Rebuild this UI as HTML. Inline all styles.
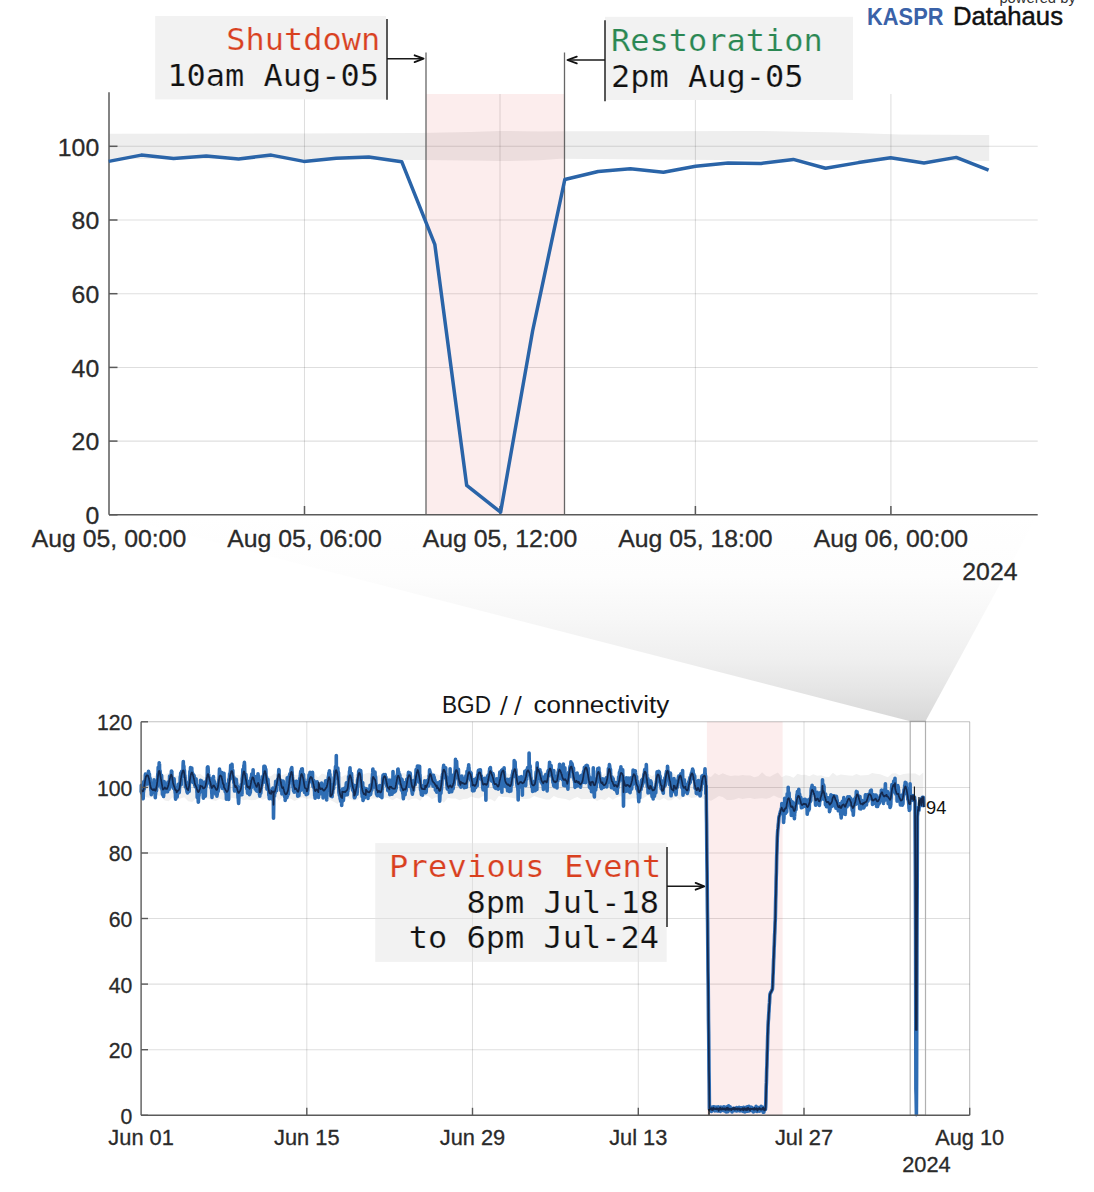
<!DOCTYPE html>
<html><head><meta charset="utf-8"><title>BGD connectivity</title>
<style>html,body{margin:0;padding:0;background:#fff;} body{width:1094px;height:1192px;overflow:hidden;} svg{display:block;}</style>
</head><body>
<svg width="1094" height="1192" viewBox="0 0 1094 1192">
<defs><linearGradient id="cone" x1="0" y1="515" x2="0" y2="721" gradientUnits="userSpaceOnUse"><stop offset="0" stop-color="#ffffff"/><stop offset="0.3" stop-color="#fdfdfd"/><stop offset="0.5" stop-color="#f7f7f7"/><stop offset="0.7" stop-color="#efefef"/><stop offset="0.85" stop-color="#e5e5e5"/><stop offset="1" stop-color="#d8d8d8"/></linearGradient></defs>
<rect x="0" y="0" width="1094" height="1192" fill="#ffffff"/>
<polygon points="109.0,514.8 1037.7,514.8 925.5,721.3 910.2,721.3" fill="url(#cone)"/>
<polygon points="109,133.7 300,133.4 420,133.0 470,132.0 500,131.0 540,131.4 560,131.3 650,131.2 760,130.9 840,132.5 900,134.5 989.2,134.9 989.2,161.0 900,160.2 840,160.2 760,160.2 650,159.4 560,158.8 540,160.3 500,161.1 470,160.6 420,160.0 300,159.3 109,158.9" fill="#eeeeee"/>
<line x1="109.0" y1="441.1" x2="1037.7" y2="441.1" stroke="#000000" stroke-opacity="0.13" stroke-width="1.05"/>
<line x1="109.0" y1="367.4" x2="1037.7" y2="367.4" stroke="#000000" stroke-opacity="0.13" stroke-width="1.05"/>
<line x1="109.0" y1="293.7" x2="1037.7" y2="293.7" stroke="#000000" stroke-opacity="0.13" stroke-width="1.05"/>
<line x1="109.0" y1="220.0" x2="1037.7" y2="220.0" stroke="#000000" stroke-opacity="0.13" stroke-width="1.05"/>
<line x1="109.0" y1="146.3" x2="1037.7" y2="146.3" stroke="#000000" stroke-opacity="0.13" stroke-width="1.05"/>
<line x1="304.5" y1="94.0" x2="304.5" y2="514.8" stroke="#000000" stroke-opacity="0.13" stroke-width="1.05"/>
<line x1="500.0" y1="94.0" x2="500.0" y2="514.8" stroke="#000000" stroke-opacity="0.13" stroke-width="1.05"/>
<line x1="695.4" y1="94.0" x2="695.4" y2="514.8" stroke="#000000" stroke-opacity="0.13" stroke-width="1.05"/>
<line x1="890.9" y1="94.0" x2="890.9" y2="514.8" stroke="#000000" stroke-opacity="0.13" stroke-width="1.05"/>
<rect x="426" y="94.0" width="138.5" height="420.8" fill="rgb(215,50,50)" fill-opacity="0.088"/>
<line x1="426" y1="52.5" x2="426" y2="514.8" stroke="#666" stroke-width="1.3"/>
<line x1="564.5" y1="52.5" x2="564.5" y2="514.8" stroke="#666" stroke-width="1.3"/>
<line x1="109.0" y1="92.3" x2="109.0" y2="514.8" stroke="#5a5a5a" stroke-width="1.5"/>
<line x1="109.0" y1="514.8" x2="1037.7" y2="514.8" stroke="#5a5a5a" stroke-width="1.5"/>
<line x1="109.0" y1="514.8" x2="117.5" y2="514.8" stroke="#5a5a5a" stroke-width="1.5"/>
<line x1="109.0" y1="441.1" x2="117.5" y2="441.1" stroke="#5a5a5a" stroke-width="1.5"/>
<line x1="109.0" y1="367.4" x2="117.5" y2="367.4" stroke="#5a5a5a" stroke-width="1.5"/>
<line x1="109.0" y1="293.7" x2="117.5" y2="293.7" stroke="#5a5a5a" stroke-width="1.5"/>
<line x1="109.0" y1="220.0" x2="117.5" y2="220.0" stroke="#5a5a5a" stroke-width="1.5"/>
<line x1="109.0" y1="146.3" x2="117.5" y2="146.3" stroke="#5a5a5a" stroke-width="1.5"/>
<line x1="304.5" y1="506" x2="304.5" y2="514.8" stroke="#5a5a5a" stroke-width="1.5"/>
<line x1="500.0" y1="506" x2="500.0" y2="514.8" stroke="#5a5a5a" stroke-width="1.5"/>
<line x1="695.4" y1="506" x2="695.4" y2="514.8" stroke="#5a5a5a" stroke-width="1.5"/>
<line x1="890.9" y1="506" x2="890.9" y2="514.8" stroke="#5a5a5a" stroke-width="1.5"/>
<polyline points="108.7,161.4 141.3,155.1 173.6,158.6 206.3,156.1 238.6,158.9 271.2,155.1 303.9,161.4 336.2,158.2 368.8,157.0 401.7,161.7 434.8,244.3 466.7,485.4 500.6,512.2 532.6,331.0 564.8,179.5 598.2,171.5 630.4,168.7 663.4,172.3 695.6,166.3 728.1,163.0 761.1,163.4 793.3,159.4 825.5,168.3 858.5,162.6 890.6,157.8 924.0,163.0 956.2,157.4 988.6,170.2" fill="none" stroke="#2a64a8" stroke-width="3.5" stroke-linejoin="round"/>
<text x="99.2" y="524.1" font-family="'Liberation Sans', Arial, Helvetica, sans-serif" font-size="24.8" fill="#2a2a2a" stroke="#2a2a2a" stroke-width="0.3" text-anchor="end">0</text>
<text x="99.2" y="450.4" font-family="'Liberation Sans', Arial, Helvetica, sans-serif" font-size="24.8" fill="#2a2a2a" stroke="#2a2a2a" stroke-width="0.3" text-anchor="end">20</text>
<text x="99.2" y="376.7" font-family="'Liberation Sans', Arial, Helvetica, sans-serif" font-size="24.8" fill="#2a2a2a" stroke="#2a2a2a" stroke-width="0.3" text-anchor="end">40</text>
<text x="99.2" y="303.0" font-family="'Liberation Sans', Arial, Helvetica, sans-serif" font-size="24.8" fill="#2a2a2a" stroke="#2a2a2a" stroke-width="0.3" text-anchor="end">60</text>
<text x="99.2" y="229.3" font-family="'Liberation Sans', Arial, Helvetica, sans-serif" font-size="24.8" fill="#2a2a2a" stroke="#2a2a2a" stroke-width="0.3" text-anchor="end">80</text>
<text x="99.2" y="155.6" font-family="'Liberation Sans', Arial, Helvetica, sans-serif" font-size="24.8" fill="#2a2a2a" stroke="#2a2a2a" stroke-width="0.3" text-anchor="end">100</text>
<text x="109.0" y="546.9" font-family="'Liberation Sans', Arial, Helvetica, sans-serif" font-size="24.8" fill="#2a2a2a" stroke="#2a2a2a" stroke-width="0.3" text-anchor="middle">Aug 05, 00:00</text>
<text x="304.5" y="546.9" font-family="'Liberation Sans', Arial, Helvetica, sans-serif" font-size="24.8" fill="#2a2a2a" stroke="#2a2a2a" stroke-width="0.3" text-anchor="middle">Aug 05, 06:00</text>
<text x="500.0" y="546.9" font-family="'Liberation Sans', Arial, Helvetica, sans-serif" font-size="24.8" fill="#2a2a2a" stroke="#2a2a2a" stroke-width="0.3" text-anchor="middle">Aug 05, 12:00</text>
<text x="695.4" y="546.9" font-family="'Liberation Sans', Arial, Helvetica, sans-serif" font-size="24.8" fill="#2a2a2a" stroke="#2a2a2a" stroke-width="0.3" text-anchor="middle">Aug 05, 18:00</text>
<text x="890.9" y="546.9" font-family="'Liberation Sans', Arial, Helvetica, sans-serif" font-size="24.8" fill="#2a2a2a" stroke="#2a2a2a" stroke-width="0.3" text-anchor="middle">Aug 06, 00:00</text>
<text x="1017.5" y="579.7" font-family="'Liberation Sans', Arial, Helvetica, sans-serif" font-size="24.8" fill="#2a2a2a" stroke="#2a2a2a" stroke-width="0.3" text-anchor="end">2024</text>
<rect x="155.2" y="16" width="230.8" height="83.4" fill="#f2f2f2"/>
<text transform="translate(380.3,50.2) scale(1,0.92)" x="0" y="0" font-family="'DejaVu Sans Mono', 'Liberation Mono', monospace" font-size="32" fill="#d9401f" stroke="#f2f2f2" stroke-width="0.2" text-anchor="end">Shutdown</text>
<text transform="translate(379,86.0) scale(1,0.92)" x="0" y="0" font-family="'DejaVu Sans Mono', 'Liberation Mono', monospace" font-size="32" fill="#111" stroke="#f2f2f2" stroke-width="0.2" text-anchor="end">10am Aug-05</text>
<line x1="387" y1="19" x2="387" y2="99.8" stroke="#222" stroke-width="1.5"/>
<line x1="387" y1="58.7" x2="423" y2="58.7" stroke="#1a1a1a" stroke-width="1.6"/>
<polyline points="414.6,55.3 423.6,58.7 414.6,62.1" fill="none" stroke="#111" stroke-width="1.8" stroke-linejoin="round" stroke-linecap="round"/>
<rect x="605" y="16.8" width="248" height="83.2" fill="#f2f2f2"/>
<text transform="translate(611,50.9) scale(1,0.92)" x="0" y="0" font-family="'DejaVu Sans Mono', 'Liberation Mono', monospace" font-size="32" fill="#2a8753" stroke="#f2f2f2" stroke-width="0.2" text-anchor="start">Restoration</text>
<text transform="translate(611,87.1) scale(1,0.92)" x="0" y="0" font-family="'DejaVu Sans Mono', 'Liberation Mono', monospace" font-size="32" fill="#111" stroke="#f2f2f2" stroke-width="0.2" text-anchor="start">2pm Aug-05</text>
<line x1="605" y1="20.2" x2="605" y2="101.2" stroke="#222" stroke-width="1.5"/>
<line x1="605" y1="60" x2="568" y2="60" stroke="#1a1a1a" stroke-width="1.6"/>
<polyline points="576.8,56.6 567.4,60 576.8,63.4" fill="none" stroke="#111" stroke-width="1.8" stroke-linejoin="round" stroke-linecap="round"/>
<text x="999.4" y="3.2" font-family="'Liberation Sans', Arial, Helvetica, sans-serif" font-size="15" fill="#333" textLength="76.4" lengthAdjust="spacingAndGlyphs">powered by</text>
<text x="867" y="25.1" font-family="'Liberation Sans', Arial, Helvetica, sans-serif" font-weight="bold" font-size="24" fill="#3a62a8" textLength="76.5" lengthAdjust="spacingAndGlyphs">KASPR</text>
<text x="953" y="25.1" font-family="'Liberation Sans', Arial, Helvetica, sans-serif" font-size="25" fill="#111" stroke="#111" stroke-width="0.45" textLength="110" lengthAdjust="spacingAndGlyphs">Datahaus</text>
<polygon points="141.1,774.9 145.0,774.4 149.0,775.4 152.9,776.4 156.8,775.7 160.8,776.5 164.7,774.8 168.6,772.7 172.5,775.7 176.5,775.9 180.4,774.1 184.3,774.3 188.3,774.7 192.2,776.4 196.1,775.0 200.1,773.8 204.0,777.1 207.9,775.7 211.9,778.0 215.8,777.0 219.7,777.9 223.6,775.3 227.6,777.0 231.5,774.5 235.4,774.7 239.4,775.2 243.3,779.0 247.2,775.8 251.2,775.0 255.1,774.7 259.0,777.4 263.0,775.7 266.9,776.5 270.8,776.2 274.7,773.2 278.7,776.2 282.6,775.0 286.5,773.5 290.5,775.9 294.4,775.1 298.3,774.7 302.3,774.8 306.2,776.9 310.1,774.8 314.0,772.7 318.0,777.5 321.9,773.5 325.8,774.7 329.8,776.0 333.7,771.6 337.6,773.7 341.6,776.9 345.5,774.8 349.4,774.0 353.4,775.2 357.3,773.8 361.2,775.0 365.1,773.8 369.1,772.6 373.0,776.0 376.9,774.6 380.9,775.7 384.8,774.7 388.7,776.9 392.7,775.9 396.6,775.2 400.5,773.4 404.5,773.0 408.4,777.1 412.3,776.2 416.2,773.9 420.2,778.2 424.1,775.7 428.0,775.1 432.0,772.9 435.9,773.8 439.8,775.5 443.8,775.5 447.7,775.3 451.6,772.4 455.6,775.6 459.5,775.4 463.4,774.3 467.3,775.1 471.3,775.2 475.2,776.7 479.1,774.9 483.1,775.6 487.0,773.0 490.9,773.9 494.9,775.0 498.8,773.8 502.7,775.5 506.7,773.2 510.6,774.9 514.5,774.0 518.4,777.0 522.4,774.4 526.3,777.7 530.2,778.3 534.2,775.4 538.1,776.4 542.0,774.7 546.0,771.2 549.9,776.3 553.8,775.9 557.7,774.6 561.7,774.1 565.6,775.2 569.5,775.3 573.5,773.8 577.4,774.1 581.3,776.6 585.3,775.1 589.2,774.9 593.1,776.7 597.1,774.5 601.0,776.3 604.9,773.3 608.8,774.6 612.8,774.8 616.7,775.9 620.6,775.1 624.6,778.2 628.5,776.8 632.4,774.3 636.4,778.4 640.3,773.5 644.2,777.8 648.2,773.7 652.1,776.3 656.0,773.6 659.9,774.7 663.9,777.4 667.8,772.9 671.7,772.6 675.7,775.0 679.6,775.4 683.5,775.2 687.5,776.5 691.4,773.1 695.3,775.8 699.3,775.0 703.2,776.2 707.1,775.9 711.0,777.0 715.0,772.9 718.9,775.2 722.8,773.3 726.8,774.9 730.7,776.1 734.6,775.5 738.6,775.8 742.5,774.9 746.4,775.5 750.4,775.4 754.3,777.2 758.2,776.2 762.1,772.2 766.1,776.0 770.0,776.7 773.9,774.4 777.9,772.6 781.8,777.3 785.7,775.3 789.7,776.0 793.6,777.8 797.5,773.7 801.4,775.0 805.4,774.8 809.3,776.2 813.2,774.2 817.2,775.8 821.1,775.2 825.0,776.7 829.0,776.9 832.9,772.7 836.8,775.8 840.8,774.4 844.7,775.0 848.6,775.6 852.5,775.8 856.5,773.9 860.4,775.4 864.3,775.2 868.3,774.9 872.2,773.0 876.1,773.8 880.1,774.3 884.0,775.8 887.9,777.2 891.9,773.4 895.8,773.3 899.7,775.2 903.6,774.0 907.6,773.6 911.5,773.6 915.4,773.4 919.4,775.7 923.3,772.4 923.3,799.8 919.4,801.4 915.4,796.9 911.5,798.2 907.6,798.8 903.6,797.2 899.7,800.9 895.8,800.7 891.9,799.1 887.9,799.2 884.0,798.7 880.1,797.7 876.1,799.3 872.2,796.8 868.3,796.8 864.3,796.7 860.4,800.4 856.5,798.3 852.5,800.4 848.6,798.8 844.7,798.6 840.8,800.5 836.8,799.8 832.9,798.2 829.0,794.8 825.0,797.5 821.1,799.6 817.2,799.1 813.2,801.3 809.3,798.8 805.4,797.4 801.4,797.1 797.5,800.8 793.6,801.7 789.7,797.9 785.7,801.3 781.8,798.4 777.9,797.6 773.9,795.5 770.0,797.7 766.1,798.7 762.1,798.2 758.2,798.6 754.3,799.0 750.4,798.0 746.4,798.2 742.5,798.9 738.6,798.1 734.6,799.4 730.7,799.9 726.8,800.1 722.8,797.0 718.9,796.1 715.0,798.5 711.0,800.8 707.1,799.5 703.2,798.9 699.3,795.3 695.3,797.6 691.4,798.1 687.5,796.0 683.5,796.8 679.6,800.0 675.7,796.4 671.7,800.3 667.8,800.6 663.9,798.0 659.9,800.2 656.0,798.9 652.1,799.0 648.2,795.2 644.2,797.8 640.3,800.2 636.4,798.5 632.4,798.2 628.5,799.5 624.6,799.0 620.6,796.0 616.7,797.6 612.8,799.8 608.8,797.1 604.9,799.9 601.0,798.9 597.1,801.1 593.1,798.4 589.2,798.9 585.3,798.9 581.3,799.2 577.4,797.1 573.5,798.6 569.5,800.4 565.6,799.1 561.7,798.4 557.7,797.7 553.8,795.9 549.9,799.6 546.0,799.5 542.0,798.6 538.1,797.6 534.2,796.1 530.2,798.4 526.3,798.9 522.4,798.9 518.4,798.2 514.5,798.4 510.6,797.4 506.7,797.0 502.7,797.0 498.8,796.0 494.9,801.5 490.9,799.2 487.0,799.4 483.1,796.0 479.1,798.5 475.2,798.0 471.3,796.6 467.3,798.8 463.4,799.0 459.5,800.3 455.6,798.4 451.6,798.6 447.7,798.1 443.8,802.8 439.8,797.9 435.9,797.3 432.0,799.3 428.0,796.1 424.1,795.7 420.2,800.7 416.2,798.5 412.3,798.8 408.4,800.6 404.5,796.7 400.5,799.7 396.6,797.7 392.7,800.2 388.7,798.2 384.8,797.6 380.9,797.2 376.9,798.5 373.0,798.6 369.1,798.5 365.1,798.3 361.2,796.7 357.3,800.1 353.4,800.5 349.4,798.5 345.5,796.3 341.6,799.4 337.6,803.9 333.7,801.8 329.8,799.7 325.8,802.1 321.9,798.6 318.0,796.6 314.0,799.0 310.1,798.4 306.2,798.7 302.3,797.3 298.3,799.3 294.4,800.9 290.5,798.6 286.5,798.7 282.6,797.1 278.7,800.8 274.7,795.2 270.8,798.0 266.9,797.9 263.0,799.8 259.0,798.2 255.1,800.0 251.2,800.2 247.2,799.6 243.3,800.2 239.4,797.9 235.4,798.6 231.5,797.7 227.6,801.2 223.6,800.1 219.7,798.8 215.8,801.0 211.9,799.9 207.9,798.5 204.0,798.9 200.1,798.5 196.1,798.1 192.2,802.0 188.3,801.2 184.3,797.2 180.4,798.6 176.5,800.2 172.5,797.2 168.6,801.3 164.7,800.4 160.8,796.1 156.8,795.5 152.9,797.1 149.0,797.7 145.0,797.1 141.1,800.6" fill="#f0f0f0"/>
<line x1="141.1" y1="1049.7" x2="969.7" y2="1049.7" stroke="#000000" stroke-opacity="0.13" stroke-width="1.05"/>
<line x1="141.1" y1="984.1" x2="969.7" y2="984.1" stroke="#000000" stroke-opacity="0.13" stroke-width="1.05"/>
<line x1="141.1" y1="918.5" x2="969.7" y2="918.5" stroke="#000000" stroke-opacity="0.13" stroke-width="1.05"/>
<line x1="141.1" y1="853.0" x2="969.7" y2="853.0" stroke="#000000" stroke-opacity="0.13" stroke-width="1.05"/>
<line x1="141.1" y1="787.4" x2="969.7" y2="787.4" stroke="#000000" stroke-opacity="0.13" stroke-width="1.05"/>
<line x1="141.1" y1="721.8" x2="969.7" y2="721.8" stroke="#000000" stroke-opacity="0.13" stroke-width="1.05"/>
<line x1="306.8" y1="721.8" x2="306.8" y2="1115.3" stroke="#000000" stroke-opacity="0.13" stroke-width="1.05"/>
<line x1="472.5" y1="721.8" x2="472.5" y2="1115.3" stroke="#000000" stroke-opacity="0.13" stroke-width="1.05"/>
<line x1="638.3" y1="721.8" x2="638.3" y2="1115.3" stroke="#000000" stroke-opacity="0.13" stroke-width="1.05"/>
<line x1="804.0" y1="721.8" x2="804.0" y2="1115.3" stroke="#000000" stroke-opacity="0.13" stroke-width="1.05"/>
<line x1="969.7" y1="721.8" x2="969.7" y2="1115.3" stroke="#000000" stroke-opacity="0.13" stroke-width="1.05"/>
<rect x="706.9" y="721.8" width="75.7" height="393.5" fill="rgb(215,50,50)" fill-opacity="0.088"/>
<rect x="910.2" y="721.3" width="15.3" height="394.0" fill="none" stroke="#b0b0b0" stroke-width="1.2"/>
<path d="M141.1,791.7 L141.2,792.0 L141.3,785.3 L141.5,788.9 L141.6,788.8 L141.7,793.3 L141.8,791.2 L142.0,788.0 L142.1,786.0 L142.2,786.6 L142.3,791.8 L142.5,789.0 L142.6,789.8 L142.7,796.7 L142.8,794.1 L142.9,797.1 L143.1,798.7 L143.2,798.1 L143.3,792.5 L143.4,792.5 L143.6,790.7 L143.7,785.3 L143.8,781.5 L143.9,783.1 L144.1,784.4 L144.2,787.9 L144.3,788.9 L144.4,786.4 L144.6,784.5 L144.7,783.6 L144.8,780.4 L144.9,782.4 L145.0,781.9 L145.2,779.2 L145.3,777.4 L145.4,774.5 L145.5,774.0 L145.7,775.3 L145.8,774.4 L145.9,777.2 L146.0,780.9 L146.2,777.6 L146.3,776.8 L146.4,775.1 L146.5,779.2 L146.6,778.6 L146.8,778.8 L146.9,779.7 L147.0,784.1 L147.1,782.3 L147.3,777.8 L147.4,775.9 L147.5,777.1 L147.6,776.6 L147.8,774.3 L147.9,782.1 L148.0,781.1 L148.1,778.7 L148.3,776.7 L148.4,772.7 L148.5,771.4 L148.6,772.7 L148.7,774.0 L148.9,773.8 L149.0,777.3 L149.1,778.8 L149.2,777.6 L149.4,774.1 L149.5,777.2 L149.6,779.3 L149.7,780.4 L149.9,778.4 L150.0,780.5 L150.1,778.3 L150.2,783.2 L150.3,784.8 L150.5,786.2 L150.6,784.6 L150.7,782.8 L150.8,788.3 L151.0,790.9 L151.1,789.5 L151.2,791.1 L151.3,794.7 L151.5,790.6 L151.6,788.9 L151.7,787.7 L151.8,789.4 L152.0,786.7 L152.1,788.0 L152.2,785.5 L152.3,788.9 L152.4,791.4 L152.6,790.4 L152.7,792.1 L152.8,789.8 L152.9,789.3 L153.1,792.0 L153.2,791.4 L153.3,792.1 L153.4,789.2 L153.6,791.3 L153.7,792.3 L153.8,788.7 L153.9,783.3 L154.0,779.9 L154.2,782.5 L154.3,784.0 L154.4,781.7 L154.5,784.3 L154.7,788.6 L154.8,792.2 L154.9,788.1 L155.0,790.9 L155.2,795.1 L155.3,797.6 L155.4,793.8 L155.5,794.7 L155.6,793.5 L155.8,791.6 L155.9,789.0 L156.0,789.4 L156.1,787.3 L156.3,789.3 L156.4,789.2 L156.5,790.7 L156.6,785.8 L156.8,785.1 L156.9,786.3 L157.0,785.9 L157.1,785.0 L157.3,781.7 L157.4,785.2 L157.5,786.1 L157.6,784.8 L157.7,775.9 L157.9,773.3 L158.0,774.0 L158.1,772.2 L158.2,767.2 L158.4,769.4 L158.5,771.3 L158.6,768.5 L158.7,768.2 L158.9,767.5 L159.0,770.1 L159.1,765.6 L159.2,762.8 L159.3,763.8 L159.5,764.3 L159.6,772.0 L159.7,770.7 L159.8,772.1 L160.0,771.7 L160.1,770.8 L160.2,773.0 L160.3,778.4 L160.5,777.2 L160.6,779.4 L160.7,780.1 L160.8,781.6 L161.0,782.2 L161.1,788.0 L161.2,783.2 L161.3,782.3 L161.4,779.6 L161.6,775.4 L161.7,777.6 L161.8,784.2 L161.9,786.9 L162.1,789.9 L162.2,790.4 L162.3,789.3 L162.4,794.1 L162.6,791.6 L162.7,794.7 L162.8,792.3 L162.9,791.7 L163.0,791.7 L163.2,791.2 L163.3,792.1 L163.4,793.0 L163.5,796.5 L163.7,794.8 L163.8,788.5 L163.9,783.5 L164.0,781.5 L164.2,781.7 L164.3,785.5 L164.4,782.7 L164.5,784.6 L164.7,786.1 L164.8,786.5 L164.9,786.8 L165.0,788.5 L165.1,788.8 L165.3,791.7 L165.4,792.1 L165.5,785.3 L165.6,786.5 L165.8,787.9 L165.9,786.9 L166.0,785.7 L166.1,789.6 L166.3,790.1 L166.4,787.6 L166.5,787.3 L166.6,787.5 L166.7,783.8 L166.9,786.9 L167.0,787.1 L167.1,788.8 L167.2,784.6 L167.4,790.6 L167.5,791.5 L167.6,791.7 L167.7,788.5 L167.9,786.1 L168.0,782.1 L168.1,786.8 L168.2,784.0 L168.4,784.5 L168.5,785.6 L168.6,783.1 L168.7,784.9 L168.8,789.2 L169.0,787.6 L169.1,789.3 L169.2,788.1 L169.3,784.4 L169.5,781.6 L169.6,776.0 L169.7,776.4 L169.8,780.1 L170.0,780.7 L170.1,781.6 L170.2,783.0 L170.3,779.5 L170.4,779.8 L170.6,783.6 L170.7,779.3 L170.8,778.3 L170.9,776.3 L171.1,780.4 L171.2,773.7 L171.3,774.0 L171.4,771.1 L171.6,771.2 L171.7,771.6 L171.8,771.9 L171.9,777.2 L172.0,778.0 L172.2,779.0 L172.3,778.6 L172.4,782.7 L172.5,777.9 L172.7,778.6 L172.8,782.8 L172.9,787.4 L173.0,787.2 L173.2,786.6 L173.3,788.0 L173.4,787.1 L173.5,788.4 L173.7,786.3 L173.8,788.2 L173.9,787.9 L174.0,785.1 L174.1,778.8 L174.3,783.6 L174.4,785.8 L174.5,788.5 L174.6,786.2 L174.8,789.7 L174.9,790.5 L175.0,790.0 L175.1,792.1 L175.3,793.6 L175.4,793.5 L175.5,797.7 L175.6,799.1 L175.7,797.4 L175.9,794.7 L176.0,793.5 L176.1,796.9 L176.2,795.9 L176.4,791.9 L176.5,789.5 L176.6,792.0 L176.7,794.2 L176.9,791.8 L177.0,793.2 L177.1,795.9 L177.2,796.9 L177.4,791.8 L177.5,791.2 L177.6,788.2 L177.7,790.4 L177.8,788.2 L178.0,790.7 L178.1,791.3 L178.2,784.7 L178.3,784.3 L178.5,787.3 L178.6,788.4 L178.7,788.1 L178.8,785.4 L179.0,787.7 L179.1,792.7 L179.2,792.5 L179.3,791.3 L179.4,790.1 L179.6,785.8 L179.7,785.0 L179.8,782.9 L179.9,786.2 L180.1,783.3 L180.2,777.6 L180.3,776.6 L180.4,777.0 L180.6,777.4 L180.7,773.1 L180.8,776.9 L180.9,777.3 L181.1,775.9 L181.2,784.8 L181.3,775.3 L181.4,774.2 L181.5,774.8 L181.7,771.3 L181.8,774.0 L181.9,776.5 L182.0,775.3 L182.2,772.0 L182.3,774.3 L182.4,774.1 L182.5,771.5 L182.7,774.2 L182.8,772.9 L182.9,775.3 L183.0,771.3 L183.1,765.3 L183.3,761.6 L183.4,765.0 L183.5,765.1 L183.6,766.9 L183.8,768.6 L183.9,766.1 L184.0,772.1 L184.1,770.4 L184.3,772.3 L184.4,770.1 L184.5,771.8 L184.6,775.6 L184.7,776.2 L184.9,775.5 L185.0,777.1 L185.1,777.3 L185.2,780.3 L185.4,787.0 L185.5,784.1 L185.6,782.6 L185.7,783.1 L185.9,783.8 L186.0,781.9 L186.1,784.5 L186.2,787.3 L186.4,788.0 L186.5,785.0 L186.6,789.7 L186.7,786.4 L186.8,788.8 L187.0,791.9 L187.1,788.0 L187.2,788.8 L187.3,792.5 L187.5,792.9 L187.6,789.7 L187.7,786.7 L187.8,788.8 L188.0,788.1 L188.1,786.9 L188.2,789.5 L188.3,788.9 L188.4,787.7 L188.6,789.1 L188.7,789.8 L188.8,788.8 L188.9,787.9 L189.1,791.4 L189.2,788.7 L189.3,784.4 L189.4,783.4 L189.6,780.7 L189.7,777.6 L189.8,776.7 L189.9,771.4 L190.1,775.4 L190.2,773.9 L190.3,775.6 L190.4,770.9 L190.5,767.6 L190.7,769.2 L190.8,777.2 L190.9,774.6 L191.0,772.3 L191.2,770.5 L191.3,771.3 L191.4,770.4 L191.5,769.2 L191.7,770.2 L191.8,768.0 L191.9,775.1 L192.0,772.7 L192.1,775.5 L192.3,772.3 L192.4,773.2 L192.5,775.7 L192.6,774.3 L192.8,776.9 L192.9,778.9 L193.0,782.4 L193.1,781.0 L193.3,778.8 L193.4,775.9 L193.5,777.0 L193.6,774.8 L193.8,776.1 L193.9,777.5 L194.0,777.0 L194.1,775.5 L194.2,778.3 L194.4,780.2 L194.5,781.6 L194.6,782.2 L194.7,785.3 L194.9,782.7 L195.0,784.6 L195.1,783.8 L195.2,786.8 L195.4,785.9 L195.5,785.3 L195.6,787.0 L195.7,781.8 L195.8,782.4 L196.0,779.1 L196.1,778.9 L196.2,783.0 L196.3,785.4 L196.5,785.0 L196.6,785.7 L196.7,786.3 L196.8,787.7 L197.0,792.8 L197.1,792.4 L197.2,797.4 L197.3,794.3 L197.4,794.9 L197.6,795.3 L197.7,794.4 L197.8,792.4 L197.9,795.4 L198.1,798.6 L198.2,799.1 L198.3,802.2 L198.4,801.6 L198.6,794.5 L198.7,796.1 L198.8,792.8 L198.9,795.8 L199.1,793.5 L199.2,793.5 L199.3,792.7 L199.4,790.5 L199.5,785.6 L199.7,786.0 L199.8,786.5 L199.9,789.7 L200.0,787.8 L200.2,788.6 L200.3,783.9 L200.4,784.6 L200.5,780.4 L200.7,787.2 L200.8,787.7 L200.9,785.0 L201.0,786.2 L201.1,788.3 L201.3,788.5 L201.4,791.5 L201.5,789.9 L201.6,782.5 L201.8,781.1 L201.9,784.8 L202.0,787.5 L202.1,788.3 L202.3,785.2 L202.4,787.8 L202.5,789.4 L202.6,786.5 L202.8,784.4 L202.9,786.1 L203.0,789.4 L203.1,793.1 L203.2,793.6 L203.4,798.1 L203.5,793.5 L203.6,793.8 L203.7,791.8 L203.9,785.3 L204.0,782.8 L204.1,787.1 L204.2,784.9 L204.4,784.1 L204.5,785.6 L204.6,788.4 L204.7,788.2 L204.8,791.9 L205.0,786.4 L205.1,792.4 L205.2,793.4 L205.3,796.2 L205.5,790.3 L205.6,788.0 L205.7,785.8 L205.8,785.3 L206.0,781.2 L206.1,786.6 L206.2,784.9 L206.3,785.3 L206.5,783.2 L206.6,781.3 L206.7,782.7 L206.8,783.0 L206.9,779.2 L207.1,777.5 L207.2,778.9 L207.3,772.6 L207.4,767.2 L207.6,773.1 L207.7,772.8 L207.8,766.7 L207.9,766.8 L208.1,768.3 L208.2,770.7 L208.3,773.4 L208.4,774.7 L208.5,776.6 L208.7,774.7 L208.8,776.4 L208.9,778.0 L209.0,781.3 L209.2,780.9 L209.3,782.9 L209.4,782.7 L209.5,779.4 L209.7,778.9 L209.8,778.3 L209.9,778.4 L210.0,779.4 L210.1,780.7 L210.3,782.3 L210.4,780.8 L210.5,784.7 L210.6,781.3 L210.8,782.2 L210.9,785.1 L211.0,786.6 L211.1,788.3 L211.3,787.4 L211.4,789.1 L211.5,785.4 L211.6,787.8 L211.8,793.6 L211.9,793.8 L212.0,797.4 L212.1,794.1 L212.2,789.5 L212.4,787.1 L212.5,790.6 L212.6,791.8 L212.7,785.8 L212.9,785.3 L213.0,785.7 L213.1,783.2 L213.2,777.6 L213.4,776.5 L213.5,778.7 L213.6,779.8 L213.7,779.9 L213.8,783.3 L214.0,787.0 L214.1,786.8 L214.2,789.4 L214.3,788.9 L214.5,788.2 L214.6,781.7 L214.7,785.4 L214.8,786.2 L215.0,787.0 L215.1,786.0 L215.2,783.7 L215.3,786.0 L215.5,788.7 L215.6,792.9 L215.7,794.2 L215.8,791.4 L215.9,790.5 L216.1,792.7 L216.2,792.6 L216.3,791.5 L216.4,789.4 L216.6,790.7 L216.7,790.7 L216.8,794.9 L216.9,796.1 L217.1,789.7 L217.2,794.8 L217.3,793.7 L217.4,791.2 L217.5,790.8 L217.7,791.6 L217.8,790.0 L217.9,788.5 L218.0,787.5 L218.2,791.3 L218.3,789.4 L218.4,789.7 L218.5,788.9 L218.7,786.1 L218.8,782.7 L218.9,779.4 L219.0,780.4 L219.2,777.3 L219.3,774.1 L219.4,771.7 L219.5,769.1 L219.6,771.2 L219.8,772.7 L219.9,771.1 L220.0,775.7 L220.1,775.0 L220.3,776.3 L220.4,786.0 L220.5,781.0 L220.6,781.9 L220.8,780.3 L220.9,776.7 L221.0,773.9 L221.1,774.7 L221.2,775.7 L221.4,778.2 L221.5,777.0 L221.6,778.0 L221.7,776.6 L221.9,772.6 L222.0,774.5 L222.1,780.0 L222.2,782.6 L222.4,786.3 L222.5,788.5 L222.6,783.6 L222.7,783.0 L222.9,787.3 L223.0,784.8 L223.1,781.5 L223.2,783.4 L223.3,785.8 L223.5,786.7 L223.6,785.8 L223.7,784.3 L223.8,781.8 L224.0,773.3 L224.1,781.0 L224.2,779.6 L224.3,780.4 L224.5,786.8 L224.6,788.0 L224.7,787.7 L224.8,789.3 L224.9,787.2 L225.1,788.9 L225.2,791.8 L225.3,787.6 L225.4,786.6 L225.6,787.1 L225.7,785.6 L225.8,784.1 L225.9,784.9 L226.1,793.0 L226.2,794.4 L226.3,794.8 L226.4,799.1 L226.5,794.7 L226.7,790.7 L226.8,792.2 L226.9,795.0 L227.0,788.6 L227.2,790.5 L227.3,793.8 L227.4,792.4 L227.5,790.8 L227.7,792.5 L227.8,789.7 L227.9,790.9 L228.0,792.8 L228.2,791.2 L228.3,788.3 L228.4,789.7 L228.5,788.0 L228.6,799.4 L228.8,779.4 L228.9,782.5 L229.0,779.0 L229.1,780.0 L229.3,780.7 L229.4,778.8 L229.5,776.7 L229.6,773.9 L229.8,774.0 L229.9,776.4 L230.0,777.9 L230.1,776.0 L230.2,774.2 L230.4,770.5 L230.5,770.2 L230.6,768.1 L230.7,765.2 L230.9,766.5 L231.0,771.8 L231.1,774.9 L231.2,777.9 L231.4,772.1 L231.5,774.2 L231.6,770.3 L231.7,769.1 L231.9,765.3 L232.0,764.4 L232.1,766.7 L232.2,768.9 L232.3,769.9 L232.5,770.5 L232.6,773.1 L232.7,773.8 L232.8,770.2 L233.0,776.4 L233.1,776.1 L233.2,779.2 L233.3,778.8 L233.5,776.9 L233.6,778.1 L233.7,777.0 L233.8,782.6 L233.9,779.8 L234.1,777.8 L234.2,781.3 L234.3,781.8 L234.4,789.7 L234.6,790.9 L234.7,789.3 L234.8,784.7 L234.9,784.7 L235.1,784.8 L235.2,789.5 L235.3,785.5 L235.4,781.6 L235.6,783.4 L235.7,785.5 L235.8,789.5 L235.9,787.0 L236.0,780.3 L236.2,780.6 L236.3,779.4 L236.4,780.4 L236.5,785.3 L236.7,782.8 L236.8,787.8 L236.9,788.8 L237.0,788.3 L237.2,786.3 L237.3,786.1 L237.4,786.1 L237.5,789.1 L237.6,792.8 L237.8,792.0 L237.9,793.4 L238.0,796.2 L238.1,798.1 L238.3,797.5 L238.4,800.8 L238.5,801.8 L238.6,803.4 L238.8,799.8 L238.9,796.5 L239.0,789.8 L239.1,794.1 L239.2,795.1 L239.4,791.6 L239.5,792.0 L239.6,792.5 L239.7,787.5 L239.9,789.0 L240.0,792.3 L240.1,795.1 L240.2,792.7 L240.4,790.9 L240.5,793.9 L240.6,794.9 L240.7,791.5 L240.9,788.7 L241.0,789.7 L241.1,786.8 L241.2,784.6 L241.3,789.1 L241.5,788.3 L241.6,785.5 L241.7,785.9 L241.8,790.1 L242.0,794.7 L242.1,783.7 L242.2,778.0 L242.3,783.6 L242.5,774.8 L242.6,777.9 L242.7,774.6 L242.8,771.3 L242.9,769.3 L243.1,769.9 L243.2,773.8 L243.3,777.6 L243.4,773.9 L243.6,780.2 L243.7,770.8 L243.8,769.3 L243.9,765.3 L244.1,769.6 L244.2,766.5 L244.3,764.0 L244.4,762.3 L244.6,765.3 L244.7,770.9 L244.8,772.5 L244.9,779.2 L245.0,783.1 L245.2,781.4 L245.3,783.2 L245.4,782.5 L245.5,782.1 L245.7,776.5 L245.8,774.2 L245.9,776.2 L246.0,774.6 L246.2,778.8 L246.3,781.0 L246.4,779.4 L246.5,784.1 L246.6,785.3 L246.8,789.0 L246.9,788.1 L247.0,783.5 L247.1,786.5 L247.3,786.3 L247.4,789.1 L247.5,792.0 L247.6,793.2 L247.8,787.7 L247.9,781.3 L248.0,781.5 L248.1,784.9 L248.3,783.7 L248.4,785.6 L248.5,784.0 L248.6,784.2 L248.7,784.4 L248.9,783.6 L249.0,786.2 L249.1,787.7 L249.2,792.2 L249.4,792.2 L249.5,794.7 L249.6,793.1 L249.7,794.0 L249.9,791.7 L250.0,789.0 L250.1,791.8 L250.2,792.2 L250.3,792.7 L250.5,788.5 L250.6,782.6 L250.7,780.3 L250.8,781.7 L251.0,777.7 L251.1,782.5 L251.2,778.0 L251.3,780.2 L251.5,787.4 L251.6,778.2 L251.7,774.1 L251.8,777.9 L251.9,777.4 L252.1,778.1 L252.2,777.7 L252.3,781.5 L252.4,782.3 L252.6,779.8 L252.7,778.6 L252.8,775.1 L252.9,775.5 L253.1,769.8 L253.2,773.8 L253.3,774.3 L253.4,780.5 L253.6,783.5 L253.7,779.0 L253.8,781.8 L253.9,780.1 L254.0,780.5 L254.2,783.6 L254.3,784.1 L254.4,785.1 L254.5,785.9 L254.7,783.3 L254.8,781.8 L254.9,784.0 L255.0,786.6 L255.2,789.2 L255.3,785.8 L255.4,783.1 L255.5,776.8 L255.6,777.0 L255.8,779.5 L255.9,781.7 L256.0,785.3 L256.1,788.1 L256.3,790.5 L256.4,790.6 L256.5,790.8 L256.6,787.8 L256.8,788.6 L256.9,788.6 L257.0,791.3 L257.1,785.7 L257.3,784.5 L257.4,780.2 L257.5,779.5 L257.6,777.2 L257.7,780.0 L257.9,779.5 L258.0,773.9 L258.1,780.1 L258.2,778.4 L258.4,775.7 L258.5,777.1 L258.6,777.3 L258.7,776.1 L258.9,780.4 L259.0,780.7 L259.1,784.5 L259.2,786.9 L259.3,788.5 L259.5,794.7 L259.6,793.9 L259.7,792.4 L259.8,796.3 L260.0,790.0 L260.1,787.4 L260.2,786.6 L260.3,788.9 L260.5,789.8 L260.6,788.6 L260.7,788.0 L260.8,793.1 L261.0,790.2 L261.1,782.0 L261.2,788.6 L261.3,785.7 L261.4,785.0 L261.6,785.6 L261.7,781.7 L261.8,785.6 L261.9,784.6 L262.1,780.1 L262.2,781.0 L262.3,782.1 L262.4,781.2 L262.6,781.8 L262.7,776.6 L262.8,779.2 L262.9,776.1 L263.0,779.3 L263.2,776.3 L263.3,776.0 L263.4,782.4 L263.5,780.0 L263.7,780.9 L263.8,779.9 L263.9,766.4 L264.0,776.0 L264.2,777.7 L264.3,772.1 L264.4,771.5 L264.5,767.2 L264.7,766.2 L264.8,770.8 L264.9,771.3 L265.0,768.2 L265.1,766.8 L265.3,768.5 L265.4,769.7 L265.5,771.3 L265.6,773.9 L265.8,769.2 L265.9,771.2 L266.0,775.9 L266.1,777.9 L266.3,776.3 L266.4,776.7 L266.5,777.4 L266.6,780.4 L266.7,780.9 L266.9,786.2 L267.0,789.3 L267.1,786.1 L267.2,787.3 L267.4,786.1 L267.5,783.0 L267.6,782.4 L267.7,783.8 L267.9,779.2 L268.0,779.9 L268.1,783.2 L268.2,782.9 L268.3,783.6 L268.5,787.7 L268.6,788.2 L268.7,789.4 L268.8,795.2 L269.0,794.7 L269.1,794.7 L269.2,795.1 L269.3,798.8 L269.5,798.1 L269.6,796.7 L269.7,795.3 L269.8,797.6 L270.0,794.6 L270.1,797.4 L270.2,796.8 L270.3,792.2 L270.4,794.3 L270.6,795.3 L270.7,791.8 L270.8,793.2 L270.9,794.0 L271.1,793.2 L271.2,790.3 L271.3,793.4 L271.4,794.9 L271.6,796.5 L271.7,798.0 L271.8,798.5 L271.9,798.8 L272.0,796.0 L272.2,797.1 L272.3,795.2 L272.4,793.1 L272.5,794.5 L272.7,793.3 L272.8,788.4 L272.9,788.2 L273.0,790.8 L273.2,791.1 L273.3,793.8 L273.4,805.4 L273.5,818.2 L273.7,805.5 L273.8,793.1 L273.9,789.8 L274.0,791.7 L274.1,791.2 L274.3,794.2 L274.4,795.8 L274.5,796.2 L274.6,789.2 L274.8,790.8 L274.9,792.3 L275.0,793.4 L275.1,793.0 L275.3,790.5 L275.4,789.7 L275.5,784.0 L275.6,784.5 L275.7,781.4 L275.9,782.1 L276.0,781.5 L276.1,786.3 L276.2,786.2 L276.4,785.8 L276.5,785.8 L276.6,790.6 L276.7,785.9 L276.9,785.6 L277.0,785.3 L277.1,784.3 L277.2,783.4 L277.4,780.8 L277.5,783.1 L277.6,783.8 L277.7,780.9 L277.8,778.9 L278.0,778.8 L278.1,779.0 L278.2,779.9 L278.3,778.4 L278.5,773.9 L278.6,776.5 L278.7,771.5 L278.8,769.6 L279.0,771.7 L279.1,770.0 L279.2,779.7 L279.3,779.2 L279.4,781.4 L279.6,780.9 L279.7,780.4 L279.8,780.7 L279.9,779.5 L280.1,784.6 L280.2,781.7 L280.3,784.8 L280.4,785.2 L280.6,785.1 L280.7,787.2 L280.8,789.5 L280.9,790.5 L281.0,788.8 L281.2,786.0 L281.3,784.2 L281.4,787.2 L281.5,780.9 L281.7,790.9 L281.8,788.7 L281.9,793.9 L282.0,789.2 L282.2,790.3 L282.3,792.0 L282.4,790.4 L282.5,787.4 L282.7,787.1 L282.8,785.0 L282.9,786.0 L283.0,783.8 L283.1,781.0 L283.3,783.6 L283.4,781.6 L283.5,783.5 L283.6,785.2 L283.8,789.2 L283.9,790.6 L284.0,788.9 L284.1,793.2 L284.3,791.2 L284.4,790.5 L284.5,790.3 L284.6,796.7 L284.7,796.0 L284.9,793.5 L285.0,795.3 L285.1,794.5 L285.2,800.5 L285.4,796.9 L285.5,797.7 L285.6,794.3 L285.7,799.0 L285.9,795.8 L286.0,795.9 L286.1,793.2 L286.2,795.7 L286.4,796.9 L286.5,790.1 L286.6,793.1 L286.7,795.1 L286.8,795.3 L287.0,797.5 L287.1,793.1 L287.2,777.9 L287.3,791.2 L287.5,795.9 L287.6,791.6 L287.7,788.4 L287.8,786.6 L288.0,784.3 L288.1,787.7 L288.2,788.2 L288.3,791.6 L288.4,794.1 L288.6,789.4 L288.7,787.6 L288.8,782.4 L288.9,782.3 L289.1,783.9 L289.2,781.0 L289.3,776.0 L289.4,775.5 L289.6,779.4 L289.7,777.9 L289.8,773.9 L289.9,775.7 L290.1,777.5 L290.2,774.0 L290.3,773.6 L290.4,776.4 L290.5,776.5 L290.7,777.5 L290.8,775.3 L290.9,774.2 L291.0,770.5 L291.2,768.9 L291.3,773.8 L291.4,772.3 L291.5,769.9 L291.7,769.3 L291.8,767.5 L291.9,770.4 L292.0,773.8 L292.1,771.5 L292.3,775.3 L292.4,781.2 L292.5,777.3 L292.6,779.3 L292.8,779.8 L292.9,783.4 L293.0,786.0 L293.1,787.7 L293.3,787.2 L293.4,785.0 L293.5,790.7 L293.6,787.0 L293.7,789.6 L293.9,791.4 L294.0,788.3 L294.1,788.2 L294.2,792.1 L294.4,786.2 L294.5,789.1 L294.6,788.5 L294.7,788.3 L294.9,785.0 L295.0,788.1 L295.1,785.8 L295.2,788.7 L295.4,786.0 L295.5,789.0 L295.6,790.2 L295.7,785.1 L295.8,785.5 L296.0,786.4 L296.1,781.4 L296.2,782.7 L296.3,781.2 L296.5,785.9 L296.6,790.2 L296.7,787.4 L296.8,785.1 L297.0,788.1 L297.1,790.5 L297.2,790.2 L297.3,790.3 L297.4,793.1 L297.6,791.0 L297.7,796.3 L297.8,796.0 L297.9,795.6 L298.1,794.9 L298.2,792.7 L298.3,795.1 L298.4,791.9 L298.6,794.3 L298.7,792.2 L298.8,794.5 L298.9,795.6 L299.1,792.2 L299.2,793.0 L299.3,790.6 L299.4,786.0 L299.5,782.5 L299.7,778.3 L299.8,779.8 L299.9,782.9 L300.0,779.5 L300.2,778.6 L300.3,775.6 L300.4,776.2 L300.5,773.4 L300.7,772.1 L300.8,771.3 L300.9,771.2 L301.0,771.4 L301.1,790.2 L301.3,772.2 L301.4,770.4 L301.5,773.0 L301.6,769.1 L301.8,771.0 L301.9,769.6 L302.0,771.5 L302.1,773.4 L302.3,768.9 L302.4,771.9 L302.5,776.8 L302.6,779.1 L302.8,779.9 L302.9,774.1 L303.0,775.1 L303.1,774.1 L303.2,778.6 L303.4,778.6 L303.5,777.9 L303.6,774.5 L303.7,778.8 L303.9,778.7 L304.0,779.6 L304.1,783.9 L304.2,784.6 L304.4,785.9 L304.5,792.4 L304.6,789.7 L304.7,787.9 L304.8,789.2 L305.0,792.6 L305.1,787.8 L305.2,787.4 L305.3,785.2 L305.5,782.6 L305.6,785.7 L305.7,784.5 L305.8,786.5 L306.0,787.5 L306.1,788.3 L306.2,794.7 L306.3,786.0 L306.5,786.7 L306.6,787.9 L306.7,789.1 L306.8,789.9 L306.9,792.6 L307.1,793.5 L307.2,793.0 L307.3,793.8 L307.4,793.2 L307.6,794.0 L307.7,787.5 L307.8,784.3 L307.9,791.3 L308.1,785.2 L308.2,779.9 L308.3,780.7 L308.4,782.2 L308.5,782.1 L308.7,781.9 L308.8,778.6 L308.9,779.7 L309.0,774.8 L309.2,778.8 L309.3,777.4 L309.4,780.8 L309.5,775.6 L309.7,777.3 L309.8,777.6 L309.9,775.2 L310.0,772.3 L310.1,776.4 L310.3,777.3 L310.4,780.7 L310.5,779.1 L310.6,778.5 L310.8,778.7 L310.9,779.8 L311.0,779.8 L311.1,780.8 L311.3,778.2 L311.4,773.7 L311.5,779.6 L311.6,779.3 L311.8,779.9 L311.9,778.2 L312.0,780.8 L312.1,780.8 L312.2,783.3 L312.4,780.8 L312.5,772.3 L312.6,781.3 L312.7,780.6 L312.9,781.9 L313.0,786.5 L313.1,784.4 L313.2,783.8 L313.4,784.7 L313.5,782.5 L313.6,780.3 L313.7,784.9 L313.8,787.7 L314.0,783.7 L314.1,781.1 L314.2,785.0 L314.3,789.2 L314.5,790.9 L314.6,791.9 L314.7,795.6 L314.8,794.1 L315.0,796.4 L315.1,798.1 L315.2,793.6 L315.3,794.6 L315.5,797.4 L315.6,791.2 L315.7,788.8 L315.8,790.1 L315.9,790.0 L316.1,792.3 L316.2,787.2 L316.3,786.3 L316.4,790.2 L316.6,790.3 L316.7,788.5 L316.8,787.8 L316.9,783.7 L317.1,781.8 L317.2,785.6 L317.3,787.2 L317.4,791.6 L317.5,790.9 L317.7,790.6 L317.8,783.7 L317.9,785.4 L318.0,792.6 L318.2,794.1 L318.3,793.3 L318.4,796.2 L318.5,797.4 L318.7,787.0 L318.8,785.4 L318.9,785.6 L319.0,787.8 L319.2,785.2 L319.3,786.8 L319.4,788.1 L319.5,791.5 L319.6,792.6 L319.8,789.6 L319.9,793.6 L320.0,792.5 L320.1,789.6 L320.3,790.4 L320.4,789.4 L320.5,792.3 L320.6,788.1 L320.8,785.4 L320.9,785.8 L321.0,791.3 L321.1,793.6 L321.2,789.9 L321.4,785.2 L321.5,785.4 L321.6,783.0 L321.7,786.2 L321.9,787.4 L322.0,787.8 L322.1,787.0 L322.2,791.5 L322.4,788.4 L322.5,785.0 L322.6,789.1 L322.7,792.7 L322.8,790.9 L323.0,787.1 L323.1,797.9 L323.2,793.6 L323.3,792.2 L323.5,792.9 L323.6,786.6 L323.7,787.1 L323.8,789.9 L324.0,789.8 L324.1,792.7 L324.2,794.2 L324.3,792.3 L324.5,794.2 L324.6,794.0 L324.7,788.7 L324.8,786.9 L324.9,785.7 L325.1,785.5 L325.2,785.4 L325.3,782.7 L325.4,784.5 L325.6,780.8 L325.7,785.4 L325.8,786.8 L325.9,790.8 L326.1,790.9 L326.2,788.5 L326.3,784.2 L326.4,786.3 L326.5,786.0 L326.7,799.9 L326.8,787.9 L326.9,789.9 L327.0,787.9 L327.2,791.0 L327.3,788.3 L327.4,786.4 L327.5,786.6 L327.7,787.6 L327.8,789.2 L327.9,781.6 L328.0,784.4 L328.2,778.8 L328.3,777.0 L328.4,778.2 L328.5,781.2 L328.6,777.5 L328.8,773.0 L328.9,776.7 L329.0,777.9 L329.1,775.2 L329.3,775.2 L329.4,770.8 L329.5,774.5 L329.6,774.4 L329.8,779.2 L329.9,774.0 L330.0,777.8 L330.1,784.7 L330.2,784.5 L330.4,784.5 L330.5,794.0 L330.6,795.7 L330.7,796.0 L330.9,794.7 L331.0,791.0 L331.1,792.6 L331.2,790.9 L331.4,790.9 L331.5,793.0 L331.6,793.4 L331.7,793.8 L331.9,796.5 L332.0,792.8 L332.1,796.7 L332.2,792.7 L332.3,790.2 L332.5,790.8 L332.6,792.9 L332.7,792.8 L332.8,790.7 L333.0,788.1 L333.1,787.1 L333.2,784.3 L333.3,786.0 L333.5,784.9 L333.6,788.6 L333.7,785.0 L333.8,783.5 L333.9,783.7 L334.1,779.4 L334.2,777.2 L334.3,784.6 L334.4,782.3 L334.6,784.3 L334.7,778.9 L334.8,770.9 L334.9,772.8 L335.1,772.4 L335.2,772.9 L335.3,771.5 L335.4,769.6 L335.5,766.5 L335.7,770.1 L335.8,766.0 L335.9,769.6 L336.0,769.2 L336.2,766.5 L336.3,755.6 L336.4,769.8 L336.5,772.3 L336.7,773.7 L336.8,773.8 L336.9,770.9 L337.0,775.3 L337.2,774.2 L337.3,773.3 L337.4,772.9 L337.5,773.1 L337.6,770.7 L337.8,768.1 L337.9,772.0 L338.0,773.2 L338.1,771.0 L338.3,779.4 L338.4,777.5 L338.5,772.5 L338.6,782.8 L338.8,786.7 L338.9,792.1 L339.0,792.5 L339.1,793.7 L339.2,791.7 L339.4,795.5 L339.5,790.8 L339.6,790.5 L339.7,791.8 L339.9,794.1 L340.0,796.1 L340.1,798.6 L340.2,799.0 L340.4,798.0 L340.5,797.7 L340.6,800.9 L340.7,800.2 L340.9,801.5 L341.0,799.7 L341.1,793.9 L341.2,792.8 L341.3,794.6 L341.5,799.4 L341.6,802.5 L341.7,805.5 L341.8,801.5 L342.0,802.4 L342.1,800.9 L342.2,801.6 L342.3,793.5 L342.5,789.1 L342.6,791.4 L342.7,792.2 L342.8,794.0 L342.9,790.9 L343.1,793.7 L343.2,796.0 L343.3,798.5 L343.4,800.4 L343.6,796.8 L343.7,788.6 L343.8,791.9 L343.9,789.2 L344.1,789.1 L344.2,792.7 L344.3,793.1 L344.4,793.4 L344.6,794.9 L344.7,789.0 L344.8,794.8 L344.9,793.2 L345.0,792.1 L345.2,793.7 L345.3,792.9 L345.4,790.5 L345.5,787.5 L345.7,789.9 L345.8,788.6 L345.9,794.9 L346.0,790.2 L346.2,784.5 L346.3,783.7 L346.4,782.8 L346.5,788.5 L346.6,789.3 L346.8,791.6 L346.9,792.6 L347.0,789.1 L347.1,791.0 L347.3,790.4 L347.4,794.6 L347.5,792.9 L347.6,790.8 L347.8,791.1 L347.9,791.2 L348.0,784.2 L348.1,786.9 L348.2,788.4 L348.4,788.7 L348.5,783.4 L348.6,776.8 L348.7,776.5 L348.9,778.8 L349.0,779.7 L349.1,776.3 L349.2,778.9 L349.4,774.4 L349.5,771.2 L349.6,772.2 L349.7,771.5 L349.9,770.6 L350.0,767.8 L350.1,772.7 L350.2,770.5 L350.3,773.0 L350.5,776.0 L350.6,776.1 L350.7,777.1 L350.8,780.0 L351.0,783.9 L351.1,785.3 L351.2,780.1 L351.3,775.0 L351.5,774.9 L351.6,773.5 L351.7,777.2 L351.8,778.9 L351.9,779.5 L352.1,783.6 L352.2,786.7 L352.3,786.2 L352.4,787.2 L352.6,790.0 L352.7,788.4 L352.8,789.0 L352.9,786.2 L353.1,786.9 L353.2,788.3 L353.3,788.3 L353.4,789.1 L353.6,791.2 L353.7,792.0 L353.8,789.6 L353.9,788.2 L354.0,785.4 L354.2,796.3 L354.3,797.0 L354.4,797.6 L354.5,796.4 L354.7,797.1 L354.8,797.7 L354.9,794.6 L355.0,793.8 L355.2,796.6 L355.3,792.0 L355.4,789.2 L355.5,791.1 L355.6,788.7 L355.8,790.8 L355.9,787.3 L356.0,787.9 L356.1,789.8 L356.3,789.8 L356.4,790.6 L356.5,788.4 L356.6,786.6 L356.8,785.4 L356.9,785.8 L357.0,794.1 L357.1,790.1 L357.3,792.2 L357.4,787.9 L357.5,782.1 L357.6,779.8 L357.7,779.7 L357.9,778.9 L358.0,778.0 L358.1,778.4 L358.2,778.6 L358.4,779.6 L358.5,774.7 L358.6,774.2 L358.7,771.3 L358.9,772.3 L359.0,772.2 L359.1,772.8 L359.2,771.7 L359.3,770.0 L359.5,770.4 L359.6,773.3 L359.7,775.9 L359.8,771.5 L360.0,773.6 L360.1,775.3 L360.2,772.2 L360.3,771.0 L360.5,771.9 L360.6,775.2 L360.7,770.6 L360.8,772.5 L361.0,773.8 L361.1,776.9 L361.2,782.7 L361.3,787.0 L361.4,785.9 L361.6,785.2 L361.7,786.6 L361.8,790.2 L361.9,793.9 L362.1,793.8 L362.2,796.8 L362.3,793.0 L362.4,789.5 L362.6,782.8 L362.7,782.7 L362.8,786.7 L362.9,790.6 L363.0,800.4 L363.2,800.2 L363.3,799.0 L363.4,795.1 L363.5,793.2 L363.7,791.9 L363.8,791.9 L363.9,790.8 L364.0,787.8 L364.2,792.4 L364.3,794.2 L364.4,798.0 L364.5,793.0 L364.6,790.1 L364.8,789.3 L364.9,794.0 L365.0,793.9 L365.1,794.9 L365.3,794.8 L365.4,795.5 L365.5,794.1 L365.6,795.5 L365.8,793.2 L365.9,793.1 L366.0,789.0 L366.1,789.7 L366.3,791.0 L366.4,788.7 L366.5,789.8 L366.6,789.2 L366.7,790.5 L366.9,794.4 L367.0,791.0 L367.1,793.6 L367.2,791.0 L367.4,789.8 L367.5,794.3 L367.6,795.9 L367.7,796.0 L367.9,796.8 L368.0,798.5 L368.1,794.6 L368.2,794.4 L368.3,792.6 L368.5,793.4 L368.6,792.1 L368.7,794.0 L368.8,793.5 L369.0,791.5 L369.1,791.5 L369.2,792.8 L369.3,795.4 L369.5,794.1 L369.6,792.6 L369.7,793.0 L369.8,794.7 L370.0,792.4 L370.1,785.4 L370.2,787.5 L370.3,787.3 L370.4,787.0 L370.6,794.4 L370.7,792.7 L370.8,793.5 L370.9,788.4 L371.1,788.7 L371.2,790.2 L371.3,789.7 L371.4,788.1 L371.6,788.7 L371.7,787.6 L371.8,790.1 L371.9,788.7 L372.0,784.9 L372.2,778.7 L372.3,777.2 L372.4,777.2 L372.5,774.5 L372.7,772.9 L372.8,769.8 L372.9,769.0 L373.0,771.5 L373.2,772.3 L373.3,773.0 L373.4,773.3 L373.5,773.7 L373.7,776.6 L373.8,782.4 L373.9,782.9 L374.0,787.0 L374.1,784.6 L374.3,783.0 L374.4,786.4 L374.5,782.8 L374.6,779.7 L374.8,779.6 L374.9,775.5 L375.0,772.1 L375.1,777.8 L375.3,776.3 L375.4,776.9 L375.5,777.6 L375.6,776.9 L375.7,779.1 L375.9,783.7 L376.0,782.8 L376.1,788.7 L376.2,788.6 L376.4,792.3 L376.5,794.1 L376.6,791.2 L376.7,790.8 L376.9,789.4 L377.0,794.5 L377.1,795.4 L377.2,795.5 L377.3,794.1 L377.5,794.7 L377.6,795.6 L377.7,791.1 L377.8,792.6 L378.0,792.4 L378.1,790.5 L378.2,792.1 L378.3,789.2 L378.5,788.8 L378.6,789.3 L378.7,790.0 L378.8,789.3 L379.0,787.5 L379.1,786.3 L379.2,787.0 L379.3,786.2 L379.4,787.6 L379.6,785.6 L379.7,787.6 L379.8,794.5 L379.9,790.6 L380.1,790.9 L380.2,794.5 L380.3,794.5 L380.4,796.4 L380.6,789.7 L380.7,788.9 L380.8,793.7 L380.9,791.6 L381.0,792.3 L381.2,786.7 L381.3,790.1 L381.4,795.7 L381.5,793.6 L381.7,793.0 L381.8,792.5 L381.9,797.7 L382.0,792.5 L382.2,786.0 L382.3,790.4 L382.4,785.3 L382.5,786.0 L382.7,778.5 L382.8,777.8 L382.9,778.7 L383.0,775.8 L383.1,775.0 L383.3,777.2 L383.4,775.2 L383.5,776.9 L383.6,781.4 L383.8,774.6 L383.9,775.7 L384.0,777.2 L384.1,775.8 L384.3,779.7 L384.4,782.2 L384.5,781.7 L384.6,781.5 L384.7,779.9 L384.9,775.9 L385.0,777.3 L385.1,775.8 L385.2,774.6 L385.4,778.3 L385.5,777.7 L385.6,780.6 L385.7,777.5 L385.9,777.1 L386.0,778.0 L386.1,782.5 L386.2,782.2 L386.4,784.5 L386.5,782.5 L386.6,783.3 L386.7,785.9 L386.8,783.5 L387.0,782.3 L387.1,785.0 L387.2,782.5 L387.3,784.7 L387.5,786.4 L387.6,786.7 L387.7,789.3 L387.8,790.5 L388.0,790.7 L388.1,786.4 L388.2,783.3 L388.3,785.8 L388.4,782.6 L388.6,784.7 L388.7,785.2 L388.8,784.2 L388.9,785.0 L389.1,780.0 L389.2,782.1 L389.3,787.4 L389.4,784.8 L389.6,787.4 L389.7,786.2 L389.8,794.7 L389.9,790.4 L390.0,787.7 L390.2,785.7 L390.3,783.7 L390.4,780.3 L390.5,782.3 L390.7,781.2 L390.8,784.7 L390.9,786.4 L391.0,783.8 L391.2,783.7 L391.3,788.1 L391.4,786.9 L391.5,787.5 L391.7,789.6 L391.8,787.9 L391.9,788.8 L392.0,792.6 L392.1,794.3 L392.3,787.9 L392.4,791.8 L392.5,790.2 L392.6,788.1 L392.8,786.4 L392.9,790.1 L393.0,771.5 L393.1,789.7 L393.3,787.3 L393.4,789.4 L393.5,792.4 L393.6,788.9 L393.7,786.0 L393.9,785.8 L394.0,788.2 L394.1,787.3 L394.2,787.4 L394.4,785.5 L394.5,789.6 L394.6,789.0 L394.7,789.1 L394.9,791.7 L395.0,790.0 L395.1,789.1 L395.2,789.5 L395.4,787.6 L395.5,790.8 L395.6,789.4 L395.7,787.0 L395.8,785.4 L396.0,781.9 L396.1,785.2 L396.2,788.4 L396.3,786.0 L396.5,783.4 L396.6,777.0 L396.7,776.0 L396.8,779.1 L397.0,776.9 L397.1,779.5 L397.2,783.1 L397.3,774.8 L397.4,774.6 L397.6,773.4 L397.7,772.9 L397.8,769.2 L397.9,770.5 L398.1,769.0 L398.2,773.8 L398.3,778.5 L398.4,774.6 L398.6,771.6 L398.7,772.1 L398.8,773.2 L398.9,774.4 L399.1,777.6 L399.2,774.3 L399.3,774.2 L399.4,774.7 L399.5,775.6 L399.7,774.6 L399.8,775.4 L399.9,775.4 L400.0,780.7 L400.2,780.3 L400.3,784.0 L400.4,779.5 L400.5,781.4 L400.7,780.2 L400.8,779.1 L400.9,779.3 L401.0,785.5 L401.1,784.5 L401.3,788.2 L401.4,790.1 L401.5,789.4 L401.6,790.0 L401.8,787.4 L401.9,779.3 L402.0,779.6 L402.1,779.9 L402.3,784.4 L402.4,787.1 L402.5,790.3 L402.6,791.3 L402.8,793.5 L402.9,794.0 L403.0,793.3 L403.1,794.8 L403.2,797.1 L403.4,798.7 L403.5,795.1 L403.6,793.4 L403.7,789.7 L403.9,786.8 L404.0,788.4 L404.1,786.9 L404.2,791.4 L404.4,784.9 L404.5,782.9 L404.6,785.2 L404.7,789.3 L404.8,788.4 L405.0,793.6 L405.1,794.6 L405.2,791.2 L405.3,790.4 L405.5,791.2 L405.6,787.9 L405.7,790.6 L405.8,788.9 L406.0,789.7 L406.1,791.0 L406.2,788.4 L406.3,790.1 L406.4,783.6 L406.6,785.1 L406.7,779.2 L406.8,782.8 L406.9,780.8 L407.1,783.9 L407.2,786.4 L407.3,784.2 L407.4,780.9 L407.6,783.5 L407.7,778.7 L407.8,781.8 L407.9,778.8 L408.1,776.9 L408.2,774.8 L408.3,779.5 L408.4,773.8 L408.5,772.3 L408.7,773.8 L408.8,776.5 L408.9,781.4 L409.0,782.2 L409.2,778.6 L409.3,778.3 L409.4,786.4 L409.5,780.2 L409.7,774.7 L409.8,775.7 L409.9,777.2 L410.0,773.4 L410.1,773.0 L410.3,774.0 L410.4,776.6 L410.5,781.2 L410.6,783.8 L410.8,784.1 L410.9,783.8 L411.0,782.2 L411.1,780.6 L411.3,780.5 L411.4,780.5 L411.5,783.9 L411.6,789.7 L411.8,789.8 L411.9,791.1 L412.0,791.4 L412.1,790.7 L412.2,792.8 L412.4,794.1 L412.5,792.5 L412.6,790.7 L412.7,791.5 L412.9,789.0 L413.0,789.1 L413.1,791.3 L413.2,790.2 L413.4,788.2 L413.5,790.4 L413.6,787.1 L413.7,784.0 L413.8,781.2 L414.0,785.2 L414.1,780.4 L414.2,781.8 L414.3,783.6 L414.5,784.8 L414.6,783.2 L414.7,783.3 L414.8,783.8 L415.0,780.1 L415.1,782.4 L415.2,784.8 L415.3,781.4 L415.5,778.9 L415.6,775.8 L415.7,779.0 L415.8,775.4 L415.9,774.1 L416.1,769.6 L416.2,774.0 L416.3,773.2 L416.4,773.7 L416.6,777.5 L416.7,777.8 L416.8,773.1 L416.9,773.7 L417.1,774.8 L417.2,771.3 L417.3,768.3 L417.4,766.1 L417.5,769.1 L417.7,769.5 L417.8,767.0 L417.9,769.6 L418.0,771.9 L418.2,769.6 L418.3,766.0 L418.4,770.7 L418.5,778.2 L418.7,780.9 L418.8,782.0 L418.9,780.6 L419.0,777.8 L419.1,777.9 L419.3,779.7 L419.4,778.9 L419.5,781.5 L419.6,766.2 L419.8,782.7 L419.9,775.3 L420.0,774.8 L420.1,779.0 L420.3,782.7 L420.4,784.2 L420.5,788.7 L420.6,789.7 L420.8,790.7 L420.9,787.2 L421.0,788.1 L421.1,789.9 L421.2,792.8 L421.4,794.6 L421.5,793.0 L421.6,792.3 L421.7,788.3 L421.9,789.9 L422.0,786.8 L422.1,786.5 L422.2,787.1 L422.4,792.9 L422.5,795.3 L422.6,791.8 L422.7,787.4 L422.8,787.3 L423.0,785.8 L423.1,787.8 L423.2,789.2 L423.3,791.0 L423.5,788.1 L423.6,787.6 L423.7,788.8 L423.8,789.9 L424.0,788.5 L424.1,788.0 L424.2,790.7 L424.3,786.0 L424.5,786.4 L424.6,787.3 L424.7,780.8 L424.8,782.8 L424.9,784.8 L425.1,784.6 L425.2,784.6 L425.3,786.7 L425.4,792.6 L425.6,787.9 L425.7,792.6 L425.8,789.3 L425.9,790.8 L426.1,792.4 L426.2,791.4 L426.3,789.5 L426.4,787.1 L426.5,782.1 L426.7,782.1 L426.8,780.7 L426.9,783.4 L427.0,781.9 L427.2,782.1 L427.3,783.8 L427.4,784.0 L427.5,783.9 L427.7,783.0 L427.8,781.7 L427.9,782.9 L428.0,784.3 L428.2,781.2 L428.3,785.2 L428.4,785.2 L428.5,779.3 L428.6,786.0 L428.8,785.6 L428.9,781.4 L429.0,784.4 L429.1,775.2 L429.3,782.0 L429.4,776.4 L429.5,771.7 L429.6,769.9 L429.8,771.5 L429.9,771.1 L430.0,774.2 L430.1,771.9 L430.2,775.4 L430.4,775.8 L430.5,772.8 L430.6,776.2 L430.7,776.8 L430.9,776.0 L431.0,779.5 L431.1,775.6 L431.2,774.9 L431.4,779.5 L431.5,779.2 L431.6,781.1 L431.7,782.3 L431.8,781.4 L432.0,782.9 L432.1,779.8 L432.2,782.0 L432.3,779.3 L432.5,780.1 L432.6,778.4 L432.7,781.0 L432.8,782.9 L433.0,786.2 L433.1,784.1 L433.2,781.7 L433.3,776.7 L433.5,775.3 L433.6,777.0 L433.7,779.5 L433.8,779.9 L433.9,781.2 L434.1,778.3 L434.2,777.4 L434.3,781.6 L434.4,784.2 L434.6,780.7 L434.7,780.9 L434.8,782.5 L434.9,779.9 L435.1,782.1 L435.2,783.5 L435.3,785.0 L435.4,790.1 L435.5,786.4 L435.7,789.1 L435.8,789.5 L435.9,790.3 L436.0,786.9 L436.2,786.6 L436.3,786.1 L436.4,790.3 L436.5,789.2 L436.7,792.2 L436.8,789.7 L436.9,787.7 L437.0,790.2 L437.2,784.4 L437.3,784.2 L437.4,783.8 L437.5,784.8 L437.6,786.4 L437.8,784.6 L437.9,782.8 L438.0,788.0 L438.1,785.6 L438.3,785.2 L438.4,783.8 L438.5,784.0 L438.6,788.8 L438.8,792.2 L438.9,786.7 L439.0,786.8 L439.1,791.3 L439.2,789.9 L439.4,790.7 L439.5,795.2 L439.6,799.7 L439.7,801.2 L439.9,797.2 L440.0,795.0 L440.1,793.8 L440.2,781.5 L440.4,788.4 L440.5,793.3 L440.6,792.0 L440.7,792.3 L440.9,793.3 L441.0,792.1 L441.1,789.9 L441.2,788.3 L441.3,790.1 L441.5,788.7 L441.6,780.7 L441.7,782.7 L441.8,785.6 L442.0,782.3 L442.1,778.8 L442.2,776.3 L442.3,778.5 L442.5,774.3 L442.6,775.7 L442.7,777.5 L442.8,773.6 L442.9,775.8 L443.1,772.3 L443.2,769.9 L443.3,769.7 L443.4,767.0 L443.6,767.2 L443.7,765.2 L443.8,769.8 L443.9,773.8 L444.1,770.6 L444.2,774.0 L444.3,773.8 L444.4,773.2 L444.6,773.9 L444.7,774.6 L444.8,770.3 L444.9,777.6 L445.0,774.3 L445.2,768.2 L445.3,769.9 L445.4,771.5 L445.5,770.9 L445.7,767.7 L445.8,773.5 L445.9,774.7 L446.0,776.5 L446.2,779.3 L446.3,777.0 L446.4,776.5 L446.5,779.2 L446.6,780.1 L446.8,782.9 L446.9,785.0 L447.0,785.4 L447.1,785.8 L447.3,788.9 L447.4,784.0 L447.5,785.0 L447.6,789.1 L447.8,785.7 L447.9,788.1 L448.0,786.6 L448.1,786.9 L448.2,786.4 L448.4,786.4 L448.5,788.3 L448.6,788.2 L448.7,782.8 L448.9,788.3 L449.0,787.7 L449.1,786.4 L449.2,789.3 L449.4,792.3 L449.5,785.2 L449.6,786.7 L449.7,781.3 L449.9,781.3 L450.0,782.6 L450.1,768.8 L450.2,782.0 L450.3,780.3 L450.5,780.9 L450.6,782.2 L450.7,783.1 L450.8,780.7 L451.0,780.4 L451.1,784.9 L451.2,787.4 L451.3,786.7 L451.5,788.7 L451.6,789.6 L451.7,791.7 L451.8,791.5 L451.9,789.5 L452.1,786.4 L452.2,786.9 L452.3,781.3 L452.4,782.9 L452.6,775.3 L452.7,775.4 L452.8,776.6 L452.9,780.1 L453.1,788.7 L453.2,788.0 L453.3,786.3 L453.4,780.3 L453.6,784.4 L453.7,778.5 L453.8,779.7 L453.9,777.7 L454.0,784.7 L454.2,782.7 L454.3,782.2 L454.4,778.9 L454.5,777.8 L454.7,780.1 L454.8,776.0 L454.9,773.5 L455.0,771.7 L455.2,769.1 L455.3,766.8 L455.4,767.9 L455.5,759.2 L455.6,775.4 L455.8,770.5 L455.9,768.4 L456.0,768.5 L456.1,769.9 L456.3,769.8 L456.4,769.8 L456.5,770.8 L456.6,761.3 L456.8,766.4 L456.9,767.0 L457.0,769.8 L457.1,773.8 L457.3,775.5 L457.4,773.1 L457.5,771.3 L457.6,772.8 L457.7,773.3 L457.9,774.9 L458.0,778.3 L458.1,774.7 L458.2,774.7 L458.4,769.2 L458.5,773.9 L458.6,775.9 L458.7,774.8 L458.9,777.2 L459.0,782.2 L459.1,784.9 L459.2,784.2 L459.3,783.2 L459.5,783.7 L459.6,781.2 L459.7,779.5 L459.8,780.0 L460.0,781.3 L460.1,783.0 L460.2,782.3 L460.3,780.7 L460.5,781.9 L460.6,781.8 L460.7,780.1 L460.8,784.7 L460.9,787.1 L461.1,784.3 L461.2,783.1 L461.3,779.1 L461.4,780.3 L461.6,779.0 L461.7,781.3 L461.8,776.0 L461.9,779.7 L462.1,781.3 L462.2,781.7 L462.3,784.9 L462.4,783.5 L462.6,780.9 L462.7,783.0 L462.8,778.0 L462.9,780.3 L463.0,781.7 L463.2,782.9 L463.3,785.1 L463.4,783.7 L463.5,783.8 L463.7,779.5 L463.8,779.1 L463.9,779.0 L464.0,781.0 L464.2,785.7 L464.3,785.7 L464.4,787.8 L464.5,784.6 L464.6,784.9 L464.8,780.6 L464.9,779.9 L465.0,779.1 L465.1,780.1 L465.3,780.9 L465.4,780.3 L465.5,779.2 L465.6,782.6 L465.8,782.0 L465.9,775.8 L466.0,778.3 L466.1,780.5 L466.3,783.3 L466.4,787.2 L466.5,783.1 L466.6,782.9 L466.7,781.9 L466.9,777.0 L467.0,771.4 L467.1,776.0 L467.2,774.2 L467.4,773.8 L467.5,773.9 L467.6,773.7 L467.7,774.6 L467.9,770.9 L468.0,774.0 L468.1,770.8 L468.2,768.5 L468.3,767.6 L468.5,767.9 L468.6,768.4 L468.7,764.9 L468.8,770.5 L469.0,767.5 L469.1,770.9 L469.2,772.1 L469.3,774.9 L469.5,773.9 L469.6,772.8 L469.7,778.1 L469.8,776.6 L470.0,773.9 L470.1,773.3 L470.2,775.9 L470.3,772.0 L470.4,774.4 L470.6,777.8 L470.7,780.1 L470.8,779.1 L470.9,775.8 L471.1,773.1 L471.2,773.7 L471.3,778.0 L471.4,780.0 L471.6,782.2 L471.7,782.1 L471.8,786.4 L471.9,784.8 L472.0,782.2 L472.2,782.5 L472.3,781.3 L472.4,784.1 L472.5,790.6 L472.7,790.8 L472.8,786.2 L472.9,783.1 L473.0,784.8 L473.2,781.6 L473.3,783.3 L473.4,779.7 L473.5,779.8 L473.6,782.4 L473.8,781.0 L473.9,784.2 L474.0,787.0 L474.1,790.6 L474.3,788.7 L474.4,788.2 L474.5,787.8 L474.6,788.5 L474.8,779.2 L474.9,785.7 L475.0,787.7 L475.1,783.9 L475.3,780.6 L475.4,780.9 L475.5,786.7 L475.6,787.8 L475.7,785.4 L475.9,785.1 L476.0,780.7 L476.1,785.0 L476.2,782.7 L476.4,784.3 L476.5,780.1 L476.6,780.6 L476.7,777.8 L476.9,780.0 L477.0,783.5 L477.1,785.1 L477.2,784.9 L477.3,785.6 L477.5,780.0 L477.6,775.3 L477.7,774.5 L477.8,777.1 L478.0,776.5 L478.1,777.5 L478.2,772.3 L478.3,771.4 L478.5,770.2 L478.6,771.5 L478.7,776.7 L478.8,777.3 L479.0,778.6 L479.1,775.6 L479.2,774.1 L479.3,775.4 L479.4,775.3 L479.6,770.1 L479.7,773.0 L479.8,775.2 L479.9,775.1 L480.1,776.3 L480.2,776.7 L480.3,774.6 L480.4,769.9 L480.6,775.9 L480.7,775.9 L480.8,775.9 L480.9,776.4 L481.0,777.1 L481.2,778.3 L481.3,775.8 L481.4,777.9 L481.5,778.8 L481.7,779.2 L481.8,779.4 L481.9,780.4 L482.0,778.1 L482.2,779.2 L482.3,779.6 L482.4,780.6 L482.5,783.9 L482.7,786.0 L482.8,788.3 L482.9,786.7 L483.0,787.9 L483.1,789.8 L483.3,787.7 L483.4,785.5 L483.5,789.9 L483.6,784.0 L483.8,784.0 L483.9,784.3 L484.0,781.5 L484.1,782.0 L484.3,784.2 L484.4,778.6 L484.5,783.0 L484.6,783.7 L484.7,781.7 L484.9,785.3 L485.0,785.5 L485.1,784.4 L485.2,778.2 L485.4,782.4 L485.5,783.3 L485.6,782.1 L485.7,782.8 L485.9,800.2 L486.0,785.4 L486.1,785.2 L486.2,784.1 L486.4,781.5 L486.5,779.8 L486.6,780.1 L486.7,780.6 L486.8,784.6 L487.0,785.0 L487.1,784.2 L487.2,785.2 L487.3,784.5 L487.5,786.3 L487.6,781.3 L487.7,775.7 L487.8,778.1 L488.0,777.7 L488.1,778.9 L488.2,775.6 L488.3,775.2 L488.4,775.6 L488.6,776.6 L488.7,776.2 L488.8,778.7 L488.9,775.9 L489.1,777.4 L489.2,775.0 L489.3,774.2 L489.4,770.8 L489.6,771.1 L489.7,768.5 L489.8,771.6 L489.9,769.8 L490.0,770.6 L490.2,770.0 L490.3,769.9 L490.4,767.5 L490.5,773.5 L490.7,771.9 L490.8,775.5 L490.9,771.1 L491.0,776.4 L491.2,777.8 L491.3,780.8 L491.4,774.3 L491.5,777.4 L491.7,776.1 L491.8,777.0 L491.9,781.2 L492.0,780.6 L492.1,777.7 L492.3,777.9 L492.4,775.2 L492.5,776.9 L492.6,777.3 L492.8,778.7 L492.9,778.1 L493.0,773.6 L493.1,774.4 L493.3,775.6 L493.4,778.7 L493.5,781.6 L493.6,777.9 L493.7,782.1 L493.9,784.7 L494.0,784.6 L494.1,785.4 L494.2,779.8 L494.4,787.0 L494.5,785.3 L494.6,783.0 L494.7,786.2 L494.9,787.4 L495.0,785.4 L495.1,780.7 L495.2,784.0 L495.4,788.2 L495.5,784.5 L495.6,780.4 L495.7,782.2 L495.8,788.5 L496.0,783.5 L496.1,784.2 L496.2,781.9 L496.3,782.8 L496.5,784.4 L496.6,785.8 L496.7,781.8 L496.8,778.8 L497.0,786.2 L497.1,788.5 L497.2,783.1 L497.3,784.7 L497.4,788.6 L497.6,787.9 L497.7,787.7 L497.8,787.6 L497.9,788.4 L498.1,788.6 L498.2,789.1 L498.3,787.4 L498.4,789.1 L498.6,788.9 L498.7,788.3 L498.8,784.0 L498.9,783.1 L499.1,783.6 L499.2,782.2 L499.3,781.3 L499.4,778.7 L499.5,778.1 L499.7,774.1 L499.8,772.1 L499.9,774.2 L500.0,776.5 L500.2,774.6 L500.3,773.9 L500.4,774.9 L500.5,779.1 L500.7,783.0 L500.8,779.9 L500.9,776.3 L501.0,773.3 L501.1,776.5 L501.3,772.5 L501.4,773.6 L501.5,771.8 L501.6,770.3 L501.8,772.3 L501.9,792.2 L502.0,777.7 L502.1,778.0 L502.3,780.5 L502.4,776.5 L502.5,774.5 L502.6,770.7 L502.7,769.4 L502.9,771.2 L503.0,770.0 L503.1,771.1 L503.2,769.5 L503.4,769.1 L503.5,772.5 L503.6,772.5 L503.7,772.5 L503.9,773.7 L504.0,771.5 L504.1,767.9 L504.2,770.9 L504.4,773.3 L504.5,780.3 L504.6,780.0 L504.7,780.8 L504.8,786.2 L505.0,783.8 L505.1,781.4 L505.2,783.2 L505.3,783.7 L505.5,785.8 L505.6,782.9 L505.7,786.8 L505.8,786.7 L506.0,780.6 L506.1,781.2 L506.2,780.5 L506.3,781.7 L506.4,785.4 L506.6,785.1 L506.7,783.8 L506.8,786.6 L506.9,785.1 L507.1,781.6 L507.2,779.4 L507.3,784.8 L507.4,787.3 L507.6,790.8 L507.7,786.4 L507.8,784.3 L507.9,782.5 L508.1,784.4 L508.2,787.3 L508.3,786.2 L508.4,785.4 L508.5,787.3 L508.7,786.1 L508.8,783.9 L508.9,783.4 L509.0,786.4 L509.2,791.5 L509.3,790.5 L509.4,788.6 L509.5,788.3 L509.7,788.6 L509.8,789.5 L509.9,786.4 L510.0,786.2 L510.1,779.1 L510.3,787.8 L510.4,788.7 L510.5,787.1 L510.6,789.0 L510.8,791.0 L510.9,790.0 L511.0,785.1 L511.1,783.9 L511.3,779.6 L511.4,780.4 L511.5,781.4 L511.6,784.8 L511.8,785.0 L511.9,779.7 L512.0,778.5 L512.1,776.3 L512.2,774.6 L512.4,775.0 L512.5,775.6 L512.6,775.1 L512.7,773.0 L512.9,771.9 L513.0,770.8 L513.1,770.7 L513.2,773.0 L513.4,773.2 L513.5,775.1 L513.6,771.3 L513.7,776.5 L513.8,775.4 L514.0,767.7 L514.1,769.0 L514.2,760.5 L514.3,771.6 L514.5,767.7 L514.6,768.7 L514.7,767.5 L514.8,768.0 L515.0,769.7 L515.1,761.8 L515.2,764.1 L515.3,767.6 L515.4,770.2 L515.6,770.1 L515.7,770.0 L515.8,769.2 L515.9,770.4 L516.1,775.6 L516.2,774.5 L516.3,776.0 L516.4,777.3 L516.6,781.5 L516.7,782.4 L516.8,783.7 L516.9,782.9 L517.1,786.2 L517.2,784.7 L517.3,783.6 L517.4,786.1 L517.5,786.7 L517.7,787.9 L517.8,784.1 L517.9,790.5 L518.0,789.5 L518.2,800.0 L518.3,791.1 L518.4,786.8 L518.5,787.5 L518.7,786.1 L518.8,787.6 L518.9,781.3 L519.0,779.3 L519.1,777.3 L519.3,782.2 L519.4,785.4 L519.5,781.9 L519.6,782.8 L519.8,783.5 L519.9,781.8 L520.0,785.3 L520.1,782.6 L520.3,782.6 L520.4,781.3 L520.5,783.4 L520.6,781.8 L520.8,783.9 L520.9,781.0 L521.0,778.4 L521.1,777.0 L521.2,777.0 L521.4,776.7 L521.5,785.4 L521.6,782.5 L521.7,783.3 L521.9,782.9 L522.0,783.7 L522.1,787.3 L522.2,787.7 L522.4,795.1 L522.5,780.8 L522.6,783.1 L522.7,785.7 L522.8,781.4 L523.0,784.4 L523.1,778.8 L523.2,779.9 L523.3,783.3 L523.5,780.8 L523.6,777.1 L523.7,782.6 L523.8,778.7 L524.0,780.6 L524.1,777.3 L524.2,779.6 L524.3,784.5 L524.5,782.5 L524.6,779.8 L524.7,774.5 L524.8,771.4 L524.9,771.7 L525.1,774.2 L525.2,776.7 L525.3,777.8 L525.4,779.9 L525.6,779.8 L525.7,785.6 L525.8,782.5 L525.9,780.6 L526.1,772.1 L526.2,770.4 L526.3,772.2 L526.4,770.7 L526.5,774.2 L526.7,775.0 L526.8,778.9 L526.9,773.0 L527.0,770.7 L527.2,773.6 L527.3,772.8 L527.4,769.5 L527.5,768.3 L527.7,767.6 L527.8,770.5 L527.9,772.1 L528.0,771.4 L528.1,768.8 L528.3,771.6 L528.4,774.6 L528.5,770.9 L528.6,773.8 L528.8,770.8 L528.9,770.8 L529.0,769.4 L529.1,753.0 L529.3,766.6 L529.4,766.9 L529.5,771.8 L529.6,775.0 L529.8,774.0 L529.9,771.0 L530.0,769.3 L530.1,765.7 L530.2,768.4 L530.4,770.8 L530.5,770.6 L530.6,773.2 L530.7,775.4 L530.9,779.7 L531.0,777.6 L531.1,781.5 L531.2,780.3 L531.4,784.5 L531.5,781.0 L531.6,784.1 L531.7,782.6 L531.8,787.0 L532.0,787.3 L532.1,783.2 L532.2,785.5 L532.3,784.8 L532.5,785.9 L532.6,791.5 L532.7,788.8 L532.8,786.5 L533.0,788.9 L533.1,786.2 L533.2,787.9 L533.3,789.7 L533.5,788.3 L533.6,789.2 L533.7,781.9 L533.8,786.6 L533.9,784.0 L534.1,781.3 L534.2,787.2 L534.3,790.8 L534.4,787.4 L534.6,787.4 L534.7,785.1 L534.8,781.2 L534.9,782.2 L535.1,784.6 L535.2,790.7 L535.3,787.3 L535.4,787.6 L535.5,784.3 L535.7,781.9 L535.8,784.2 L535.9,777.5 L536.0,774.0 L536.2,771.7 L536.3,775.3 L536.4,775.7 L536.5,776.3 L536.7,776.2 L536.8,777.8 L536.9,789.4 L537.0,767.9 L537.2,762.8 L537.3,767.4 L537.4,767.7 L537.5,767.4 L537.6,774.9 L537.8,775.0 L537.9,773.5 L538.0,769.6 L538.1,770.2 L538.3,770.5 L538.4,771.9 L538.5,769.5 L538.6,770.8 L538.8,772.3 L538.9,773.9 L539.0,771.8 L539.1,773.3 L539.2,777.6 L539.4,774.8 L539.5,776.5 L539.6,775.0 L539.7,774.1 L539.9,771.4 L540.0,769.9 L540.1,773.2 L540.2,774.8 L540.4,779.1 L540.5,774.6 L540.6,774.6 L540.7,772.2 L540.9,775.1 L541.0,781.9 L541.1,777.7 L541.2,778.3 L541.3,778.8 L541.5,779.4 L541.6,778.4 L541.7,777.9 L541.8,783.2 L542.0,780.2 L542.1,782.1 L542.2,783.5 L542.3,778.7 L542.5,777.2 L542.6,779.5 L542.7,785.2 L542.8,784.1 L542.9,782.3 L543.1,782.6 L543.2,786.0 L543.3,787.3 L543.4,789.5 L543.6,785.9 L543.7,782.7 L543.8,779.7 L543.9,782.1 L544.1,781.4 L544.2,780.1 L544.3,781.9 L544.4,782.4 L544.5,776.7 L544.7,777.6 L544.8,776.5 L544.9,779.2 L545.0,780.0 L545.2,785.2 L545.3,784.7 L545.4,781.1 L545.5,776.0 L545.7,774.5 L545.8,774.8 L545.9,776.6 L546.0,779.7 L546.2,780.8 L546.3,779.4 L546.4,782.1 L546.5,779.4 L546.6,782.4 L546.8,786.6 L546.9,787.7 L547.0,790.0 L547.1,790.9 L547.3,784.7 L547.4,783.5 L547.5,781.2 L547.6,776.9 L547.8,773.3 L547.9,775.0 L548.0,771.3 L548.1,770.9 L548.2,771.4 L548.4,770.5 L548.5,774.6 L548.6,775.9 L548.7,774.9 L548.9,772.2 L549.0,772.7 L549.1,772.3 L549.2,769.0 L549.4,765.4 L549.5,764.3 L549.6,762.2 L549.7,765.1 L549.9,767.0 L550.0,766.8 L550.1,768.3 L550.2,770.1 L550.3,765.8 L550.5,767.6 L550.6,771.1 L550.7,770.0 L550.8,765.7 L551.0,767.3 L551.1,765.5 L551.2,768.8 L551.3,771.6 L551.5,774.3 L551.6,775.0 L551.7,770.5 L551.8,775.2 L551.9,771.4 L552.1,775.7 L552.2,777.0 L552.3,775.2 L552.4,774.6 L552.6,775.1 L552.7,780.7 L552.8,779.6 L552.9,782.5 L553.1,775.3 L553.2,777.2 L553.3,777.7 L553.4,781.6 L553.6,782.7 L553.7,785.8 L553.8,770.6 L553.9,782.5 L554.0,780.6 L554.2,782.6 L554.3,783.5 L554.4,779.5 L554.5,782.4 L554.7,786.8 L554.8,784.3 L554.9,786.4 L555.0,786.2 L555.2,782.5 L555.3,784.2 L555.4,782.1 L555.5,783.9 L555.6,779.5 L555.8,776.6 L555.9,779.2 L556.0,780.4 L556.1,782.9 L556.3,782.0 L556.4,778.7 L556.5,783.0 L556.6,779.9 L556.8,783.4 L556.9,784.7 L557.0,788.0 L557.1,780.0 L557.2,779.3 L557.4,778.1 L557.5,779.5 L557.6,775.7 L557.7,781.2 L557.9,779.5 L558.0,772.3 L558.1,773.5 L558.2,773.3 L558.4,771.3 L558.5,773.5 L558.6,772.9 L558.7,769.8 L558.9,769.4 L559.0,768.6 L559.1,769.8 L559.2,768.9 L559.3,768.9 L559.5,765.2 L559.6,764.3 L559.7,766.2 L559.8,773.6 L560.0,770.7 L560.1,768.5 L560.2,771.4 L560.3,776.5 L560.5,778.2 L560.6,774.1 L560.7,776.4 L560.8,776.6 L560.9,775.1 L561.1,771.5 L561.2,772.2 L561.3,773.1 L561.4,775.1 L561.6,770.9 L561.7,769.5 L561.8,771.6 L561.9,776.5 L562.1,779.1 L562.2,777.3 L562.3,779.6 L562.4,777.1 L562.6,776.7 L562.7,776.6 L562.8,775.7 L562.9,775.5 L563.0,778.9 L563.2,780.1 L563.3,764.0 L563.4,778.8 L563.5,780.5 L563.7,785.5 L563.8,778.8 L563.9,781.3 L564.0,784.6 L564.2,782.1 L564.3,778.9 L564.4,775.5 L564.5,785.7 L564.6,774.6 L564.8,778.7 L564.9,767.8 L565.0,780.7 L565.1,780.0 L565.3,778.0 L565.4,775.7 L565.5,779.4 L565.6,776.2 L565.8,778.5 L565.9,781.7 L566.0,781.8 L566.1,785.4 L566.3,784.2 L566.4,782.6 L566.5,782.8 L566.6,780.9 L566.7,781.9 L566.9,781.7 L567.0,785.5 L567.1,784.4 L567.2,787.0 L567.4,786.8 L567.5,785.5 L567.6,783.7 L567.7,787.0 L567.9,789.2 L568.0,787.3 L568.1,783.6 L568.2,780.9 L568.3,777.4 L568.5,773.4 L568.6,772.4 L568.7,772.8 L568.8,775.6 L569.0,777.3 L569.1,777.1 L569.2,774.8 L569.3,773.0 L569.5,772.1 L569.6,771.7 L569.7,769.2 L569.8,768.3 L569.9,767.3 L570.1,766.4 L570.2,768.0 L570.3,770.4 L570.4,768.1 L570.6,766.6 L570.7,767.2 L570.8,768.2 L570.9,761.8 L571.1,765.1 L571.2,766.3 L571.3,766.0 L571.4,769.6 L571.6,769.1 L571.7,764.4 L571.8,763.3 L571.9,763.4 L572.0,763.8 L572.2,765.6 L572.3,764.8 L572.4,767.3 L572.5,770.1 L572.7,771.0 L572.8,769.7 L572.9,770.4 L573.0,770.2 L573.2,777.4 L573.3,774.3 L573.4,769.1 L573.5,768.1 L573.6,771.7 L573.8,776.0 L573.9,776.4 L574.0,780.0 L574.1,778.3 L574.3,780.4 L574.4,778.1 L574.5,775.4 L574.6,782.4 L574.8,781.5 L574.9,783.5 L575.0,786.9 L575.1,787.3 L575.3,786.6 L575.4,782.8 L575.5,786.7 L575.6,782.9 L575.7,777.4 L575.9,777.1 L576.0,777.0 L576.1,778.4 L576.2,782.6 L576.4,781.2 L576.5,780.6 L576.6,779.2 L576.7,773.4 L576.9,773.9 L577.0,775.1 L577.1,773.0 L577.2,779.2 L577.3,783.3 L577.5,784.4 L577.6,786.0 L577.7,783.6 L577.8,784.5 L578.0,779.8 L578.1,776.8 L578.2,776.5 L578.3,779.3 L578.5,778.8 L578.6,777.8 L578.7,782.0 L578.8,781.3 L579.0,779.8 L579.1,781.2 L579.2,777.9 L579.3,776.4 L579.4,780.8 L579.6,781.5 L579.7,784.7 L579.8,783.3 L579.9,786.1 L580.1,783.5 L580.2,783.0 L580.3,781.1 L580.4,782.6 L580.6,787.2 L580.7,782.1 L580.8,783.5 L580.9,780.3 L581.0,780.4 L581.2,779.8 L581.3,776.2 L581.4,777.4 L581.5,775.4 L581.7,781.5 L581.8,779.7 L581.9,781.2 L582.0,781.9 L582.2,781.8 L582.3,780.8 L582.4,776.3 L582.5,782.1 L582.7,781.2 L582.8,782.4 L582.9,778.1 L583.0,778.8 L583.1,776.8 L583.3,777.4 L583.4,774.7 L583.5,771.6 L583.6,772.8 L583.8,772.3 L583.9,775.7 L584.0,773.4 L584.1,770.1 L584.3,771.1 L584.4,767.3 L584.5,772.8 L584.6,776.3 L584.7,777.5 L584.9,776.0 L585.0,773.4 L585.1,771.7 L585.2,770.4 L585.4,767.3 L585.5,782.7 L585.6,771.0 L585.7,773.2 L585.9,765.9 L586.0,772.5 L586.1,771.7 L586.2,766.9 L586.3,766.1 L586.5,769.1 L586.6,769.4 L586.7,767.4 L586.8,765.3 L587.0,769.4 L587.1,768.3 L587.2,769.1 L587.3,767.6 L587.5,765.9 L587.6,769.4 L587.7,775.2 L587.8,774.8 L588.0,771.0 L588.1,771.2 L588.2,772.8 L588.3,768.3 L588.4,774.2 L588.6,773.7 L588.7,777.3 L588.8,778.4 L588.9,779.3 L589.1,776.2 L589.2,780.5 L589.3,782.7 L589.4,787.3 L589.6,785.2 L589.7,786.2 L589.8,784.7 L589.9,787.5 L590.0,787.8 L590.2,784.3 L590.3,785.0 L590.4,783.4 L590.5,782.4 L590.7,784.1 L590.8,788.6 L590.9,781.3 L591.0,780.8 L591.2,778.2 L591.3,784.2 L591.4,787.8 L591.5,791.8 L591.7,791.4 L591.8,786.0 L591.9,783.2 L592.0,782.7 L592.1,782.0 L592.3,779.8 L592.4,780.9 L592.5,780.0 L592.6,780.0 L592.8,786.3 L592.9,786.2 L593.0,781.6 L593.1,782.8 L593.3,767.9 L593.4,784.6 L593.5,785.4 L593.6,781.8 L593.7,782.8 L593.9,785.6 L594.0,793.2 L594.1,792.2 L594.2,795.1 L594.4,796.9 L594.5,791.3 L594.6,787.2 L594.7,791.1 L594.9,786.6 L595.0,784.2 L595.1,785.6 L595.2,782.5 L595.4,786.4 L595.5,788.0 L595.6,789.7 L595.7,790.0 L595.8,784.8 L596.0,786.6 L596.1,787.4 L596.2,787.2 L596.3,783.9 L596.5,782.8 L596.6,778.5 L596.7,779.4 L596.8,781.5 L597.0,780.8 L597.1,778.8 L597.2,779.7 L597.3,777.1 L597.4,771.1 L597.6,772.8 L597.7,772.4 L597.8,768.6 L597.9,771.1 L598.1,773.5 L598.2,776.0 L598.3,773.9 L598.4,772.1 L598.6,772.6 L598.7,772.5 L598.8,769.3 L598.9,768.1 L599.0,773.3 L599.2,773.6 L599.3,773.7 L599.4,772.3 L599.5,773.8 L599.7,776.3 L599.8,777.7 L599.9,782.5 L600.0,781.5 L600.2,782.5 L600.3,780.5 L600.4,783.1 L600.5,783.6 L600.7,785.5 L600.8,787.2 L600.9,783.9 L601.0,784.6 L601.1,782.8 L601.3,785.6 L601.4,784.6 L601.5,788.6 L601.6,788.4 L601.8,788.3 L601.9,785.4 L602.0,784.2 L602.1,784.3 L602.3,781.7 L602.4,781.4 L602.5,780.3 L602.6,778.8 L602.7,782.4 L602.9,783.9 L603.0,783.4 L603.1,785.0 L603.2,784.2 L603.4,781.6 L603.5,780.4 L603.6,782.8 L603.7,787.0 L603.9,787.0 L604.0,787.1 L604.1,784.0 L604.2,785.6 L604.4,786.4 L604.5,784.4 L604.6,786.2 L604.7,786.6 L604.8,782.0 L605.0,779.0 L605.1,779.1 L605.2,780.0 L605.3,783.8 L605.5,782.6 L605.6,782.9 L605.7,782.6 L605.8,784.2 L606.0,783.9 L606.1,784.0 L606.2,782.5 L606.3,778.3 L606.4,777.8 L606.6,782.6 L606.7,784.2 L606.8,786.9 L606.9,786.5 L607.1,782.5 L607.2,779.7 L607.3,780.1 L607.4,777.9 L607.6,778.8 L607.7,781.1 L607.8,782.6 L607.9,782.2 L608.1,775.7 L608.2,778.0 L608.3,772.8 L608.4,768.6 L608.5,769.4 L608.7,769.7 L608.8,771.3 L608.9,771.0 L609.0,769.0 L609.2,769.2 L609.3,766.8 L609.4,764.6 L609.5,765.3 L609.7,766.0 L609.8,767.6 L609.9,767.9 L610.0,772.2 L610.1,771.5 L610.3,771.7 L610.4,774.8 L610.5,769.3 L610.6,773.7 L610.8,776.9 L610.9,776.4 L611.0,782.1 L611.1,783.5 L611.3,786.6 L611.4,787.7 L611.5,786.4 L611.6,784.4 L611.7,780.9 L611.9,779.3 L612.0,777.1 L612.1,777.2 L612.2,780.1 L612.4,778.2 L612.5,781.1 L612.6,783.7 L612.7,780.0 L612.9,779.2 L613.0,780.2 L613.1,779.5 L613.2,778.7 L613.4,784.1 L613.5,784.8 L613.6,788.2 L613.7,787.3 L613.8,788.7 L614.0,784.5 L614.1,783.5 L614.2,786.3 L614.3,786.3 L614.5,789.5 L614.6,787.3 L614.7,785.3 L614.8,784.5 L615.0,789.7 L615.1,789.4 L615.2,787.0 L615.3,785.7 L615.4,782.5 L615.6,786.6 L615.7,784.9 L615.8,786.8 L615.9,786.0 L616.1,784.9 L616.2,783.3 L616.3,785.5 L616.4,785.2 L616.6,788.6 L616.7,791.8 L616.8,789.0 L616.9,788.5 L617.1,792.4 L617.2,793.2 L617.3,791.5 L617.4,786.2 L617.5,783.5 L617.7,782.1 L617.8,787.9 L617.9,787.7 L618.0,785.9 L618.2,784.8 L618.3,783.7 L618.4,784.6 L618.5,779.8 L618.7,776.9 L618.8,778.7 L618.9,782.3 L619.0,776.7 L619.1,779.3 L619.3,776.5 L619.4,772.3 L619.5,776.5 L619.6,776.2 L619.8,777.6 L619.9,776.1 L620.0,775.4 L620.1,770.3 L620.3,770.0 L620.4,771.2 L620.5,769.0 L620.6,770.9 L620.8,772.5 L620.9,766.7 L621.0,770.4 L621.1,772.2 L621.2,772.2 L621.4,775.0 L621.5,780.0 L621.6,775.3 L621.7,776.7 L621.9,777.2 L622.0,777.2 L622.1,778.9 L622.2,771.8 L622.4,778.5 L622.5,771.2 L622.6,770.3 L622.7,769.7 L622.8,775.4 L623.0,775.9 L623.1,779.6 L623.2,777.2 L623.3,792.2 L623.5,806.1 L623.6,795.5 L623.7,781.2 L623.8,785.4 L624.0,783.0 L624.1,786.6 L624.2,788.9 L624.3,788.4 L624.5,789.1 L624.6,787.3 L624.7,783.9 L624.8,783.6 L624.9,783.5 L625.1,783.9 L625.2,782.1 L625.3,787.9 L625.4,786.4 L625.6,788.8 L625.7,791.4 L625.8,790.1 L625.9,790.1 L626.1,787.6 L626.2,784.3 L626.3,790.9 L626.4,777.9 L626.5,783.3 L626.7,781.6 L626.8,778.7 L626.9,780.2 L627.0,785.3 L627.2,788.4 L627.3,785.8 L627.4,783.3 L627.5,785.8 L627.7,786.6 L627.8,785.7 L627.9,790.5 L628.0,790.3 L628.1,785.1 L628.3,779.6 L628.4,781.7 L628.5,778.1 L628.6,781.7 L628.8,785.2 L628.9,791.7 L629.0,788.1 L629.1,788.9 L629.3,782.3 L629.4,782.7 L629.5,783.4 L629.6,789.2 L629.8,784.7 L629.9,786.3 L630.0,786.9 L630.1,792.7 L630.2,788.6 L630.4,785.3 L630.5,787.0 L630.6,786.3 L630.7,784.8 L630.9,782.1 L631.0,782.2 L631.1,777.8 L631.2,779.6 L631.4,781.7 L631.5,782.8 L631.6,788.9 L631.7,788.8 L631.8,783.7 L632.0,781.7 L632.1,782.9 L632.2,780.6 L632.3,785.0 L632.5,783.5 L632.6,780.2 L632.7,777.1 L632.8,778.6 L633.0,775.2 L633.1,770.1 L633.2,772.3 L633.3,770.8 L633.5,775.8 L633.6,780.6 L633.7,777.4 L633.8,776.6 L633.9,775.6 L634.1,777.0 L634.2,777.4 L634.3,774.8 L634.4,774.8 L634.6,772.8 L634.7,778.3 L634.8,774.8 L634.9,774.1 L635.1,773.5 L635.2,774.6 L635.3,770.9 L635.4,772.4 L635.5,773.3 L635.7,780.4 L635.8,782.5 L635.9,784.5 L636.0,784.4 L636.2,783.4 L636.3,785.7 L636.4,780.9 L636.5,776.6 L636.7,786.2 L636.8,785.5 L636.9,789.0 L637.0,786.8 L637.2,785.0 L637.3,786.2 L637.4,781.3 L637.5,782.4 L637.6,782.8 L637.8,786.3 L637.9,790.9 L638.0,791.5 L638.1,791.2 L638.3,794.6 L638.4,791.5 L638.5,797.6 L638.6,798.9 L638.8,801.7 L638.9,795.4 L639.0,798.7 L639.1,796.0 L639.2,797.7 L639.4,793.7 L639.5,794.2 L639.6,792.8 L639.7,797.8 L639.9,793.1 L640.0,791.5 L640.1,789.9 L640.2,786.8 L640.4,788.3 L640.5,789.2 L640.6,787.5 L640.7,786.9 L640.8,788.1 L641.0,788.1 L641.1,789.4 L641.2,787.0 L641.3,784.5 L641.5,784.9 L641.6,780.0 L641.7,785.3 L641.8,785.5 L642.0,780.4 L642.1,781.9 L642.2,786.0 L642.3,780.9 L642.5,779.1 L642.6,782.2 L642.7,779.0 L642.8,781.2 L642.9,783.5 L643.1,781.9 L643.2,781.4 L643.3,782.4 L643.4,781.1 L643.6,781.7 L643.7,779.2 L643.8,777.5 L643.9,774.0 L644.1,774.6 L644.2,777.3 L644.3,779.3 L644.4,777.9 L644.5,772.1 L644.7,769.7 L644.8,771.9 L644.9,769.4 L645.0,773.3 L645.2,770.5 L645.3,772.2 L645.4,770.6 L645.5,770.0 L645.7,772.1 L645.8,772.2 L645.9,776.2 L646.0,776.7 L646.2,774.3 L646.3,764.6 L646.4,766.6 L646.5,769.9 L646.6,775.5 L646.8,774.4 L646.9,780.9 L647.0,783.8 L647.1,782.9 L647.3,786.7 L647.4,782.3 L647.5,780.3 L647.6,783.4 L647.8,785.8 L647.9,778.6 L648.0,793.0 L648.1,790.6 L648.2,788.5 L648.4,787.6 L648.5,787.3 L648.6,789.3 L648.7,788.3 L648.9,792.6 L649.0,791.8 L649.1,787.4 L649.2,784.5 L649.4,787.2 L649.5,788.8 L649.6,785.5 L649.7,782.0 L649.9,788.1 L650.0,789.8 L650.1,786.4 L650.2,783.5 L650.3,786.8 L650.5,785.3 L650.6,786.7 L650.7,780.7 L650.8,781.3 L651.0,783.3 L651.1,785.3 L651.2,783.1 L651.3,782.5 L651.5,786.7 L651.6,786.5 L651.7,790.4 L651.8,791.9 L651.9,794.4 L652.1,796.5 L652.2,796.3 L652.3,797.0 L652.4,793.5 L652.6,790.2 L652.7,790.6 L652.8,793.2 L652.9,796.6 L653.1,795.2 L653.2,798.9 L653.3,794.5 L653.4,791.5 L653.5,788.3 L653.7,789.1 L653.8,792.4 L653.9,792.8 L654.0,790.2 L654.2,791.8 L654.3,792.6 L654.4,795.1 L654.5,796.1 L654.7,791.5 L654.8,788.9 L654.9,791.1 L655.0,792.4 L655.2,791.8 L655.3,788.3 L655.4,790.0 L655.5,788.5 L655.6,792.4 L655.8,792.8 L655.9,788.4 L656.0,783.7 L656.1,785.5 L656.3,785.7 L656.4,781.4 L656.5,781.3 L656.6,781.4 L656.8,778.6 L656.9,777.2 L657.0,773.7 L657.1,771.8 L657.2,774.0 L657.4,772.0 L657.5,774.5 L657.6,778.0 L657.7,779.7 L657.9,775.7 L658.0,779.7 L658.1,775.8 L658.2,774.9 L658.4,775.4 L658.5,774.2 L658.6,773.5 L658.7,771.2 L658.9,773.9 L659.0,775.6 L659.1,777.0 L659.2,772.6 L659.3,772.0 L659.5,776.7 L659.6,778.8 L659.7,781.5 L659.8,781.7 L660.0,781.6 L660.1,776.0 L660.2,783.0 L660.3,780.7 L660.5,780.7 L660.6,783.8 L660.7,784.8 L660.8,786.5 L660.9,786.5 L661.1,783.9 L661.2,788.8 L661.3,785.0 L661.4,786.6 L661.6,782.9 L661.7,783.0 L661.8,780.9 L661.9,786.2 L662.1,784.9 L662.2,786.7 L662.3,790.4 L662.4,789.2 L662.6,788.1 L662.7,783.6 L662.8,791.1 L662.9,791.9 L663.0,789.0 L663.2,792.9 L663.3,793.1 L663.4,786.8 L663.5,783.8 L663.7,787.6 L663.8,784.1 L663.9,782.0 L664.0,781.3 L664.2,781.7 L664.3,782.1 L664.4,785.2 L664.5,786.3 L664.6,783.6 L664.8,783.0 L664.9,777.7 L665.0,779.3 L665.1,785.7 L665.3,784.8 L665.4,782.3 L665.5,779.9 L665.6,778.7 L665.8,780.0 L665.9,774.5 L666.0,776.0 L666.1,773.3 L666.2,773.8 L666.4,776.4 L666.5,771.4 L666.6,777.9 L666.7,778.3 L666.9,775.1 L667.0,774.8 L667.1,771.7 L667.2,771.6 L667.4,772.5 L667.5,766.2 L667.6,768.0 L667.7,769.2 L667.9,772.7 L668.0,774.6 L668.1,772.5 L668.2,771.2 L668.3,772.0 L668.5,774.6 L668.6,773.1 L668.7,778.5 L668.8,779.2 L669.0,779.6 L669.1,781.8 L669.2,780.9 L669.3,782.7 L669.5,784.6 L669.6,779.3 L669.7,778.3 L669.8,776.6 L669.9,778.5 L670.1,777.7 L670.2,777.7 L670.3,776.7 L670.4,773.1 L670.6,777.3 L670.7,779.4 L670.8,781.8 L670.9,793.0 L671.1,795.8 L671.2,794.2 L671.3,791.5 L671.4,792.7 L671.6,789.2 L671.7,786.1 L671.8,788.4 L671.9,785.3 L672.0,782.1 L672.2,783.2 L672.3,787.9 L672.4,784.9 L672.5,787.0 L672.7,789.2 L672.8,789.6 L672.9,791.6 L673.0,788.9 L673.2,787.7 L673.3,785.6 L673.4,785.8 L673.5,789.5 L673.6,790.7 L673.8,783.9 L673.9,785.8 L674.0,778.5 L674.1,781.4 L674.3,784.6 L674.4,782.3 L674.5,781.8 L674.6,783.4 L674.8,785.2 L674.9,784.9 L675.0,783.6 L675.1,782.8 L675.3,785.1 L675.4,784.9 L675.5,783.6 L675.6,782.9 L675.7,792.6 L675.9,794.0 L676.0,794.8 L676.1,793.9 L676.2,792.1 L676.4,788.7 L676.5,786.9 L676.6,787.4 L676.7,787.4 L676.9,782.6 L677.0,785.2 L677.1,784.6 L677.2,780.7 L677.3,780.8 L677.5,787.1 L677.6,785.3 L677.7,785.7 L677.8,785.2 L678.0,781.5 L678.1,780.2 L678.2,780.9 L678.3,778.8 L678.5,777.2 L678.6,777.2 L678.7,776.6 L678.8,776.1 L679.0,777.1 L679.1,778.1 L679.2,777.5 L679.3,779.5 L679.4,781.8 L679.6,776.6 L679.7,776.8 L679.8,776.3 L679.9,776.3 L680.1,775.8 L680.2,775.5 L680.3,775.3 L680.4,777.4 L680.6,774.5 L680.7,776.7 L680.8,773.9 L680.9,779.8 L681.0,782.0 L681.2,778.4 L681.3,778.8 L681.4,780.7 L681.5,779.5 L681.7,782.5 L681.8,781.9 L681.9,787.8 L682.0,787.6 L682.2,788.1 L682.3,785.5 L682.4,782.8 L682.5,785.5 L682.6,770.6 L682.8,783.7 L682.9,789.7 L683.0,795.1 L683.1,788.9 L683.3,788.6 L683.4,789.9 L683.5,791.2 L683.6,793.1 L683.8,788.1 L683.9,788.2 L684.0,783.3 L684.1,784.9 L684.3,791.8 L684.4,779.9 L684.5,789.3 L684.6,789.5 L684.7,784.9 L684.9,786.2 L685.0,783.5 L685.1,784.5 L685.2,787.3 L685.4,786.0 L685.5,788.0 L685.6,787.1 L685.7,785.4 L685.9,786.5 L686.0,785.9 L686.1,785.6 L686.2,787.7 L686.3,786.1 L686.5,787.9 L686.6,787.0 L686.7,790.5 L686.8,790.3 L687.0,789.3 L687.1,791.8 L687.2,792.6 L687.3,793.4 L687.5,790.7 L687.6,792.3 L687.7,790.4 L687.8,786.0 L688.0,785.7 L688.1,790.6 L688.2,789.5 L688.3,786.0 L688.4,786.8 L688.6,783.6 L688.7,782.2 L688.8,781.5 L688.9,782.7 L689.1,784.0 L689.2,784.0 L689.3,783.0 L689.4,780.9 L689.6,779.3 L689.7,779.9 L689.8,779.1 L689.9,777.5 L690.0,781.5 L690.2,782.0 L690.3,782.3 L690.4,780.8 L690.5,779.8 L690.7,778.9 L690.8,779.7 L690.9,776.2 L691.0,774.6 L691.2,778.4 L691.3,776.9 L691.4,778.8 L691.5,772.7 L691.7,774.0 L691.8,774.8 L691.9,774.3 L692.0,774.7 L692.1,774.8 L692.3,770.7 L692.4,771.3 L692.5,770.3 L692.6,769.0 L692.8,773.7 L692.9,770.4 L693.0,770.7 L693.1,770.4 L693.3,775.2 L693.4,774.5 L693.5,775.3 L693.6,778.6 L693.7,773.7 L693.9,774.7 L694.0,777.8 L694.1,779.2 L694.2,778.4 L694.4,777.3 L694.5,778.1 L694.6,777.1 L694.7,775.8 L694.9,782.1 L695.0,784.9 L695.1,788.3 L695.2,788.1 L695.3,784.4 L695.5,783.8 L695.6,787.9 L695.7,789.0 L695.8,786.4 L696.0,788.6 L696.1,789.0 L696.2,788.4 L696.3,793.5 L696.5,790.5 L696.6,789.4 L696.7,788.0 L696.8,791.1 L697.0,792.9 L697.1,793.8 L697.2,792.2 L697.3,791.5 L697.4,789.4 L697.6,784.5 L697.7,782.1 L697.8,785.7 L697.9,788.3 L698.1,784.0 L698.2,786.1 L698.3,783.3 L698.4,780.6 L698.6,784.3 L698.7,786.4 L698.8,787.0 L698.9,790.0 L699.0,792.6 L699.2,793.0 L699.3,790.0 L699.4,791.2 L699.5,791.4 L699.7,792.3 L699.8,795.3 L699.9,789.9 L700.0,796.0 L700.2,796.0 L700.3,792.7 L700.4,795.3 L700.5,791.8 L700.7,787.4 L700.8,789.5 L700.9,788.2 L701.0,790.5 L701.1,787.8 L701.3,786.7 L701.4,785.3 L701.5,781.1 L701.6,780.1 L701.8,776.9 L701.9,776.1 L702.0,780.2 L702.1,779.3 L702.3,777.8 L702.4,781.6 L702.5,776.9 L702.6,776.7 L702.7,775.5 L702.9,777.9 L703.0,777.0 L703.1,775.6 L703.2,776.1 L703.4,775.4 L703.5,780.7 L703.6,775.3 L703.7,777.9 L703.9,782.7 L704.0,783.1 L704.1,783.1 L704.2,779.5 L704.4,780.8 L704.5,778.6 L704.6,780.4 L704.7,773.5 L704.8,772.9 L705.0,768.8 L705.1,773.8 L705.2,773.2 L705.3,777.3 L705.5,776.4 L705.6,775.7 L705.7,781.3 L705.8,793.7 L706.0,787.1 L706.1,790.2 L706.2,785.8 L706.3,798.2 L706.4,810.5 L706.6,822.9 L706.7,835.3 L706.8,847.7 L706.9,860.1 L707.1,872.4 L707.2,884.8 L707.3,897.2 L707.4,909.6 L707.6,922.0 L707.7,934.4 L707.8,946.7 L707.9,959.1 L708.0,971.5 L708.2,983.9 L708.3,996.3 L708.4,1008.7 L708.5,1021.0 L708.7,1033.4 L708.8,1045.8 L708.9,1058.2 L709.0,1070.6 L709.2,1083.0 L709.3,1095.3 L709.4,1107.6 L709.5,1109.3 L709.7,1108.0 L709.8,1107.8 L709.9,1108.7 L710.0,1109.3 L710.1,1108.2 L710.3,1108.6 L710.4,1108.4 L710.5,1110.1 L710.6,1108.5 L710.8,1107.2 L710.9,1109.4 L711.0,1108.9 L711.1,1109.3 L711.3,1108.1 L711.4,1111.4 L711.5,1107.2 L711.6,1108.5 L711.7,1109.3 L711.9,1108.7 L712.0,1107.8 L712.1,1108.6 L712.2,1108.3 L712.4,1107.7 L712.5,1108.9 L712.6,1108.2 L712.7,1107.4 L712.9,1108.4 L713.0,1109.8 L713.1,1108.2 L713.2,1106.7 L713.4,1109.4 L713.5,1108.5 L713.6,1108.6 L713.7,1108.0 L713.8,1109.5 L714.0,1109.1 L714.1,1106.8 L714.2,1108.3 L714.3,1109.8 L714.5,1108.2 L714.6,1109.0 L714.7,1107.3 L714.8,1110.9 L715.0,1108.9 L715.1,1107.9 L715.2,1110.5 L715.3,1109.9 L715.4,1108.5 L715.6,1109.0 L715.7,1109.4 L715.8,1108.7 L715.9,1110.6 L716.1,1110.0 L716.2,1107.1 L716.3,1109.8 L716.4,1108.6 L716.6,1109.1 L716.7,1108.1 L716.8,1108.7 L716.9,1108.6 L717.1,1107.7 L717.2,1108.7 L717.3,1111.0 L717.4,1109.8 L717.5,1107.4 L717.7,1107.8 L717.8,1109.3 L717.9,1110.9 L718.0,1109.9 L718.2,1106.7 L718.3,1107.7 L718.4,1107.7 L718.5,1110.9 L718.7,1110.6 L718.8,1109.7 L718.9,1110.6 L719.0,1108.9 L719.1,1110.3 L719.3,1108.5 L719.4,1109.3 L719.5,1109.7 L719.6,1108.3 L719.8,1108.5 L719.9,1108.9 L720.0,1109.5 L720.1,1109.1 L720.3,1111.2 L720.4,1111.3 L720.5,1109.8 L720.6,1108.9 L720.8,1107.1 L720.9,1108.6 L721.0,1110.2 L721.1,1109.6 L721.2,1110.5 L721.4,1109.1 L721.5,1109.2 L721.6,1109.1 L721.7,1108.7 L721.9,1107.9 L722.0,1108.3 L722.1,1110.4 L722.2,1108.1 L722.4,1110.2 L722.5,1108.6 L722.6,1108.9 L722.7,1107.2 L722.8,1109.2 L723.0,1109.2 L723.1,1109.4 L723.2,1108.1 L723.3,1108.7 L723.5,1109.4 L723.6,1108.1 L723.7,1106.7 L723.8,1107.2 L724.0,1107.4 L724.1,1109.7 L724.2,1109.2 L724.3,1108.9 L724.4,1111.0 L724.6,1107.1 L724.7,1110.7 L724.8,1108.6 L724.9,1110.4 L725.1,1108.9 L725.2,1108.1 L725.3,1108.5 L725.4,1110.0 L725.6,1109.8 L725.7,1108.0 L725.8,1109.1 L725.9,1108.9 L726.1,1108.0 L726.2,1111.9 L726.3,1108.8 L726.4,1107.6 L726.5,1107.0 L726.7,1108.3 L726.8,1109.9 L726.9,1107.9 L727.0,1106.9 L727.2,1109.8 L727.3,1109.9 L727.4,1109.2 L727.5,1109.5 L727.7,1111.3 L727.8,1111.7 L727.9,1110.5 L728.0,1109.8 L728.1,1108.6 L728.3,1109.6 L728.4,1108.8 L728.5,1107.5 L728.6,1105.7 L728.8,1108.1 L728.9,1110.1 L729.0,1107.9 L729.1,1109.0 L729.3,1108.7 L729.4,1108.0 L729.5,1108.2 L729.6,1110.5 L729.8,1110.3 L729.9,1108.7 L730.0,1108.2 L730.1,1106.7 L730.2,1108.4 L730.4,1109.5 L730.5,1109.6 L730.6,1109.8 L730.7,1110.5 L730.9,1110.5 L731.0,1109.7 L731.1,1108.9 L731.2,1109.9 L731.4,1109.0 L731.5,1109.4 L731.6,1109.3 L731.7,1109.5 L731.8,1108.7 L732.0,1109.0 L732.1,1112.0 L732.2,1108.8 L732.3,1108.9 L732.5,1109.7 L732.6,1108.9 L732.7,1109.8 L732.8,1108.9 L733.0,1110.0 L733.1,1108.3 L733.2,1108.7 L733.3,1110.7 L733.5,1109.8 L733.6,1108.3 L733.7,1108.6 L733.8,1108.9 L733.9,1110.3 L734.1,1109.8 L734.2,1108.9 L734.3,1108.7 L734.4,1109.1 L734.6,1110.0 L734.7,1109.3 L734.8,1109.6 L734.9,1110.4 L735.1,1110.3 L735.2,1110.0 L735.3,1110.7 L735.4,1108.5 L735.5,1108.2 L735.7,1108.1 L735.8,1109.9 L735.9,1109.9 L736.0,1108.8 L736.2,1109.6 L736.3,1109.4 L736.4,1109.4 L736.5,1110.9 L736.7,1107.6 L736.8,1110.7 L736.9,1110.8 L737.0,1108.2 L737.1,1110.3 L737.3,1107.9 L737.4,1108.7 L737.5,1108.7 L737.6,1109.5 L737.8,1110.7 L737.9,1110.4 L738.0,1109.0 L738.1,1109.2 L738.3,1110.4 L738.4,1110.3 L738.5,1110.0 L738.6,1109.1 L738.8,1108.6 L738.9,1108.1 L739.0,1109.5 L739.1,1107.5 L739.2,1108.3 L739.4,1107.4 L739.5,1110.0 L739.6,1108.4 L739.7,1107.9 L739.9,1111.0 L740.0,1108.0 L740.1,1108.6 L740.2,1108.0 L740.4,1108.9 L740.5,1107.8 L740.6,1109.5 L740.7,1109.6 L740.8,1108.3 L741.0,1108.3 L741.1,1110.6 L741.2,1107.7 L741.3,1107.8 L741.5,1107.9 L741.6,1109.9 L741.7,1107.7 L741.8,1108.5 L742.0,1108.0 L742.1,1109.1 L742.2,1109.5 L742.3,1109.9 L742.5,1109.7 L742.6,1108.1 L742.7,1109.9 L742.8,1109.8 L742.9,1108.7 L743.1,1109.4 L743.2,1111.4 L743.3,1109.8 L743.4,1109.5 L743.6,1107.3 L743.7,1108.3 L743.8,1110.2 L743.9,1110.3 L744.1,1109.6 L744.2,1108.8 L744.3,1109.9 L744.4,1108.6 L744.5,1110.6 L744.7,1108.7 L744.8,1107.7 L744.9,1112.0 L745.0,1109.1 L745.2,1108.8 L745.3,1108.6 L745.4,1109.0 L745.5,1109.1 L745.7,1108.8 L745.8,1108.9 L745.9,1109.0 L746.0,1107.3 L746.2,1107.9 L746.3,1108.0 L746.4,1109.8 L746.5,1109.6 L746.6,1107.9 L746.8,1110.2 L746.9,1107.9 L747.0,1110.6 L747.1,1106.7 L747.3,1107.7 L747.4,1109.7 L747.5,1109.6 L747.6,1111.3 L747.8,1109.1 L747.9,1107.7 L748.0,1108.4 L748.1,1109.4 L748.2,1106.8 L748.4,1108.5 L748.5,1108.6 L748.6,1109.4 L748.7,1108.4 L748.9,1106.2 L749.0,1108.6 L749.1,1110.9 L749.2,1108.8 L749.4,1106.9 L749.5,1107.7 L749.6,1109.6 L749.7,1108.7 L749.8,1110.7 L750.0,1108.4 L750.1,1110.0 L750.2,1109.7 L750.3,1109.7 L750.5,1109.9 L750.6,1107.2 L750.7,1107.4 L750.8,1109.4 L751.0,1109.0 L751.1,1107.2 L751.2,1109.4 L751.3,1109.6 L751.5,1110.0 L751.6,1107.3 L751.7,1108.9 L751.8,1109.1 L751.9,1109.5 L752.1,1110.1 L752.2,1108.0 L752.3,1109.9 L752.4,1109.6 L752.6,1110.9 L752.7,1110.3 L752.8,1109.6 L752.9,1109.6 L753.1,1110.8 L753.2,1109.8 L753.3,1109.2 L753.4,1112.0 L753.5,1108.4 L753.7,1109.4 L753.8,1110.6 L753.9,1109.4 L754.0,1108.6 L754.2,1109.1 L754.3,1109.0 L754.4,1109.1 L754.5,1108.4 L754.7,1110.6 L754.8,1109.7 L754.9,1108.7 L755.0,1109.1 L755.2,1110.3 L755.3,1109.4 L755.4,1109.9 L755.5,1109.1 L755.6,1110.9 L755.8,1110.9 L755.9,1110.7 L756.0,1109.2 L756.1,1106.3 L756.3,1108.0 L756.4,1107.7 L756.5,1109.1 L756.6,1107.3 L756.8,1108.7 L756.9,1109.0 L757.0,1107.9 L757.1,1110.4 L757.2,1111.5 L757.4,1110.4 L757.5,1107.5 L757.6,1108.1 L757.7,1108.9 L757.9,1109.4 L758.0,1109.3 L758.1,1108.7 L758.2,1110.1 L758.4,1108.2 L758.5,1110.2 L758.6,1107.6 L758.7,1109.5 L758.9,1110.1 L759.0,1109.4 L759.1,1110.1 L759.2,1109.2 L759.3,1111.1 L759.5,1109.6 L759.6,1109.0 L759.7,1108.7 L759.8,1109.5 L760.0,1107.7 L760.1,1111.0 L760.2,1109.3 L760.3,1109.6 L760.5,1109.1 L760.6,1109.4 L760.7,1107.6 L760.8,1109.1 L760.9,1110.1 L761.1,1106.3 L761.2,1109.1 L761.3,1109.3 L761.4,1108.1 L761.6,1109.8 L761.7,1109.4 L761.8,1108.1 L761.9,1110.4 L762.1,1109.6 L762.2,1108.1 L762.3,1107.1 L762.4,1109.2 L762.6,1109.2 L762.7,1107.9 L762.8,1110.7 L762.9,1109.9 L763.0,1110.0 L763.2,1111.4 L763.3,1112.3 L763.4,1109.6 L763.5,1108.1 L763.7,1108.4 L763.8,1107.7 L763.9,1112.2 L764.0,1109.3 L764.2,1107.6 L764.3,1110.1 L764.4,1110.6 L764.5,1108.7 L764.6,1109.1 L764.8,1108.4 L764.9,1109.1 L765.0,1107.7 L765.1,1108.3 L765.3,1108.8 L765.4,1109.5 L765.5,1108.3 L765.6,1107.6 L765.8,1103.4 L765.9,1099.2 L766.0,1095.0 L766.1,1090.8 L766.2,1086.6 L766.4,1082.4 L766.5,1078.1 L766.6,1073.9 L766.7,1069.7 L766.9,1065.5 L767.0,1061.3 L767.1,1057.1 L767.2,1052.9 L767.4,1048.7 L767.5,1044.5 L767.6,1040.2 L767.7,1036.0 L767.9,1031.8 L768.0,1027.6 L768.1,1025.1 L768.2,1023.1 L768.3,1021.1 L768.5,1019.1 L768.6,1017.1 L768.7,1015.0 L768.8,1013.0 L769.0,1011.0 L769.1,1009.0 L769.2,1006.9 L769.3,1004.9 L769.5,1002.9 L769.6,1000.9 L769.7,998.9 L769.8,996.8 L769.9,994.8 L770.1,993.8 L770.2,993.6 L770.3,993.3 L770.4,993.1 L770.6,992.9 L770.7,992.6 L770.8,992.4 L770.9,992.1 L771.1,991.9 L771.2,991.6 L771.3,991.4 L771.4,991.2 L771.6,990.9 L771.7,990.7 L771.8,990.4 L771.9,990.2 L772.0,989.9 L772.2,989.7 L772.3,989.5 L772.4,989.2 L772.5,988.1 L772.7,985.0 L772.8,981.9 L772.9,978.8 L773.0,975.7 L773.2,972.6 L773.3,969.5 L773.4,966.4 L773.5,963.3 L773.6,960.2 L773.8,957.1 L773.9,954.0 L774.0,950.8 L774.1,947.7 L774.3,944.6 L774.4,941.5 L774.5,938.4 L774.6,935.3 L774.8,932.2 L774.9,929.1 L775.0,926.0 L775.1,922.9 L775.3,919.8 L775.4,915.3 L775.5,909.9 L775.6,904.6 L775.7,899.2 L775.9,893.8 L776.0,888.4 L776.1,883.0 L776.2,877.6 L776.4,872.2 L776.5,866.8 L776.6,861.4 L776.7,856.0 L776.9,851.5 L777.0,848.0 L777.1,844.5 L777.2,841.1 L777.3,837.6 L777.5,834.1 L777.6,832.3 L777.7,830.9 L777.8,829.6 L778.0,828.2 L778.1,826.9 L778.2,825.5 L778.3,824.2 L778.5,822.8 L778.6,821.5 L778.7,820.1 L778.8,818.8 L778.9,817.4 L779.1,816.6 L779.2,816.2 L779.3,815.7 L779.4,815.3 L779.6,814.8 L779.7,814.4 L779.8,813.9 L779.9,813.5 L780.1,813.0 L780.2,812.6 L780.3,812.1 L780.4,811.7 L780.6,811.2 L780.7,810.8 L780.8,810.3 L780.9,809.9 L781.0,809.4 L781.2,809.0 L781.3,808.5 L781.4,808.1 L781.5,807.6 L781.7,807.2 L781.8,803.5 L781.9,805.3 L782.0,807.5 L782.2,809.3 L782.3,810.1 L782.4,813.2 L782.5,810.9 L782.6,810.7 L782.8,810.2 L782.9,809.2 L783.0,807.5 L783.1,809.7 L783.3,810.1 L783.4,814.5 L783.5,819.4 L783.6,822.4 L783.8,815.4 L783.9,819.1 L784.0,815.8 L784.1,810.7 L784.3,811.9 L784.4,807.3 L784.5,803.3 L784.6,802.6 L784.7,798.3 L784.9,799.6 L785.0,804.2 L785.1,804.1 L785.2,806.6 L785.4,810.6 L785.5,813.5 L785.6,805.9 L785.7,807.7 L785.9,807.6 L786.0,809.0 L786.1,807.8 L786.2,807.7 L786.3,808.0 L786.5,810.1 L786.6,812.1 L786.7,811.7 L786.8,808.4 L787.0,801.1 L787.1,798.2 L787.2,793.8 L787.3,794.0 L787.5,795.6 L787.6,799.9 L787.7,799.6 L787.8,804.9 L788.0,804.0 L788.1,798.2 L788.2,787.3 L788.3,794.4 L788.4,796.3 L788.6,800.4 L788.7,801.2 L788.8,801.6 L788.9,797.7 L789.1,792.8 L789.2,796.5 L789.3,798.3 L789.4,799.2 L789.6,800.6 L789.7,804.1 L789.8,803.3 L789.9,802.1 L790.0,801.3 L790.2,799.9 L790.3,805.1 L790.4,799.5 L790.5,806.0 L790.7,808.5 L790.8,808.6 L790.9,809.2 L791.0,810.0 L791.2,812.0 L791.3,815.5 L791.4,808.8 L791.5,807.8 L791.6,807.0 L791.8,801.6 L791.9,803.4 L792.0,803.0 L792.1,804.1 L792.3,801.8 L792.4,801.8 L792.5,802.4 L792.6,804.4 L792.8,804.5 L792.9,802.3 L793.0,809.2 L793.1,809.3 L793.3,810.1 L793.4,810.5 L793.5,815.2 L793.6,811.6 L793.7,813.1 L793.9,812.6 L794.0,812.9 L794.1,816.3 L794.2,815.5 L794.4,818.6 L794.5,815.2 L794.6,816.7 L794.7,812.4 L794.9,812.6 L795.0,811.6 L795.1,804.7 L795.2,803.9 L795.3,807.6 L795.5,808.6 L795.6,809.4 L795.7,808.5 L795.8,808.9 L796.0,809.6 L796.1,803.4 L796.2,802.8 L796.3,803.2 L796.5,803.1 L796.6,802.8 L796.7,798.2 L796.8,797.0 L797.0,794.2 L797.1,803.3 L797.2,800.8 L797.3,796.9 L797.4,791.5 L797.6,792.5 L797.7,797.8 L797.8,795.7 L797.9,797.2 L798.1,801.5 L798.2,801.6 L798.3,797.3 L798.4,793.6 L798.6,792.3 L798.7,796.0 L798.8,789.4 L798.9,794.4 L799.0,795.3 L799.2,799.7 L799.3,795.8 L799.4,795.3 L799.5,793.9 L799.7,795.1 L799.8,796.5 L799.9,797.1 L800.0,803.2 L800.2,800.1 L800.3,798.2 L800.4,800.3 L800.5,801.0 L800.7,800.8 L800.8,797.4 L800.9,797.9 L801.0,799.4 L801.1,802.0 L801.3,806.7 L801.4,807.8 L801.5,806.9 L801.6,807.1 L801.8,806.5 L801.9,804.1 L802.0,803.2 L802.1,802.9 L802.3,801.7 L802.4,801.9 L802.5,802.7 L802.6,801.9 L802.7,807.2 L802.9,803.1 L803.0,806.8 L803.1,803.9 L803.2,803.9 L803.4,801.0 L803.5,801.6 L803.6,804.7 L803.7,801.6 L803.9,801.7 L804.0,802.3 L804.1,802.7 L804.2,800.6 L804.3,799.4 L804.5,800.1 L804.6,805.4 L804.7,806.3 L804.8,805.6 L805.0,800.5 L805.1,800.5 L805.2,801.7 L805.3,799.2 L805.5,800.7 L805.6,801.7 L805.7,801.9 L805.8,806.5 L806.0,803.4 L806.1,802.5 L806.2,803.7 L806.3,806.9 L806.4,805.7 L806.6,801.7 L806.7,804.1 L806.8,807.1 L806.9,805.4 L807.1,809.5 L807.2,814.3 L807.3,813.1 L807.4,812.9 L807.6,811.7 L807.7,811.5 L807.8,808.9 L807.9,808.5 L808.0,809.1 L808.2,809.1 L808.3,806.2 L808.4,803.1 L808.5,800.8 L808.7,799.5 L808.8,809.1 L808.9,810.0 L809.0,808.8 L809.2,806.3 L809.3,809.2 L809.4,803.1 L809.5,801.3 L809.7,802.2 L809.8,800.7 L809.9,800.7 L810.0,801.6 L810.1,798.8 L810.3,799.0 L810.4,801.6 L810.5,801.3 L810.6,799.5 L810.8,800.6 L810.9,795.0 L811.0,797.0 L811.1,790.8 L811.3,788.3 L811.4,791.3 L811.5,790.6 L811.6,787.2 L811.7,788.3 L811.9,791.7 L812.0,790.9 L812.1,785.2 L812.2,790.3 L812.4,788.7 L812.5,789.1 L812.6,789.7 L812.7,791.1 L812.9,792.0 L813.0,789.2 L813.1,788.4 L813.2,792.1 L813.4,788.3 L813.5,793.2 L813.6,791.8 L813.7,792.1 L813.8,789.9 L814.0,790.5 L814.1,789.3 L814.2,791.4 L814.3,790.5 L814.5,791.6 L814.6,787.7 L814.7,792.4 L814.8,791.1 L815.0,792.1 L815.1,793.7 L815.2,796.9 L815.3,796.7 L815.4,801.7 L815.6,805.2 L815.7,802.3 L815.8,805.1 L815.9,799.8 L816.1,800.4 L816.2,799.4 L816.3,799.1 L816.4,797.9 L816.6,798.9 L816.7,799.9 L816.8,800.0 L816.9,796.9 L817.1,794.4 L817.2,792.2 L817.3,793.0 L817.4,795.2 L817.5,800.7 L817.7,798.8 L817.8,796.8 L817.9,798.7 L818.0,796.9 L818.2,794.4 L818.3,795.7 L818.4,794.1 L818.5,794.9 L818.7,801.0 L818.8,802.2 L818.9,802.9 L819.0,801.0 L819.1,803.2 L819.3,803.7 L819.4,805.4 L819.5,804.2 L819.6,802.9 L819.8,799.5 L819.9,797.3 L820.0,797.2 L820.1,796.8 L820.3,796.8 L820.4,796.6 L820.5,792.5 L820.6,800.1 L820.7,799.4 L820.9,797.5 L821.0,793.8 L821.1,796.7 L821.2,794.9 L821.4,792.1 L821.5,793.4 L821.6,798.1 L821.7,797.3 L821.9,798.9 L822.0,795.1 L822.1,796.3 L822.2,790.1 L822.4,784.8 L822.5,779.8 L822.6,786.4 L822.7,795.1 L822.8,792.9 L823.0,788.4 L823.1,789.5 L823.2,787.5 L823.3,790.9 L823.5,790.3 L823.6,784.7 L823.7,790.4 L823.8,787.8 L824.0,786.2 L824.1,793.2 L824.2,797.4 L824.3,799.4 L824.4,795.9 L824.6,797.2 L824.7,797.6 L824.8,795.6 L824.9,795.9 L825.1,795.9 L825.2,797.5 L825.3,794.9 L825.4,804.8 L825.6,794.1 L825.7,796.5 L825.8,799.6 L825.9,798.1 L826.1,797.6 L826.2,803.6 L826.3,802.4 L826.4,805.6 L826.5,806.6 L826.7,803.1 L826.8,804.9 L826.9,802.9 L827.0,803.4 L827.2,797.6 L827.3,798.6 L827.4,802.2 L827.5,804.7 L827.7,806.7 L827.8,805.0 L827.9,804.1 L828.0,800.8 L828.1,800.6 L828.3,800.5 L828.4,800.0 L828.5,800.8 L828.6,800.4 L828.8,798.8 L828.9,797.7 L829.0,800.4 L829.1,805.7 L829.3,807.2 L829.4,805.5 L829.5,811.6 L829.6,810.9 L829.8,808.0 L829.9,808.5 L830.0,810.4 L830.1,804.1 L830.2,800.5 L830.4,802.1 L830.5,799.0 L830.6,796.8 L830.7,801.6 L830.9,794.9 L831.0,799.5 L831.1,801.1 L831.2,804.4 L831.4,803.6 L831.5,806.7 L831.6,805.3 L831.7,801.3 L831.8,800.5 L832.0,801.0 L832.1,796.5 L832.2,799.4 L832.3,796.5 L832.5,797.5 L832.6,796.8 L832.7,796.6 L832.8,796.1 L833.0,796.1 L833.1,797.9 L833.2,798.6 L833.3,796.4 L833.4,796.1 L833.6,798.6 L833.7,799.2 L833.8,799.7 L833.9,798.3 L834.1,796.6 L834.2,795.7 L834.3,796.9 L834.4,796.2 L834.6,799.4 L834.7,805.9 L834.8,803.3 L834.9,805.8 L835.1,805.8 L835.2,806.7 L835.3,802.7 L835.4,804.6 L835.5,802.3 L835.7,802.8 L835.8,805.2 L835.9,808.1 L836.0,805.1 L836.2,803.1 L836.3,800.7 L836.4,796.3 L836.5,797.2 L836.7,798.0 L836.8,799.8 L836.9,800.7 L837.0,802.6 L837.1,805.6 L837.3,800.2 L837.4,806.5 L837.5,805.6 L837.6,804.5 L837.8,804.5 L837.9,807.5 L838.0,807.7 L838.1,808.5 L838.3,810.8 L838.4,809.8 L838.5,810.0 L838.6,810.6 L838.8,807.7 L838.9,810.1 L839.0,808.0 L839.1,809.2 L839.2,807.3 L839.4,806.8 L839.5,804.7 L839.6,807.6 L839.7,809.3 L839.9,810.9 L840.0,809.3 L840.1,806.6 L840.2,803.6 L840.4,805.6 L840.5,805.5 L840.6,809.9 L840.7,814.7 L840.8,814.7 L841.0,814.1 L841.1,816.0 L841.2,818.0 L841.3,813.3 L841.5,813.3 L841.6,815.5 L841.7,806.6 L841.8,805.5 L842.0,806.0 L842.1,803.7 L842.2,805.8 L842.3,801.2 L842.5,806.0 L842.6,809.0 L842.7,808.1 L842.8,809.2 L842.9,804.3 L843.1,808.6 L843.2,809.6 L843.3,807.8 L843.4,805.6 L843.6,802.9 L843.7,802.7 L843.8,797.6 L843.9,801.0 L844.1,801.8 L844.2,800.7 L844.3,803.0 L844.4,804.7 L844.5,806.4 L844.7,808.2 L844.8,810.9 L844.9,811.3 L845.0,814.3 L845.2,811.4 L845.3,814.4 L845.4,806.9 L845.5,802.2 L845.7,800.1 L845.8,802.0 L845.9,804.3 L846.0,801.2 L846.1,801.5 L846.3,800.6 L846.4,803.1 L846.5,800.2 L846.6,802.9 L846.8,802.3 L846.9,806.6 L847.0,806.9 L847.1,803.9 L847.3,804.1 L847.4,804.1 L847.5,800.8 L847.6,800.5 L847.8,796.7 L847.9,803.5 L848.0,800.6 L848.1,798.6 L848.2,802.4 L848.4,804.7 L848.5,800.6 L848.6,802.7 L848.7,803.2 L848.9,800.3 L849.0,800.7 L849.1,798.9 L849.2,801.2 L849.4,799.9 L849.5,797.0 L849.6,796.8 L849.7,803.5 L849.8,801.1 L850.0,801.0 L850.1,803.6 L850.2,799.5 L850.3,804.9 L850.5,799.5 L850.6,802.1 L850.7,798.3 L850.8,799.9 L851.0,804.5 L851.1,804.3 L851.2,803.5 L851.3,804.7 L851.5,802.3 L851.6,805.8 L851.7,804.7 L851.8,803.3 L851.9,804.9 L852.1,807.9 L852.2,810.3 L852.3,807.5 L852.4,805.4 L852.6,808.1 L852.7,811.5 L852.8,807.3 L852.9,811.5 L853.1,810.1 L853.2,811.6 L853.3,815.2 L853.4,813.0 L853.5,812.0 L853.7,807.0 L853.8,800.9 L853.9,802.8 L854.0,800.9 L854.2,799.4 L854.3,802.2 L854.4,805.1 L854.5,800.6 L854.7,802.4 L854.8,802.6 L854.9,803.3 L855.0,803.3 L855.2,804.3 L855.3,801.4 L855.4,797.6 L855.5,799.0 L855.6,802.5 L855.8,801.1 L855.9,804.1 L856.0,803.9 L856.1,798.6 L856.3,791.7 L856.4,791.5 L856.5,795.1 L856.6,792.8 L856.8,799.0 L856.9,799.5 L857.0,794.0 L857.1,791.9 L857.2,796.0 L857.4,799.8 L857.5,796.0 L857.6,795.6 L857.7,796.8 L857.9,795.1 L858.0,796.5 L858.1,801.3 L858.2,797.8 L858.4,799.1 L858.5,801.1 L858.6,803.7 L858.7,801.5 L858.9,802.9 L859.0,800.3 L859.1,800.8 L859.2,797.8 L859.3,799.5 L859.5,801.7 L859.6,806.9 L859.7,808.6 L859.8,805.2 L860.0,796.6 L860.1,801.7 L860.2,804.9 L860.3,803.8 L860.5,802.7 L860.6,804.9 L860.7,804.7 L860.8,809.0 L860.9,808.7 L861.1,805.4 L861.2,801.0 L861.3,802.5 L861.4,803.8 L861.6,802.9 L861.7,800.5 L861.8,800.3 L861.9,803.4 L862.1,802.8 L862.2,800.7 L862.3,803.6 L862.4,807.4 L862.5,805.3 L862.7,804.2 L862.8,801.7 L862.9,802.2 L863.0,804.5 L863.2,803.5 L863.3,806.0 L863.4,807.7 L863.5,807.9 L863.7,807.9 L863.8,803.8 L863.9,806.9 L864.0,806.1 L864.2,807.0 L864.3,802.3 L864.4,802.0 L864.5,803.5 L864.6,801.5 L864.8,802.0 L864.9,803.8 L865.0,799.9 L865.1,799.1 L865.3,795.9 L865.4,794.9 L865.5,795.2 L865.6,797.0 L865.8,801.6 L865.9,800.2 L866.0,800.7 L866.1,799.5 L866.2,800.2 L866.4,802.5 L866.5,804.9 L866.6,802.1 L866.7,798.3 L866.9,799.5 L867.0,798.3 L867.1,794.8 L867.2,797.9 L867.4,798.7 L867.5,801.3 L867.6,797.0 L867.7,796.1 L867.9,797.2 L868.0,801.1 L868.1,800.0 L868.2,796.0 L868.3,796.3 L868.5,796.8 L868.6,794.4 L868.7,797.4 L868.8,796.3 L869.0,794.0 L869.1,795.9 L869.2,797.5 L869.3,795.9 L869.5,795.7 L869.6,795.9 L869.7,795.0 L869.8,794.4 L869.9,797.0 L870.1,798.4 L870.2,796.6 L870.3,793.6 L870.4,790.9 L870.6,794.7 L870.7,792.6 L870.8,792.0 L870.9,793.8 L871.1,793.8 L871.2,793.1 L871.3,790.1 L871.4,795.4 L871.6,795.1 L871.7,796.9 L871.8,798.5 L871.9,796.2 L872.0,795.4 L872.2,799.6 L872.3,800.9 L872.4,800.5 L872.5,804.5 L872.7,801.5 L872.8,801.7 L872.9,801.2 L873.0,800.4 L873.2,795.8 L873.3,797.0 L873.4,799.0 L873.5,794.8 L873.6,797.6 L873.8,799.7 L873.9,803.5 L874.0,799.8 L874.1,799.1 L874.3,798.1 L874.4,798.1 L874.5,798.9 L874.6,801.2 L874.8,802.9 L874.9,801.0 L875.0,799.6 L875.1,795.1 L875.2,801.0 L875.4,799.5 L875.5,802.0 L875.6,797.6 L875.7,801.2 L875.9,798.7 L876.0,795.1 L876.1,796.6 L876.2,795.4 L876.4,802.2 L876.5,802.7 L876.6,806.4 L876.7,804.5 L876.9,803.5 L877.0,804.9 L877.1,801.4 L877.2,800.4 L877.3,802.0 L877.5,803.1 L877.6,806.5 L877.7,805.7 L877.8,799.0 L878.0,801.3 L878.1,800.1 L878.2,801.7 L878.3,799.2 L878.5,798.3 L878.6,799.2 L878.7,803.9 L878.8,804.0 L878.9,799.5 L879.1,799.8 L879.2,797.5 L879.3,798.7 L879.4,803.0 L879.6,800.2 L879.7,798.1 L879.8,798.9 L879.9,798.8 L880.1,796.8 L880.2,797.5 L880.3,795.5 L880.4,795.4 L880.6,800.8 L880.7,799.0 L880.8,798.8 L880.9,799.2 L881.0,796.3 L881.2,796.3 L881.3,793.7 L881.4,790.3 L881.5,790.2 L881.7,794.7 L881.8,795.9 L881.9,792.6 L882.0,793.2 L882.2,795.2 L882.3,794.9 L882.4,793.2 L882.5,792.7 L882.6,791.4 L882.8,794.3 L882.9,795.2 L883.0,795.9 L883.1,796.0 L883.3,801.5 L883.4,800.9 L883.5,803.4 L883.6,798.2 L883.8,793.9 L883.9,790.4 L884.0,790.1 L884.1,793.3 L884.3,791.9 L884.4,794.0 L884.5,793.4 L884.6,796.9 L884.7,798.7 L884.9,797.3 L885.0,800.1 L885.1,794.0 L885.2,788.9 L885.4,783.7 L885.5,790.4 L885.6,792.0 L885.7,795.6 L885.9,796.1 L886.0,797.5 L886.1,797.2 L886.2,794.3 L886.3,792.1 L886.5,792.2 L886.6,792.9 L886.7,793.1 L886.8,795.4 L887.0,794.3 L887.1,794.9 L887.2,794.1 L887.3,798.3 L887.5,795.8 L887.6,791.5 L887.7,792.4 L887.8,797.3 L887.9,793.7 L888.1,795.4 L888.2,803.8 L888.3,802.7 L888.4,799.9 L888.6,798.3 L888.7,794.9 L888.8,794.0 L888.9,794.7 L889.1,800.7 L889.2,802.9 L889.3,801.2 L889.4,798.6 L889.6,801.2 L889.7,801.9 L889.8,799.6 L889.9,804.1 L890.0,807.5 L890.2,805.5 L890.3,802.6 L890.4,802.3 L890.5,806.7 L890.7,803.8 L890.8,805.0 L890.9,800.6 L891.0,799.1 L891.2,796.9 L891.3,794.1 L891.4,794.9 L891.5,791.8 L891.6,788.2 L891.8,787.5 L891.9,784.5 L892.0,787.1 L892.1,784.9 L892.3,784.8 L892.4,787.9 L892.5,787.7 L892.6,788.6 L892.8,789.3 L892.9,788.0 L893.0,784.4 L893.1,785.3 L893.3,784.7 L893.4,788.5 L893.5,787.1 L893.6,783.4 L893.7,781.5 L893.9,781.0 L894.0,783.3 L894.1,786.3 L894.2,786.3 L894.4,789.7 L894.5,792.0 L894.6,788.2 L894.7,790.3 L894.9,781.5 L895.0,778.2 L895.1,783.2 L895.2,791.5 L895.3,790.7 L895.5,793.4 L895.6,792.8 L895.7,792.9 L895.8,794.0 L896.0,792.3 L896.1,788.6 L896.2,791.4 L896.3,789.8 L896.5,790.7 L896.6,791.8 L896.7,786.8 L896.8,794.6 L897.0,796.6 L897.1,801.1 L897.2,800.6 L897.3,800.0 L897.4,788.9 L897.6,789.7 L897.7,786.5 L897.8,785.5 L897.9,789.2 L898.1,789.6 L898.2,786.8 L898.3,788.5 L898.4,789.8 L898.6,790.0 L898.7,796.6 L898.8,798.9 L898.9,797.6 L899.0,796.1 L899.2,798.9 L899.3,799.4 L899.4,799.3 L899.5,799.4 L899.7,797.2 L899.8,797.2 L899.9,797.1 L900.0,801.2 L900.2,803.4 L900.3,801.4 L900.4,805.0 L900.5,802.9 L900.7,803.8 L900.8,804.8 L900.9,801.8 L901.0,803.1 L901.1,804.5 L901.3,805.0 L901.4,803.5 L901.5,795.3 L901.6,801.9 L901.8,801.2 L901.9,801.3 L902.0,798.1 L902.1,799.1 L902.3,805.3 L902.4,799.8 L902.5,801.9 L902.6,800.7 L902.7,803.0 L902.9,804.0 L903.0,802.9 L903.1,798.4 L903.2,794.9 L903.4,795.9 L903.5,793.6 L903.6,794.0 L903.7,792.9 L903.9,791.8 L904.0,789.6 L904.1,791.1 L904.2,790.8 L904.3,789.6 L904.5,788.9 L904.6,790.6 L904.7,785.3 L904.8,786.9 L905.0,784.9 L905.1,784.9 L905.2,782.3 L905.3,789.3 L905.5,783.5 L905.6,785.1 L905.7,789.2 L905.8,788.7 L906.0,782.9 L906.1,783.3 L906.2,788.3 L906.3,790.2 L906.4,787.0 L906.6,792.0 L906.7,792.7 L906.8,793.8 L906.9,788.2 L907.1,790.8 L907.2,788.6 L907.3,792.4 L907.4,795.8 L907.6,793.7 L907.7,793.3 L907.8,799.4 L907.9,797.9 L908.0,796.8 L908.2,799.5 L908.3,799.4 L908.4,799.4 L908.5,801.4 L908.7,803.3 L908.8,805.0 L908.9,805.3 L909.0,808.4 L909.2,807.3 L909.3,810.5 L909.4,808.7 L909.5,807.8 L909.7,809.7 L909.8,806.2 L909.9,800.7 L910.0,798.2 L910.1,783.8 L910.3,800.5 L910.4,801.0 L910.5,800.5 L910.6,799.3 L910.8,798.0 L910.9,796.8 L911.0,795.6 L911.1,796.4 L911.3,797.2 L911.4,798.0 L911.5,798.9 L911.6,798.5 L911.7,798.0 L911.9,797.6 L912.0,797.2 L912.1,797.6 L912.2,798.0 L912.4,798.5 L912.5,798.9 L912.6,798.0 L912.7,797.2 L912.9,796.4 L913.0,795.6 L913.1,796.8 L913.2,798.0 L913.4,799.3 L913.5,800.5 L913.6,800.1 L913.7,799.7 L913.8,799.3 L914.0,798.9 L914.1,798.5 L914.2,798.0 L914.3,797.6 L914.5,797.2 L914.6,798.0 L914.7,798.9 L914.8,799.7 L915.0,800.5 L915.1,819.4 L915.2,838.2 L915.3,857.1 L915.4,875.9 L915.6,929.2 L915.7,982.5 L915.8,1035.8 L915.9,1089.1 L916.1,1095.5 L916.2,1101.9 L916.3,1108.2 L916.4,1114.6 L916.6,1074.6 L916.7,1034.6 L916.8,994.6 L916.9,954.6 L917.0,920.2 L917.2,885.8 L917.3,851.3 L917.4,816.9 L917.5,815.3 L917.7,813.6 L917.8,812.0 L917.9,810.3 L918.0,809.5 L918.2,808.7 L918.3,807.9 L918.4,807.1 L918.5,807.9 L918.7,808.7 L918.8,809.5 L918.9,810.3 L919.0,808.7 L919.1,807.1 L919.3,805.4 L919.4,803.8 L919.5,803.0 L919.6,802.1 L919.8,801.3 L919.9,800.5 L920.0,800.9 L920.1,801.3 L920.3,801.7 L920.4,802.1 L920.5,801.3 L920.6,800.5 L920.7,799.7 L920.9,798.9 L921.0,800.5 L921.1,802.1 L921.2,803.8 L921.4,805.4 L921.5,804.6 L921.6,803.8 L921.7,803.0 L921.9,802.1 L922.0,800.9 L922.1,799.7 L922.2,798.5 L922.4,797.2 L922.5,798.5 L922.6,799.7 L922.7,800.9 L922.8,802.1 L923.0,800.9 L923.1,799.7 L923.2,798.5 L923.3,797.2 L923.5,799.7 L923.6,802.1 L923.7,804.6 L923.8,807.1" fill="none" stroke="#2e6db4" stroke-width="3.6" stroke-linejoin="round"/>
<path d="M141.1,790.4 L141.3,790.3 L141.6,790.2 L141.8,790.2 L142.1,790.6 L142.3,791.1 L142.6,791.4 L142.8,791.5 L143.1,791.2 L143.3,790.5 L143.6,789.8 L143.8,788.7 L144.1,787.1 L144.3,785.7 L144.6,784.3 L144.8,782.9 L145.0,781.3 L145.3,779.8 L145.5,778.4 L145.8,777.3 L146.0,776.4 L146.3,776.1 L146.5,775.9 L146.8,775.6 L147.0,775.2 L147.3,775.5 L147.5,775.7 L147.8,775.6 L148.0,775.6 L148.3,776.2 L148.5,777.0 L148.7,777.7 L149.0,778.5 L149.2,779.7 L149.5,781.0 L149.7,782.5 L150.0,783.5 L150.2,784.9 L150.5,786.1 L150.7,787.3 L151.0,788.1 L151.2,788.6 L151.5,788.9 L151.7,789.2 L152.0,789.4 L152.2,789.3 L152.4,789.4 L152.7,789.6 L152.9,790.1 L153.2,790.2 L153.4,789.7 L153.7,789.3 L153.9,789.2 L154.2,789.1 L154.4,789.3 L154.7,789.7 L154.9,790.4 L155.2,790.7 L155.4,790.8 L155.6,790.5 L155.9,789.9 L156.1,788.7 L156.4,787.5 L156.6,786.1 L156.9,785.0 L157.1,783.2 L157.4,781.2 L157.6,779.2 L157.9,777.2 L158.1,775.4 L158.4,773.6 L158.6,771.9 L158.9,771.1 L159.1,771.0 L159.3,770.9 L159.6,771.5 L159.8,772.3 L160.1,773.8 L160.3,775.6 L160.6,777.1 L160.8,778.2 L161.1,779.6 L161.3,781.1 L161.6,782.6 L161.8,784.1 L162.1,785.3 L162.3,786.7 L162.6,788.2 L162.8,789.2 L163.0,789.7 L163.3,789.4 L163.5,789.1 L163.8,788.8 L164.0,788.6 L164.3,788.5 L164.5,788.3 L164.8,787.4 L165.0,787.9 L165.3,788.2 L165.5,788.7 L165.8,788.8 L166.0,788.8 L166.3,788.6 L166.5,788.7 L166.7,788.8 L167.0,788.9 L167.2,788.3 L167.5,787.8 L167.7,787.3 L168.0,786.5 L168.2,785.8 L168.5,784.9 L168.7,783.8 L169.0,782.4 L169.2,781.3 L169.5,780.3 L169.7,779.1 L170.0,778.0 L170.2,776.9 L170.4,776.2 L170.7,775.6 L170.9,775.0 L171.2,774.7 L171.4,774.8 L171.7,775.4 L171.9,776.1 L172.2,777.4 L172.4,779.1 L172.7,780.9 L172.9,782.2 L173.2,783.5 L173.4,784.4 L173.7,785.2 L173.9,785.8 L174.1,786.4 L174.4,787.0 L174.6,787.6 L174.9,788.5 L175.1,789.5 L175.4,790.0 L175.6,790.4 L175.9,790.4 L176.1,790.3 L176.4,790.1 L176.6,792.4 L176.9,792.1 L177.1,791.6 L177.4,791.6 L177.6,791.2 L177.8,791.0 L178.1,790.4 L178.3,790.3 L178.6,790.3 L178.8,790.0 L179.1,789.4 L179.3,788.9 L179.6,787.6 L179.8,786.3 L180.1,784.3 L180.3,782.5 L180.6,780.8 L180.8,779.2 L181.1,777.7 L181.3,776.5 L181.5,775.4 L181.8,774.3 L182.0,773.4 L182.3,772.7 L182.5,771.6 L182.8,770.8 L183.0,770.5 L183.3,770.4 L183.5,770.7 L183.8,771.0 L184.0,772.2 L184.3,773.8 L184.5,775.5 L184.7,777.5 L185.0,779.2 L185.2,780.8 L185.5,782.5 L185.7,783.9 L186.0,785.3 L186.2,786.4 L186.5,787.2 L186.7,788.2 L187.0,788.9 L187.2,789.2 L187.5,789.5 L187.7,789.7 L188.0,790.0 L188.2,790.2 L188.4,788.7 L188.7,788.0 L188.9,786.9 L189.2,785.4 L189.4,783.8 L189.7,781.9 L189.9,779.9 L190.2,778.3 L190.4,776.7 L190.7,775.4 L190.9,774.4 L191.2,773.4 L191.4,773.1 L191.7,772.5 L191.9,772.4 L192.1,772.7 L192.4,773.6 L192.6,774.4 L192.9,775.0 L193.1,775.8 L193.4,776.6 L193.6,777.7 L193.9,778.6 L194.1,779.7 L194.4,781.0 L194.6,782.4 L194.9,783.7 L195.1,784.6 L195.4,785.1 L195.6,785.5 L195.8,786.0 L196.1,786.4 L196.3,787.0 L196.6,787.8 L196.8,788.7 L197.1,789.6 L197.3,790.3 L197.6,791.3 L197.8,791.8 L198.1,791.9 L198.3,792.1 L198.6,792.1 L198.8,791.8 L199.1,791.2 L199.3,790.4 L199.5,789.9 L199.8,789.2 L200.0,788.7 L200.3,785.7 L200.5,786.1 L200.8,786.4 L201.0,786.1 L201.3,786.2 L201.5,786.3 L201.8,786.4 L202.0,786.4 L202.3,786.3 L202.5,786.9 L202.8,787.8 L203.0,788.3 L203.2,788.3 L203.5,788.4 L203.7,788.4 L204.0,788.3 L204.2,787.9 L204.5,787.7 L204.7,787.6 L205.0,787.3 L205.2,786.8 L205.5,786.2 L205.7,785.2 L206.0,784.0 L206.2,782.6 L206.5,781.1 L206.7,779.5 L206.9,778.1 L207.2,776.5 L207.4,775.2 L207.7,774.4 L207.9,774.0 L208.2,774.1 L208.4,774.9 L208.7,776.0 L208.9,777.1 L209.2,778.0 L209.4,778.9 L209.7,779.9 L209.9,780.8 L210.1,781.6 L210.4,782.6 L210.6,783.8 L210.9,784.8 L211.1,785.9 L211.4,787.0 L211.6,787.6 L211.9,788.1 L212.1,787.3 L212.4,787.5 L212.6,787.0 L212.9,786.2 L213.1,785.6 L213.4,785.5 L213.6,785.5 L213.8,785.4 L214.1,785.7 L214.3,786.3 L214.6,786.6 L214.8,787.1 L215.1,787.5 L215.3,787.8 L215.6,788.5 L215.8,788.9 L216.1,789.5 L216.3,789.9 L216.6,789.9 L216.8,789.9 L217.1,789.6 L217.3,789.2 L217.5,788.7 L217.8,787.8 L218.0,786.7 L218.3,785.3 L218.5,783.6 L218.8,781.7 L219.0,779.8 L219.3,778.1 L219.5,776.6 L219.8,775.9 L220.0,775.6 L220.3,775.4 L220.5,775.5 L220.8,775.8 L221.0,776.1 L221.2,776.2 L221.5,776.6 L221.7,777.7 L222.0,778.9 L222.2,780.1 L222.5,781.1 L222.7,782.5 L223.0,783.7 L223.2,784.1 L223.5,784.2 L223.7,784.4 L224.0,787.4 L224.2,787.7 L224.5,788.0 L224.7,788.3 L224.9,788.7 L225.2,789.1 L225.4,789.6 L225.7,790.1 L225.9,790.5 L226.2,790.9 L226.4,791.2 L226.7,791.8 L226.9,792.0 L227.2,791.7 L227.4,791.4 L227.7,791.0 L227.9,790.5 L228.2,789.4 L228.4,788.1 L228.6,786.7 L228.9,784.9 L229.1,783.1 L229.4,781.4 L229.6,779.7 L229.9,777.9 L230.1,776.0 L230.4,774.8 L230.6,774.0 L230.9,772.9 L231.1,771.8 L231.4,771.1 L231.6,771.1 L231.9,771.2 L232.1,771.1 L232.3,771.7 L232.6,772.8 L232.8,774.2 L233.1,775.7 L233.3,777.3 L233.6,778.7 L233.8,780.6 L234.1,782.1 L234.3,783.4 L234.6,784.8 L234.8,785.6 L235.1,786.6 L235.3,787.1 L235.6,787.0 L235.8,785.9 L236.0,786.3 L236.3,787.0 L236.5,787.4 L236.8,787.5 L237.0,788.3 L237.3,789.3 L237.5,790.2 L237.8,791.1 L238.0,792.1 L238.3,792.6 L238.5,793.0 L238.8,793.0 L239.0,792.7 L239.2,792.3 L239.5,791.8 L239.7,791.3 L240.0,791.2 L240.2,790.7 L240.5,789.9 L240.7,789.4 L241.0,788.3 L241.2,787.3 L241.5,785.7 L241.7,784.0 L242.0,782.3 L242.2,780.3 L242.5,778.4 L242.7,776.6 L242.9,775.2 L243.2,773.6 L243.4,772.6 L243.7,771.6 L243.9,771.4 L244.2,771.5 L244.4,772.1 L244.7,773.2 L244.9,774.5 L245.2,775.7 L245.4,777.3 L245.7,778.7 L245.9,779.8 L246.2,781.0 L246.4,782.1 L246.6,783.6 L246.9,785.4 L247.1,786.5 L247.4,787.2 L247.6,786.3 L247.9,786.4 L248.1,786.5 L248.4,786.5 L248.6,786.8 L248.9,787.7 L249.1,788.2 L249.4,788.5 L249.6,788.8 L249.9,788.5 L250.1,787.6 L250.3,786.3 L250.6,784.9 L250.8,783.8 L251.1,782.2 L251.3,780.7 L251.6,780.0 L251.8,779.5 L252.1,778.8 L252.3,777.7 L252.6,777.3 L252.8,777.5 L253.1,777.7 L253.3,777.8 L253.6,778.4 L253.8,779.4 L254.0,780.6 L254.3,781.6 L254.5,782.5 L254.8,783.0 L255.0,783.4 L255.3,783.9 L255.5,784.6 L255.8,785.4 L256.0,785.8 L256.3,786.4 L256.5,786.9 L256.8,786.9 L257.0,786.3 L257.3,785.4 L257.5,784.7 L257.7,783.8 L258.0,783.0 L258.2,782.8 L258.5,783.2 L258.7,783.8 L259.0,784.5 L259.2,785.2 L259.5,791.9 L259.7,792.3 L260.0,792.2 L260.2,791.9 L260.5,791.2 L260.7,790.3 L261.0,789.6 L261.2,788.8 L261.4,787.6 L261.7,786.2 L261.9,784.8 L262.2,783.2 L262.4,781.7 L262.7,780.3 L262.9,779.0 L263.2,777.6 L263.4,776.4 L263.7,775.1 L263.9,773.8 L264.2,773.0 L264.4,771.8 L264.7,771.0 L264.9,771.0 L265.1,771.0 L265.4,771.9 L265.6,773.0 L265.9,774.3 L266.1,776.2 L266.4,778.2 L266.6,780.1 L266.9,781.7 L267.1,782.9 L267.4,784.1 L267.6,785.1 L267.9,785.9 L268.1,786.9 L268.3,788.1 L268.6,789.4 L268.8,790.8 L269.1,791.9 L269.3,792.8 L269.6,793.3 L269.8,793.5 L270.1,793.5 L270.3,793.3 L270.6,793.3 L270.8,793.7 L271.1,794.0 L271.3,790.9 L271.6,791.5 L271.8,792.0 L272.0,792.3 L272.3,792.1 L272.5,791.9 L272.8,791.6 L273.0,791.5 L273.3,791.4 L273.5,804.8 L273.8,792.1 L274.0,792.1 L274.3,792.1 L274.5,792.1 L274.8,791.7 L275.0,791.0 L275.3,789.9 L275.5,789.1 L275.7,788.2 L276.0,787.2 L276.2,786.1 L276.5,785.2 L276.7,784.2 L277.0,783.1 L277.2,781.6 L277.5,780.1 L277.7,778.6 L278.0,777.1 L278.2,775.8 L278.5,774.6 L278.7,774.2 L279.0,774.2 L279.2,774.3 L279.4,775.0 L279.7,776.3 L279.9,777.8 L280.2,779.3 L280.4,780.4 L280.7,781.6 L280.9,783.0 L281.2,784.4 L281.4,785.6 L281.7,786.6 L281.9,787.2 L282.2,787.9 L282.4,788.1 L282.7,788.2 L282.9,788.2 L283.1,787.2 L283.4,788.1 L283.6,788.9 L283.9,789.9 L284.1,790.9 L284.4,791.9 L284.6,792.7 L284.9,793.3 L285.1,793.7 L285.4,794.1 L285.6,794.3 L285.9,794.2 L286.1,794.2 L286.4,794.1 L286.6,793.8 L286.8,793.6 L287.1,793.0 L287.3,792.3 L287.6,791.7 L287.8,791.0 L288.1,790.1 L288.3,788.7 L288.6,787.1 L288.8,785.7 L289.1,783.9 L289.3,781.8 L289.6,779.7 L289.8,778.2 L290.1,776.8 L290.3,775.7 L290.5,774.4 L290.8,773.5 L291.0,772.6 L291.3,772.1 L291.5,771.8 L291.8,772.2 L292.0,773.2 L292.3,774.4 L292.5,776.2 L292.8,778.1 L293.0,780.0 L293.3,781.7 L293.5,783.4 L293.7,784.8 L294.0,785.8 L294.2,786.7 L294.5,787.5 L294.7,788.1 L295.0,789.3 L295.2,788.9 L295.5,788.4 L295.7,788.4 L296.0,788.6 L296.2,788.7 L296.5,788.9 L296.7,789.4 L297.0,790.1 L297.2,790.9 L297.4,791.3 L297.7,791.7 L297.9,791.7 L298.2,791.8 L298.4,791.4 L298.7,790.5 L298.9,789.0 L299.2,787.5 L299.4,786.0 L299.7,784.1 L299.9,781.9 L300.2,779.8 L300.4,778.2 L300.7,777.0 L300.9,775.7 L301.1,774.8 L301.4,774.2 L301.6,773.9 L301.9,774.3 L302.1,774.7 L302.4,775.2 L302.6,776.2 L302.9,777.1 L303.1,778.2 L303.4,779.4 L303.6,780.6 L303.9,782.3 L304.1,783.8 L304.4,785.3 L304.6,786.5 L304.8,787.3 L305.1,787.9 L305.3,788.2 L305.6,788.3 L305.8,788.3 L306.1,788.5 L306.3,789.0 L306.6,789.5 L306.8,791.4 L307.1,791.1 L307.3,790.7 L307.6,789.9 L307.8,789.0 L308.1,787.7 L308.3,786.1 L308.5,784.6 L308.8,783.4 L309.0,782.3 L309.3,780.9 L309.5,779.7 L309.8,778.9 L310.0,778.2 L310.3,777.6 L310.5,777.2 L310.8,776.9 L311.0,777.0 L311.3,777.0 L311.5,777.3 L311.8,777.7 L312.0,778.2 L312.2,779.3 L312.5,780.3 L312.7,781.3 L313.0,782.2 L313.2,783.3 L313.5,784.2 L313.7,785.4 L314.0,786.5 L314.2,787.8 L314.5,789.1 L314.7,789.9 L315.0,790.7 L315.2,791.0 L315.5,791.1 L315.7,790.7 L315.9,790.3 L316.2,789.9 L316.4,789.4 L316.7,789.4 L316.9,789.5 L317.2,789.5 L317.4,789.8 L317.7,790.3 L317.9,791.3 L318.2,791.9 L318.4,792.2 L318.7,782.7 L318.9,784.3 L319.2,785.6 L319.4,786.6 L319.6,787.4 L319.9,788.2 L320.1,788.6 L320.4,789.1 L320.6,789.2 L320.9,788.8 L321.1,788.7 L321.4,788.5 L321.6,788.7 L321.9,788.6 L322.1,788.5 L322.4,789.1 L322.6,789.6 L322.8,789.7 L323.1,789.8 L323.3,790.2 L323.6,790.4 L323.8,790.7 L324.1,790.5 L324.3,790.2 L324.6,790.2 L324.8,789.8 L325.1,789.3 L325.3,789.1 L325.6,788.6 L325.8,788.2 L326.1,787.9 L326.3,787.6 L326.5,787.4 L326.8,786.5 L327.0,785.6 L327.3,784.7 L327.5,783.5 L327.8,782.2 L328.0,780.7 L328.3,779.6 L328.5,778.5 L328.8,777.6 L329.0,777.2 L329.3,777.2 L329.5,777.8 L329.8,778.6 L330.0,779.4 L330.2,780.5 L330.5,796.2 L330.7,796.2 L331.0,796.0 L331.2,795.6 L331.5,795.5 L331.7,794.9 L332.0,794.6 L332.2,794.0 L332.5,792.9 L332.7,791.5 L333.0,790.1 L333.2,788.5 L333.5,786.5 L333.7,784.8 L333.9,783.1 L334.2,781.0 L334.4,778.9 L334.7,776.8 L334.9,774.9 L335.2,773.2 L335.4,771.5 L335.7,770.6 L335.9,770.3 L336.2,770.2 L336.4,770.7 L336.7,771.4 L336.9,772.2 L337.2,773.3 L337.4,774.3 L337.6,775.6 L337.9,777.2 L338.1,779.3 L338.4,781.7 L338.6,784.2 L338.9,786.4 L339.1,788.4 L339.4,790.4 L339.6,792.1 L339.9,793.2 L340.1,794.3 L340.4,795.0 L340.6,795.6 L340.9,796.3 L341.1,796.9 L341.3,797.4 L341.6,797.6 L341.8,797.6 L342.1,798.1 L342.3,791.6 L342.6,791.8 L342.8,792.1 L343.1,791.9 L343.3,791.8 L343.6,792.0 L343.8,792.1 L344.1,792.0 L344.3,791.7 L344.6,791.9 L344.8,792.0 L345.0,792.0 L345.3,792.1 L345.5,791.7 L345.8,791.2 L346.0,791.1 L346.3,790.9 L346.5,790.6 L346.8,790.4 L347.0,790.1 L347.3,789.7 L347.5,788.9 L347.8,787.8 L348.0,786.1 L348.2,784.4 L348.5,782.6 L348.7,780.6 L349.0,779.0 L349.2,777.1 L349.5,776.0 L349.7,775.4 L350.0,775.1 L350.2,775.3 L350.5,776.1 L350.7,776.6 L351.0,777.3 L351.2,778.4 L351.5,779.6 L351.7,780.8 L351.9,781.9 L352.2,783.3 L352.4,784.9 L352.7,786.3 L352.9,787.6 L353.2,788.3 L353.4,788.8 L353.7,789.5 L353.9,790.1 L354.2,795.6 L354.4,795.5 L354.7,795.0 L354.9,794.6 L355.2,793.7 L355.4,792.7 L355.6,791.6 L355.9,790.4 L356.1,789.0 L356.4,788.1 L356.6,787.0 L356.9,785.4 L357.1,783.6 L357.4,781.8 L357.6,780.3 L357.9,778.4 L358.1,776.3 L358.4,774.9 L358.6,773.9 L358.9,773.2 L359.1,772.8 L359.3,772.8 L359.6,773.1 L359.8,773.7 L360.1,774.4 L360.3,775.5 L360.6,777.1 L360.8,778.9 L361.1,780.8 L361.3,783.2 L361.6,785.5 L361.8,787.2 L362.1,788.4 L362.3,789.7 L362.6,791.1 L362.8,791.8 L363.0,792.1 L363.3,792.4 L363.5,793.3 L363.8,794.0 L364.0,793.6 L364.3,793.6 L364.5,793.9 L364.8,794.2 L365.0,794.6 L365.3,794.6 L365.5,794.9 L365.8,795.1 L366.0,789.7 L366.3,790.0 L366.5,790.3 L366.7,790.5 L367.0,790.9 L367.2,791.4 L367.5,791.7 L367.7,791.8 L368.0,792.0 L368.2,792.2 L368.5,792.2 L368.7,792.2 L369.0,792.1 L369.2,792.3 L369.5,792.0 L369.7,791.6 L370.0,791.6 L370.2,791.2 L370.4,790.7 L370.7,790.0 L370.9,789.4 L371.2,788.9 L371.4,787.6 L371.7,785.8 L371.9,784.1 L372.2,782.0 L372.4,780.2 L372.7,778.5 L372.9,777.2 L373.2,776.9 L373.4,777.1 L373.7,777.6 L373.9,778.2 L374.1,778.6 L374.4,779.0 L374.6,779.2 L374.9,779.3 L375.1,779.9 L375.4,780.8 L375.6,782.2 L375.9,784.0 L376.1,785.6 L376.4,787.3 L376.6,788.9 L376.9,789.9 L377.1,790.4 L377.3,790.6 L377.6,790.7 L377.8,792.3 L378.1,791.8 L378.3,791.4 L378.6,791.1 L378.8,790.8 L379.1,790.9 L379.3,791.2 L379.6,791.6 L379.8,791.9 L380.1,792.2 L380.3,792.5 L380.6,792.4 L380.8,792.3 L381.0,791.9 L381.3,791.3 L381.5,790.6 L381.8,789.5 L382.0,787.9 L382.3,786.1 L382.5,784.1 L382.8,782.0 L383.0,780.4 L383.3,778.8 L383.5,777.7 L383.8,777.2 L384.0,777.0 L384.3,776.6 L384.5,776.2 L384.7,776.4 L385.0,776.7 L385.2,776.9 L385.5,777.5 L385.7,778.4 L386.0,779.7 L386.2,780.9 L386.5,782.0 L386.7,783.3 L387.0,784.6 L387.2,785.8 L387.5,786.5 L387.7,787.1 L388.0,787.7 L388.2,788.1 L388.4,788.1 L388.7,788.1 L388.9,788.2 L389.2,788.9 L389.4,789.4 L389.7,786.6 L389.9,786.8 L390.2,787.1 L390.4,787.1 L390.7,786.8 L390.9,786.7 L391.2,786.8 L391.4,787.4 L391.7,787.7 L391.9,787.9 L392.1,788.1 L392.4,788.3 L392.6,788.4 L392.9,788.6 L393.1,788.5 L393.4,788.5 L393.6,788.6 L393.9,788.7 L394.1,788.8 L394.4,788.7 L394.6,788.7 L394.9,788.7 L395.1,788.2 L395.4,787.5 L395.6,786.9 L395.8,785.6 L396.1,784.2 L396.3,782.8 L396.6,781.6 L396.8,780.3 L397.1,778.7 L397.3,777.3 L397.6,776.9 L397.8,776.3 L398.1,775.7 L398.3,775.8 L398.6,776.0 L398.8,776.6 L399.1,777.2 L399.3,777.8 L399.5,778.8 L399.8,779.8 L400.0,780.6 L400.3,781.7 L400.5,782.9 L400.8,784.2 L401.0,785.0 L401.3,785.3 L401.5,787.0 L401.8,787.6 L402.0,787.9 L402.3,788.1 L402.5,788.5 L402.8,789.3 L403.0,790.1 L403.2,790.3 L403.5,790.2 L403.7,789.8 L404.0,789.5 L404.2,789.2 L404.5,789.2 L404.7,789.4 L405.0,789.5 L405.2,789.5 L405.5,789.6 L405.7,789.2 L406.0,788.1 L406.2,787.0 L406.4,786.1 L406.7,784.9 L406.9,783.5 L407.2,782.0 L407.4,780.6 L407.7,779.4 L407.9,778.0 L408.2,776.9 L408.4,776.1 L408.7,775.6 L408.9,775.2 L409.2,775.0 L409.4,775.1 L409.7,775.2 L409.9,775.7 L410.1,776.5 L410.4,777.2 L410.6,778.2 L410.9,779.6 L411.1,781.4 L411.4,782.9 L411.6,784.2 L411.9,785.4 L412.1,786.5 L412.4,787.5 L412.6,787.8 L412.9,787.7 L413.1,787.2 L413.4,790.4 L413.6,789.3 L413.8,788.4 L414.1,787.3 L414.3,786.2 L414.6,785.4 L414.8,784.2 L415.1,783.0 L415.3,781.2 L415.6,779.6 L415.8,778.1 L416.1,776.5 L416.3,775.1 L416.6,773.7 L416.8,772.5 L417.1,771.6 L417.3,770.9 L417.5,770.1 L417.8,770.0 L418.0,770.7 L418.3,771.7 L418.5,772.8 L418.8,774.1 L419.0,775.6 L419.3,776.9 L419.5,777.9 L419.8,779.1 L420.0,780.8 L420.3,782.2 L420.5,783.6 L420.8,785.3 L421.0,786.7 L421.2,787.6 L421.5,787.9 L421.7,788.6 L422.0,788.9 L422.2,788.7 L422.5,788.7 L422.7,788.9 L423.0,789.1 L423.2,789.2 L423.5,789.0 L423.7,789.1 L424.0,789.1 L424.2,788.9 L424.5,788.9 L424.7,789.1 L424.9,789.4 L425.2,785.5 L425.4,786.3 L425.7,787.0 L425.9,787.2 L426.2,787.1 L426.4,786.6 L426.7,786.1 L426.9,785.4 L427.2,784.5 L427.4,784.0 L427.7,783.7 L427.9,783.0 L428.2,782.3 L428.4,781.3 L428.6,780.4 L428.9,778.9 L429.1,777.5 L429.4,776.3 L429.6,775.2 L429.9,774.3 L430.1,773.9 L430.4,774.1 L430.6,774.5 L430.9,775.2 L431.1,776.1 L431.4,777.0 L431.6,777.8 L431.8,778.6 L432.1,779.7 L432.3,780.7 L432.6,781.2 L432.8,781.4 L433.1,781.9 L433.3,782.3 L433.6,782.6 L433.8,782.7 L434.1,782.8 L434.3,783.2 L434.6,783.5 L434.8,783.9 L435.1,784.6 L435.3,784.8 L435.5,785.1 L435.8,785.6 L436.0,786.1 L436.3,786.2 L436.5,785.9 L436.8,785.5 L437.0,788.4 L437.3,788.2 L437.5,787.9 L437.8,787.5 L438.0,787.9 L438.3,788.1 L438.5,788.5 L438.8,789.2 L439.0,790.0 L439.2,790.7 L439.5,791.0 L439.7,790.9 L440.0,790.8 L440.2,790.5 L440.5,789.5 L440.7,788.2 L441.0,786.6 L441.2,785.4 L441.5,783.5 L441.7,781.4 L442.0,779.4 L442.2,777.6 L442.5,775.7 L442.7,773.8 L442.9,772.1 L443.2,771.0 L443.4,770.3 L443.7,769.8 L443.9,769.6 L444.2,770.0 L444.4,770.5 L444.7,771.1 L444.9,771.6 L445.2,772.4 L445.4,773.4 L445.7,774.6 L445.9,775.8 L446.2,777.6 L446.4,779.4 L446.6,781.2 L446.9,782.7 L447.1,784.1 L447.4,785.2 L447.6,786.0 L447.9,786.6 L448.1,786.9 L448.4,787.4 L448.6,787.9 L448.9,786.3 L449.1,786.3 L449.4,786.2 L449.6,786.1 L449.9,785.8 L450.1,785.6 L450.3,785.3 L450.6,785.6 L450.8,786.1 L451.1,786.8 L451.3,787.3 L451.6,787.5 L451.8,787.4 L452.1,786.8 L452.3,786.5 L452.6,786.0 L452.8,785.2 L453.1,784.3 L453.3,783.6 L453.6,783.3 L453.8,782.5 L454.0,780.9 L454.3,779.3 L454.5,777.5 L454.8,776.0 L455.0,774.4 L455.3,772.8 L455.5,771.5 L455.8,770.7 L456.0,770.2 L456.3,770.0 L456.5,770.0 L456.8,770.3 L457.0,770.8 L457.3,771.7 L457.5,772.5 L457.7,773.5 L458.0,774.6 L458.2,775.8 L458.5,777.4 L458.7,778.8 L459.0,779.8 L459.2,781.1 L459.5,782.2 L459.7,783.1 L460.0,783.5 L460.2,784.2 L460.5,784.8 L460.7,781.5 L460.9,781.9 L461.2,782.3 L461.4,782.8 L461.7,783.0 L461.9,782.9 L462.2,782.8 L462.4,782.9 L462.7,783.3 L462.9,783.3 L463.2,783.1 L463.4,783.1 L463.7,783.6 L463.9,783.9 L464.2,783.8 L464.4,783.7 L464.6,783.9 L464.9,784.1 L465.1,783.8 L465.4,783.5 L465.6,783.7 L465.9,783.8 L466.1,783.6 L466.4,783.0 L466.6,782.1 L466.9,781.3 L467.1,780.2 L467.4,778.6 L467.6,777.0 L467.9,775.8 L468.1,774.4 L468.3,773.4 L468.6,772.7 L468.8,772.2 L469.1,772.2 L469.3,772.2 L469.6,772.5 L469.8,773.0 L470.1,773.7 L470.3,774.0 L470.6,774.4 L470.8,775.3 L471.1,776.5 L471.3,777.8 L471.6,778.7 L471.8,779.9 L472.0,781.3 L472.3,782.1 L472.5,785.5 L472.8,784.8 L473.0,784.5 L473.3,784.6 L473.5,784.6 L473.8,784.9 L474.0,785.2 L474.3,785.7 L474.5,785.9 L474.8,786.0 L475.0,786.0 L475.3,785.6 L475.5,785.3 L475.7,784.9 L476.0,784.2 L476.2,783.8 L476.5,783.1 L476.7,782.3 L477.0,781.0 L477.2,779.8 L477.5,778.6 L477.7,777.3 L478.0,775.8 L478.2,774.6 L478.5,773.7 L478.7,773.1 L479.0,772.4 L479.2,772.3 L479.4,772.5 L479.7,772.3 L479.9,772.5 L480.2,773.0 L480.4,773.9 L480.7,774.7 L480.9,775.6 L481.2,776.6 L481.4,777.7 L481.7,778.7 L481.9,779.9 L482.2,781.2 L482.4,782.3 L482.7,783.2 L482.9,784.0 L483.1,784.6 L483.4,784.7 L483.6,784.5 L483.9,784.3 L484.1,784.0 L484.4,784.0 L484.6,783.8 L484.9,783.9 L485.1,784.1 L485.4,784.5 L485.6,784.6 L485.9,784.4 L486.1,784.6 L486.4,784.8 L486.6,784.9 L486.8,784.6 L487.1,783.9 L487.3,783.5 L487.6,782.7 L487.8,781.6 L488.1,780.5 L488.3,779.2 L488.6,778.1 L488.8,776.8 L489.1,775.5 L489.3,774.3 L489.6,773.2 L489.8,772.1 L490.0,771.4 L490.3,771.0 L490.5,771.3 L490.8,771.6 L491.0,772.1 L491.3,773.1 L491.5,773.8 L491.8,774.5 L492.0,775.2 L492.3,775.8 L492.5,776.5 L492.8,777.3 L493.0,778.1 L493.3,779.3 L493.5,780.3 L493.7,781.3 L494.0,782.4 L494.2,783.3 L494.5,783.7 L494.7,784.1 L495.0,783.9 L495.2,784.2 L495.5,784.1 L495.7,783.9 L496.0,783.9 L496.2,784.4 L496.5,784.6 L496.7,784.7 L497.0,785.1 L497.2,785.5 L497.4,785.9 L497.7,786.5 L497.9,786.6 L498.2,786.6 L498.4,786.2 L498.7,785.7 L498.9,784.7 L499.2,783.4 L499.4,782.1 L499.7,780.8 L499.9,779.9 L500.2,778.9 L500.4,777.8 L500.7,776.9 L500.9,775.7 L501.1,774.7 L501.4,773.9 L501.6,772.9 L501.9,772.1 L502.1,771.4 L502.4,771.0 L502.6,770.7 L502.9,770.6 L503.1,770.4 L503.4,770.5 L503.6,771.1 L503.9,772.4 L504.1,773.9 L504.4,775.4 L504.6,776.9 L504.8,778.4 L505.1,780.2 L505.3,781.2 L505.6,781.9 L505.8,782.4 L506.1,783.0 L506.3,783.3 L506.6,783.4 L506.8,783.9 L507.1,784.3 L507.3,784.4 L507.6,784.7 L507.8,784.8 L508.1,784.3 L508.3,784.3 L508.5,784.6 L508.8,785.0 L509.0,785.3 L509.3,785.5 L509.5,785.6 L509.8,786.0 L510.0,786.2 L510.3,786.0 L510.5,785.6 L510.8,785.0 L511.0,784.6 L511.3,783.7 L511.5,782.4 L511.8,780.9 L512.0,779.5 L512.2,778.2 L512.5,776.6 L512.7,775.3 L513.0,774.2 L513.2,773.2 L513.5,772.2 L513.7,771.4 L514.0,770.8 L514.2,770.3 L514.5,769.5 L514.7,769.1 L515.0,769.4 L515.2,769.7 L515.4,770.6 L515.7,771.7 L515.9,773.4 L516.2,775.2 L516.4,776.9 L516.7,778.5 L516.9,780.1 L517.2,781.5 L517.4,782.7 L517.7,783.6 L517.9,784.1 L518.2,784.4 L518.4,784.1 L518.7,784.1 L518.9,783.7 L519.1,783.2 L519.4,783.0 L519.6,782.8 L519.9,782.2 L520.1,782.5 L520.4,782.3 L520.6,782.0 L520.9,781.9 L521.1,782.0 L521.4,782.2 L521.6,782.4 L521.9,782.6 L522.1,783.1 L522.4,783.3 L522.6,783.3 L522.8,783.2 L523.1,782.9 L523.3,782.8 L523.6,782.7 L523.8,782.6 L524.1,782.0 L524.3,781.2 L524.6,780.7 L524.8,780.2 L525.1,780.0 L525.3,778.9 L525.6,777.7 L525.8,777.0 L526.1,776.2 L526.3,775.0 L526.5,773.7 L526.8,772.2 L527.0,771.5 L527.3,771.1 L527.5,770.6 L527.8,770.3 L528.0,770.3 L528.3,770.5 L528.5,770.8 L528.8,771.1 L529.0,772.0 L529.3,772.5 L529.5,772.9 L529.8,773.6 L530.0,774.8 L530.2,776.1 L530.5,777.2 L530.7,778.3 L531.0,779.6 L531.2,780.9 L531.5,781.8 L531.7,783.6 L532.0,784.1 L532.2,784.5 L532.5,784.8 L532.7,785.1 L533.0,785.3 L533.2,785.4 L533.5,785.2 L533.7,785.4 L533.9,785.3 L534.2,784.7 L534.4,784.4 L534.7,784.3 L534.9,783.9 L535.2,782.8 L535.4,781.2 L535.7,780.0 L535.9,778.7 L536.2,777.1 L536.4,775.3 L536.7,773.6 L536.9,772.5 L537.2,767.3 L537.4,770.9 L537.6,770.1 L537.9,769.6 L538.1,769.6 L538.4,769.9 L538.6,770.2 L538.9,770.9 L539.1,771.6 L539.4,772.3 L539.6,773.3 L539.9,774.2 L540.1,774.9 L540.4,775.9 L540.6,776.9 L540.9,778.1 L541.1,779.1 L541.3,779.8 L541.6,780.6 L541.8,780.9 L542.1,781.6 L542.3,781.9 L542.6,782.5 L542.8,782.9 L543.1,782.9 L543.3,783.3 L543.6,782.0 L543.8,781.9 L544.1,781.6 L544.3,781.2 L544.5,781.4 L544.8,781.4 L545.0,781.2 L545.3,781.1 L545.5,781.4 L545.8,781.6 L546.0,781.7 L546.3,781.9 L546.5,782.4 L546.8,782.4 L547.0,781.6 L547.3,780.6 L547.5,779.3 L547.8,777.7 L548.0,776.0 L548.2,774.5 L548.5,773.2 L548.7,771.9 L549.0,770.9 L549.2,770.1 L549.5,769.3 L549.7,768.7 L550.0,768.5 L550.2,768.6 L550.5,769.0 L550.7,769.9 L551.0,770.7 L551.2,771.6 L551.5,772.7 L551.7,773.8 L551.9,775.2 L552.2,776.5 L552.4,777.2 L552.7,778.2 L552.9,779.3 L553.2,780.0 L553.4,780.7 L553.7,780.9 L553.9,781.4 L554.2,781.9 L554.4,782.0 L554.7,781.9 L554.9,781.8 L555.2,781.4 L555.4,782.4 L555.6,782.1 L555.9,781.8 L556.1,781.7 L556.4,781.6 L556.6,781.4 L556.9,780.8 L557.1,780.2 L557.4,779.1 L557.6,777.8 L557.9,776.3 L558.1,775.0 L558.4,773.6 L558.6,772.3 L558.9,771.0 L559.1,770.3 L559.3,769.7 L559.6,769.6 L559.8,769.9 L560.1,770.3 L560.3,770.9 L560.6,771.7 L560.8,772.2 L561.1,772.8 L561.3,773.5 L561.6,774.3 L561.8,775.1 L562.1,776.0 L562.3,776.8 L562.6,777.7 L562.8,778.5 L563.0,778.8 L563.3,779.4 L563.5,779.7 L563.8,779.9 L564.0,779.7 L564.3,779.8 L564.5,779.8 L564.8,779.5 L565.0,779.1 L565.3,779.4 L565.5,779.9 L565.8,780.2 L566.0,780.4 L566.3,780.9 L566.5,781.5 L566.7,782.0 L567.0,782.3 L567.2,783.9 L567.5,783.4 L567.7,782.3 L568.0,780.9 L568.2,779.5 L568.5,778.1 L568.7,776.3 L569.0,774.5 L569.2,772.8 L569.5,771.6 L569.7,770.5 L569.9,769.1 L570.2,768.0 L570.4,767.2 L570.7,766.8 L570.9,766.8 L571.2,766.5 L571.4,766.6 L571.7,767.0 L571.9,768.0 L572.2,768.9 L572.4,770.0 L572.7,771.3 L572.9,772.5 L573.2,774.0 L573.4,775.4 L573.6,776.6 L573.9,777.8 L574.1,778.7 L574.4,780.3 L574.6,781.3 L574.9,781.9 L575.1,782.0 L575.4,782.2 L575.6,782.2 L575.9,782.0 L576.1,781.3 L576.4,780.7 L576.6,780.9 L576.9,781.5 L577.1,781.8 L577.3,781.8 L577.6,782.0 L577.8,782.4 L578.1,782.8 L578.3,782.6 L578.6,781.9 L578.8,781.6 L579.1,782.9 L579.3,783.4 L579.6,783.6 L579.8,783.9 L580.1,784.3 L580.3,784.5 L580.6,784.3 L580.8,783.8 L581.0,783.7 L581.3,783.5 L581.5,783.1 L581.8,782.7 L582.0,782.3 L582.3,781.8 L582.5,781.1 L582.8,779.8 L583.0,778.3 L583.3,777.1 L583.5,775.4 L583.8,773.7 L584.0,772.6 L584.3,771.5 L584.5,770.6 L584.7,769.5 L585.0,768.9 L585.2,768.5 L585.5,768.0 L585.7,767.4 L586.0,767.4 L586.2,767.7 L586.5,768.2 L586.7,768.7 L587.0,769.5 L587.2,770.8 L587.5,771.9 L587.7,773.2 L588.0,774.5 L588.2,776.0 L588.4,777.5 L588.7,778.8 L588.9,780.4 L589.2,781.8 L589.4,783.0 L589.7,783.7 L589.9,784.3 L590.2,784.9 L590.4,784.9 L590.7,785.4 L590.9,782.1 L591.2,782.2 L591.4,782.3 L591.7,782.1 L591.9,782.0 L592.1,782.3 L592.4,781.9 L592.6,781.7 L592.9,781.9 L593.1,782.3 L593.4,783.3 L593.6,784.2 L593.9,784.7 L594.1,785.2 L594.4,785.3 L594.6,785.3 L594.9,785.2 L595.1,784.6 L595.4,783.8 L595.6,783.1 L595.8,782.2 L596.1,781.4 L596.3,780.2 L596.6,778.8 L596.8,777.3 L597.1,775.6 L597.3,774.4 L597.6,773.6 L597.8,772.8 L598.1,772.0 L598.3,771.8 L598.6,771.9 L598.8,772.3 L599.0,772.8 L599.3,773.9 L599.5,775.0 L599.8,776.5 L600.0,777.9 L600.3,779.2 L600.5,780.4 L600.8,781.4 L601.0,782.3 L601.3,782.9 L601.5,783.1 L601.8,783.0 L602.0,782.9 L602.3,782.7 L602.5,782.3 L602.7,784.1 L603.0,784.1 L603.2,784.4 L603.5,784.7 L603.7,785.0 L604.0,785.3 L604.2,785.3 L604.5,785.2 L604.7,785.0 L605.0,784.8 L605.2,784.6 L605.5,784.2 L605.7,783.4 L606.0,783.2 L606.2,782.9 L606.4,782.1 L606.7,781.0 L606.9,779.9 L607.2,779.1 L607.4,777.9 L607.7,776.1 L607.9,774.4 L608.2,773.1 L608.4,772.0 L608.7,770.5 L608.9,769.5 L609.2,768.9 L609.4,769.1 L609.7,769.6 L609.9,770.1 L610.1,771.2 L610.4,772.9 L610.6,774.9 L610.9,776.7 L611.1,778.1 L611.4,779.2 L611.6,780.2 L611.9,781.2 L612.1,781.5 L612.4,781.6 L612.6,782.0 L612.9,782.9 L613.1,783.7 L613.4,784.2 L613.6,784.6 L613.8,785.2 L614.1,785.8 L614.3,786.2 L614.6,785.0 L614.8,785.0 L615.1,785.1 L615.3,785.1 L615.6,785.0 L615.8,785.1 L616.1,785.4 L616.3,785.9 L616.6,786.5 L616.8,786.5 L617.1,786.7 L617.3,786.9 L617.5,786.6 L617.8,786.2 L618.0,785.1 L618.3,784.3 L618.5,783.6 L618.8,782.4 L619.0,781.2 L619.3,780.0 L619.5,778.8 L619.8,777.3 L620.0,776.1 L620.3,775.0 L620.5,773.9 L620.8,773.3 L621.0,772.9 L621.2,772.9 L621.5,773.2 L621.7,773.4 L622.0,773.4 L622.2,773.7 L622.5,774.2 L622.7,774.8 L623.0,775.6 L623.2,776.6 L623.5,792.2 L623.7,780.1 L624.0,781.3 L624.2,782.4 L624.5,783.2 L624.7,784.0 L624.9,784.8 L625.2,785.3 L625.4,785.4 L625.7,786.0 L625.9,786.1 L626.2,785.8 L626.4,785.4 L626.7,785.1 L626.9,784.9 L627.2,785.0 L627.4,785.0 L627.7,785.1 L627.9,785.0 L628.1,785.3 L628.4,785.7 L628.6,785.6 L628.9,785.6 L629.1,785.9 L629.4,786.6 L629.6,786.9 L629.9,786.7 L630.1,786.4 L630.4,786.0 L630.6,785.3 L630.9,784.8 L631.1,783.9 L631.4,783.0 L631.6,782.1 L631.8,781.3 L632.1,780.5 L632.3,779.2 L632.6,777.4 L632.8,776.5 L633.1,775.7 L633.3,774.9 L633.6,774.5 L633.8,774.1 L634.1,774.5 L634.3,774.8 L634.6,774.8 L634.8,775.2 L635.1,776.1 L635.3,777.5 L635.5,778.7 L635.8,780.0 L636.0,781.4 L636.3,783.0 L636.5,784.1 L636.8,784.5 L637.0,785.0 L637.3,785.7 L637.5,786.3 L637.8,786.6 L638.0,787.3 L638.3,791.1 L638.5,792.0 L638.8,792.2 L639.0,792.4 L639.2,792.5 L639.5,792.0 L639.7,791.5 L640.0,791.0 L640.2,790.5 L640.5,790.0 L640.7,789.1 L641.0,788.3 L641.2,787.5 L641.5,786.6 L641.7,785.4 L642.0,784.0 L642.2,782.9 L642.5,781.8 L642.7,780.5 L642.9,779.4 L643.2,777.9 L643.4,776.7 L643.7,775.8 L643.9,774.4 L644.2,773.2 L644.4,772.3 L644.7,771.7 L644.9,771.6 L645.2,771.7 L645.4,772.1 L645.7,772.4 L645.9,773.3 L646.2,774.5 L646.4,776.2 L646.6,777.9 L646.9,779.2 L647.1,781.2 L647.4,783.4 L647.6,785.0 L647.9,786.0 L648.1,787.0 L648.4,787.9 L648.6,788.4 L648.9,788.5 L649.1,788.4 L649.4,788.7 L649.6,788.9 L649.9,788.8 L650.1,785.8 L650.3,785.9 L650.6,786.1 L650.8,786.1 L651.1,786.5 L651.3,787.1 L651.6,787.9 L651.8,788.6 L652.1,789.1 L652.3,789.7 L652.6,790.4 L652.8,790.3 L653.1,790.1 L653.3,790.0 L653.5,790.2 L653.8,790.4 L654.0,789.9 L654.3,789.6 L654.5,789.3 L654.8,788.6 L655.0,788.1 L655.3,787.0 L655.5,785.7 L655.8,784.4 L656.0,782.8 L656.3,781.1 L656.5,779.2 L656.8,777.5 L657.0,776.5 L657.2,775.6 L657.5,774.9 L657.7,774.5 L658.0,774.4 L658.2,774.6 L658.5,774.8 L658.7,775.1 L659.0,775.8 L659.2,776.9 L659.5,777.9 L659.7,779.2 L660.0,780.5 L660.2,782.1 L660.5,783.3 L660.7,784.1 L660.9,784.9 L661.2,785.3 L661.4,785.5 L661.7,785.7 L661.9,790.7 L662.2,790.7 L662.4,790.8 L662.7,790.9 L662.9,790.8 L663.2,790.3 L663.4,789.6 L663.7,788.9 L663.9,788.0 L664.2,786.5 L664.4,785.5 L664.6,784.4 L664.9,783.2 L665.1,781.8 L665.4,780.0 L665.6,778.4 L665.9,777.0 L666.1,775.5 L666.4,774.1 L666.6,772.9 L666.9,771.8 L667.1,771.2 L667.4,771.0 L667.6,770.7 L667.9,770.9 L668.1,771.8 L668.3,773.1 L668.6,774.6 L668.8,776.0 L669.1,777.3 L669.3,778.6 L669.6,779.8 L669.8,780.5 L670.1,781.4 L670.3,783.0 L670.6,784.6 L670.8,786.1 L671.1,787.3 L671.3,788.3 L671.6,789.2 L671.8,789.4 L672.0,789.4 L672.3,789.5 L672.5,789.6 L672.8,789.8 L673.0,790.4 L673.3,790.6 L673.5,790.7 L673.8,785.6 L674.0,785.7 L674.3,785.9 L674.5,786.0 L674.8,786.1 L675.0,786.7 L675.3,787.5 L675.5,788.3 L675.7,788.6 L676.0,788.9 L676.2,788.8 L676.5,788.6 L676.7,787.8 L677.0,786.9 L677.2,786.0 L677.5,785.1 L677.7,783.9 L678.0,782.7 L678.2,781.6 L678.5,780.3 L678.7,779.2 L679.0,778.2 L679.2,777.3 L679.4,776.6 L679.7,776.2 L679.9,775.8 L680.2,775.5 L680.4,775.6 L680.7,776.0 L680.9,776.7 L681.2,777.7 L681.4,779.1 L681.7,780.3 L681.9,781.1 L682.2,782.4 L682.4,783.8 L682.6,784.9 L682.9,785.8 L683.1,786.4 L683.4,786.9 L683.6,787.7 L683.9,787.8 L684.1,787.7 L684.4,787.5 L684.6,787.3 L684.9,787.3 L685.1,787.0 L685.4,786.6 L685.6,788.9 L685.9,789.1 L686.1,789.3 L686.3,789.5 L686.6,790.0 L686.8,790.4 L687.1,790.5 L687.3,790.5 L687.6,790.3 L687.8,789.7 L688.1,788.7 L688.3,787.6 L688.6,786.5 L688.8,785.4 L689.1,783.9 L689.3,782.5 L689.6,781.5 L689.8,780.4 L690.0,779.1 L690.3,777.8 L690.5,776.9 L690.8,776.1 L691.0,775.1 L691.3,774.3 L691.5,773.8 L691.8,773.4 L692.0,773.3 L692.3,773.3 L692.5,773.8 L692.8,774.5 L693.0,775.4 L693.3,776.6 L693.5,778.0 L693.7,779.2 L694.0,780.4 L694.2,781.7 L694.5,783.1 L694.7,784.4 L695.0,785.5 L695.2,786.5 L695.5,787.5 L695.7,788.5 L696.0,788.9 L696.2,789.3 L696.5,789.9 L696.7,790.2 L697.0,790.0 L697.2,790.0 L697.4,788.4 L697.7,788.1 L697.9,787.8 L698.2,787.8 L698.4,788.2 L698.7,788.8 L698.9,789.3 L699.2,789.9 L699.4,790.7 L699.7,791.2 L699.9,791.0 L700.2,790.7 L700.4,790.3 L700.7,789.5 L700.9,788.2 L701.1,786.6 L701.4,785.0 L701.6,783.7 L701.9,782.0 L702.1,780.5 L702.4,779.2 L702.6,778.1 L702.9,777.3 L703.1,776.7 L703.4,776.4 L703.6,776.2 L703.9,776.1 L704.1,775.9 L704.4,775.7 L704.6,775.9 L704.8,775.9 L705.1,776.6 L705.3,777.8 L705.6,779.4 L705.8,781.5 L706.1,783.3 L706.3,798.2 L706.6,822.9 L706.8,847.7 L707.1,872.4 L707.3,897.2 L707.6,922.0 L707.8,946.7 L708.0,971.5 L708.3,996.3 L708.5,1021.0 L708.8,1045.8 L709.0,1070.6 L709.3,1095.3 L709.5,1109.1 L709.8,1109.5 L710.0,1109.0 L710.3,1108.9 L710.5,1109.3 L710.8,1108.3 L711.0,1109.3 L711.3,1109.1 L711.5,1108.2 L711.7,1110.0 L712.0,1109.3 L712.2,1109.7 L712.5,1108.3 L712.7,1110.2 L713.0,1109.0 L713.2,1108.7 L713.5,1107.5 L713.7,1109.5 L714.0,1108.6 L714.2,1108.7 L714.5,1108.9 L714.7,1109.0 L715.0,1108.6 L715.2,1109.0 L715.4,1109.2 L715.7,1108.9 L715.9,1108.8 L716.2,1108.3 L716.4,1109.3 L716.7,1108.3 L716.9,1108.2 L717.2,1108.4 L717.4,1109.2 L717.7,1109.0 L717.9,1108.6 L718.2,1108.5 L718.4,1110.3 L718.7,1110.9 L718.9,1108.7 L719.1,1108.7 L719.4,1108.3 L719.6,1109.6 L719.9,1108.9 L720.1,1107.6 L720.4,1107.9 L720.6,1109.3 L720.9,1109.6 L721.1,1108.3 L721.4,1109.6 L721.6,1109.6 L721.9,1109.0 L722.1,1109.5 L722.4,1109.3 L722.6,1108.1 L722.8,1108.1 L723.1,1108.9 L723.3,1109.5 L723.6,1109.0 L723.8,1108.7 L724.1,1108.6 L724.3,1108.8 L724.6,1108.4 L724.8,1109.2 L725.1,1109.1 L725.3,1110.0 L725.6,1108.5 L725.8,1109.9 L726.1,1109.4 L726.3,1109.0 L726.5,1107.9 L726.8,1108.7 L727.0,1109.7 L727.3,1109.6 L727.5,1109.1 L727.8,1107.6 L728.0,1109.3 L728.3,1109.6 L728.5,1108.3 L728.8,1109.4 L729.0,1110.0 L729.3,1109.3 L729.5,1108.9 L729.8,1109.0 L730.0,1109.7 L730.2,1108.9 L730.5,1109.2 L730.7,1109.3 L731.0,1108.9 L731.2,1110.2 L731.5,1108.9 L731.7,1109.4 L732.0,1108.8 L732.2,1109.5 L732.5,1108.3 L732.7,1109.1 L733.0,1108.4 L733.2,1107.9 L733.5,1109.1 L733.7,1108.2 L733.9,1109.4 L734.2,1108.5 L734.4,1108.9 L734.7,1107.9 L734.9,1109.8 L735.2,1109.1 L735.4,1108.7 L735.7,1108.5 L735.9,1108.9 L736.2,1109.3 L736.4,1108.9 L736.7,1109.1 L736.9,1109.3 L737.1,1108.4 L737.4,1108.3 L737.6,1109.5 L737.9,1109.9 L738.1,1108.3 L738.4,1108.8 L738.6,1108.7 L738.9,1108.8 L739.1,1108.5 L739.4,1108.6 L739.6,1109.3 L739.9,1108.7 L740.1,1110.3 L740.4,1110.1 L740.6,1109.5 L740.8,1109.3 L741.1,1109.5 L741.3,1109.6 L741.6,1109.0 L741.8,1109.7 L742.1,1109.0 L742.3,1109.7 L742.6,1108.9 L742.8,1108.1 L743.1,1109.4 L743.3,1110.3 L743.6,1108.5 L743.8,1110.0 L744.1,1109.4 L744.3,1108.2 L744.5,1109.4 L744.8,1108.8 L745.0,1109.0 L745.3,1109.5 L745.5,1108.6 L745.8,1108.5 L746.0,1110.2 L746.3,1108.4 L746.5,1108.5 L746.8,1109.9 L747.0,1110.0 L747.3,1108.2 L747.5,1108.8 L747.8,1108.8 L748.0,1108.2 L748.2,1107.7 L748.5,1109.0 L748.7,1108.9 L749.0,1109.7 L749.2,1109.3 L749.5,1108.8 L749.7,1109.1 L750.0,1110.6 L750.2,1108.5 L750.5,1108.7 L750.7,1108.6 L751.0,1109.2 L751.2,1108.8 L751.5,1109.2 L751.7,1109.2 L751.9,1109.0 L752.2,1108.7 L752.4,1108.6 L752.7,1109.0 L752.9,1108.7 L753.2,1109.4 L753.4,1108.8 L753.7,1109.7 L753.9,1109.4 L754.2,1109.4 L754.4,1107.9 L754.7,1109.6 L754.9,1109.3 L755.2,1108.7 L755.4,1109.1 L755.6,1108.6 L755.9,1109.4 L756.1,1108.3 L756.4,1108.6 L756.6,1108.2 L756.9,1108.4 L757.1,1108.9 L757.4,1110.6 L757.6,1108.8 L757.9,1109.5 L758.1,1108.6 L758.4,1108.4 L758.6,1109.2 L758.9,1109.5 L759.1,1109.1 L759.3,1108.4 L759.6,1107.9 L759.8,1109.1 L760.1,1109.3 L760.3,1109.5 L760.6,1108.9 L760.8,1109.7 L761.1,1109.6 L761.3,1109.0 L761.6,1109.7 L761.8,1109.5 L762.1,1109.3 L762.3,1108.7 L762.6,1108.0 L762.8,1109.3 L763.0,1109.0 L763.3,1107.6 L763.5,1109.2 L763.8,1109.1 L764.0,1109.7 L764.3,1110.4 L764.5,1108.6 L764.8,1109.6 L765.0,1108.7 L765.3,1108.9 L765.5,1109.8 L765.8,1103.4 L766.0,1095.0 L766.2,1086.6 L766.5,1078.1 L766.7,1069.7 L767.0,1061.3 L767.2,1052.9 L767.5,1044.5 L767.7,1036.0 L768.0,1027.6 L768.2,1023.1 L768.5,1019.1 L768.7,1015.0 L769.0,1011.0 L769.2,1006.9 L769.5,1002.9 L769.7,998.9 L769.9,994.8 L770.2,993.6 L770.4,993.1 L770.7,992.6 L770.9,992.1 L771.2,991.6 L771.4,991.2 L771.7,990.7 L771.9,990.2 L772.2,989.7 L772.4,989.2 L772.7,985.0 L772.9,978.8 L773.2,972.6 L773.4,966.4 L773.6,960.2 L773.9,954.0 L774.1,947.7 L774.4,941.5 L774.6,935.3 L774.9,929.1 L775.1,922.9 L775.4,915.3 L775.6,904.6 L775.9,893.8 L776.1,883.0 L776.4,872.2 L776.6,861.4 L776.9,851.5 L777.1,844.5 L777.3,837.6 L777.6,832.3 L777.8,829.6 L778.1,826.9 L778.3,824.2 L778.6,821.5 L778.8,818.8 L779.1,816.6 L779.3,815.7 L779.6,814.8 L779.8,813.9 L780.1,813.0 L780.3,812.1 L780.6,811.2 L780.8,810.3 L781.0,809.4 L781.3,808.5 L781.5,807.6 L781.8,807.9 L782.0,808.4 L782.3,808.8 L782.5,809.3 L782.8,810.1 L783.0,810.8 L783.3,811.3 L783.5,811.5 L783.8,811.4 L784.0,811.1 L784.3,810.5 L784.5,809.6 L784.7,809.3 L785.0,808.8 L785.2,808.4 L785.5,808.3 L785.7,808.5 L786.0,808.3 L786.2,807.4 L786.5,805.9 L786.7,804.4 L787.0,803.1 L787.2,802.2 L787.5,800.7 L787.7,799.2 L788.0,798.8 L788.2,798.8 L788.4,798.5 L788.7,798.2 L788.9,798.4 L789.2,799.1 L789.4,799.8 L789.7,800.7 L789.9,802.0 L790.2,803.3 L790.4,804.6 L790.7,805.7 L790.9,806.6 L791.2,806.9 L791.4,807.1 L791.6,807.0 L791.9,806.9 L792.1,806.4 L792.4,806.4 L792.6,806.7 L792.9,807.5 L793.1,808.2 L793.4,809.1 L793.6,810.0 L793.9,810.8 L794.1,811.1 L794.4,810.9 L794.6,810.4 L794.9,810.0 L795.1,809.2 L795.3,808.1 L795.6,806.8 L795.8,805.6 L796.1,804.5 L796.3,803.2 L796.6,801.8 L796.8,800.0 L797.1,798.9 L797.3,798.0 L797.6,797.4 L797.8,796.8 L798.1,795.9 L798.3,795.8 L798.6,795.9 L798.8,796.0 L799.0,796.0 L799.3,796.7 L799.5,797.5 L799.8,798.6 L800.0,799.3 L800.3,800.1 L800.5,801.3 L800.8,802.5 L801.0,803.3 L801.3,803.9 L801.5,804.3 L801.8,804.8 L802.0,805.1 L802.3,805.0 L802.5,804.8 L802.7,804.4 L803.0,804.3 L803.2,804.2 L803.5,804.0 L803.7,803.6 L804.0,803.9 L804.2,804.1 L804.5,804.1 L804.7,803.9 L805.0,803.8 L805.2,804.1 L805.5,804.0 L805.7,804.0 L806.0,804.1 L806.2,804.5 L806.4,805.2 L806.7,805.8 L806.9,806.4 L807.2,806.7 L807.4,807.1 L807.7,807.1 L807.9,806.7 L808.2,806.3 L808.4,805.9 L808.7,805.4 L808.9,804.6 L809.2,803.6 L809.4,802.9 L809.7,801.9 L809.9,800.6 L810.1,799.1 L810.4,797.8 L810.6,796.2 L810.9,794.7 L811.1,793.4 L811.4,792.0 L811.6,790.8 L811.9,790.1 L812.1,790.0 L812.4,789.9 L812.6,790.2 L812.9,790.6 L813.1,791.2 L813.4,791.8 L813.6,792.5 L813.8,793.1 L814.1,793.9 L814.3,794.8 L814.6,795.7 L814.8,797.1 L815.1,798.5 L815.3,799.5 L815.6,800.5 L815.8,800.2 L816.1,800.3 L816.3,799.9 L816.6,799.2 L816.8,798.9 L817.1,798.7 L817.3,798.8 L817.5,798.6 L817.8,798.6 L818.0,799.2 L818.3,799.9 L818.5,800.3 L818.8,800.9 L819.0,801.3 L819.3,801.4 L819.5,801.3 L819.8,800.6 L820.0,800.1 L820.3,799.2 L820.5,798.2 L820.7,797.2 L821.0,796.6 L821.2,795.9 L821.5,795.1 L821.7,793.9 L822.0,793.2 L822.2,792.7 L822.5,785.9 L822.7,791.3 L823.0,790.8 L823.2,790.8 L823.5,791.2 L823.7,791.8 L824.0,792.8 L824.2,793.7 L824.4,794.9 L824.7,796.0 L824.9,797.0 L825.2,797.6 L825.4,798.4 L825.7,799.4 L825.9,800.3 L826.2,801.1 L826.4,801.5 L826.7,801.8 L826.9,802.3 L827.2,802.3 L827.4,801.8 L827.7,802.1 L827.9,801.9 L828.1,801.9 L828.4,802.0 L828.6,802.2 L828.9,802.9 L829.1,803.6 L829.4,804.2 L829.6,804.6 L829.9,804.7 L830.1,804.4 L830.4,804.0 L830.6,803.7 L830.9,803.4 L831.1,803.2 L831.4,802.7 L831.6,802.2 L831.8,801.7 L832.1,800.7 L832.3,799.6 L832.6,798.6 L832.8,797.7 L833.1,797.1 L833.3,796.6 L833.6,796.1 L833.8,795.8 L834.1,796.0 L834.3,796.5 L834.6,796.9 L834.8,797.4 L835.1,798.2 L835.3,799.3 L835.5,799.9 L835.8,800.1 L836.0,800.4 L836.3,801.0 L836.5,801.7 L836.8,802.3 L837.0,802.9 L837.3,804.0 L837.5,805.1 L837.8,806.0 L838.0,806.5 L838.3,807.0 L838.5,807.2 L838.8,807.2 L839.0,807.3 L839.2,807.3 L839.5,805.6 L839.7,806.0 L840.0,806.7 L840.2,807.3 L840.5,807.9 L840.7,808.0 L841.0,808.0 L841.2,807.9 L841.5,807.5 L841.7,806.6 L842.0,806.0 L842.2,805.3 L842.5,804.9 L842.7,804.9 L842.9,804.8 L843.2,804.7 L843.4,804.5 L843.7,804.4 L843.9,804.7 L844.2,805.1 L844.4,805.8 L844.7,806.6 L844.9,806.7 L845.2,806.8 L845.4,806.5 L845.7,805.9 L845.9,804.9 L846.1,804.0 L846.4,803.6 L846.6,803.2 L846.9,802.5 L847.1,801.8 L847.4,801.1 L847.6,800.6 L847.9,799.8 L848.1,799.3 L848.4,798.9 L848.6,798.8 L848.9,798.5 L849.1,798.8 L849.4,799.0 L849.6,799.3 L849.8,799.7 L850.1,800.2 L850.3,801.0 L850.6,801.7 L850.8,802.3 L851.1,802.8 L851.3,805.5 L851.6,805.8 L851.8,806.0 L852.1,806.3 L852.3,806.9 L852.6,807.5 L852.8,808.1 L853.1,807.9 L853.3,807.7 L853.5,807.1 L853.8,806.6 L854.0,805.8 L854.3,804.8 L854.5,803.9 L854.8,803.1 L855.0,802.6 L855.3,801.8 L855.5,800.6 L855.8,799.2 L856.0,797.9 L856.3,797.0 L856.5,795.9 L856.8,795.1 L857.0,794.3 L857.2,794.3 L857.5,794.5 L857.7,794.6 L858.0,795.4 L858.2,795.9 L858.5,796.6 L858.7,797.5 L859.0,798.7 L859.2,799.5 L859.5,800.3 L859.7,801.0 L860.0,801.9 L860.2,803.0 L860.5,803.4 L860.7,803.6 L860.9,804.0 L861.2,804.0 L861.4,804.0 L861.7,804.0 L861.9,803.8 L862.2,803.8 L862.4,803.8 L862.7,804.2 L862.9,804.6 L863.2,802.8 L863.4,803.0 L863.7,803.1 L863.9,803.3 L864.2,803.4 L864.4,803.1 L864.6,802.7 L864.9,802.3 L865.1,802.2 L865.4,802.1 L865.6,802.0 L865.9,802.0 L866.1,801.8 L866.4,801.6 L866.6,801.1 L866.9,800.4 L867.1,799.6 L867.4,798.8 L867.6,797.9 L867.9,797.0 L868.1,796.4 L868.3,795.6 L868.6,795.1 L868.8,794.6 L869.1,794.2 L869.3,794.2 L869.6,794.3 L869.8,794.3 L870.1,794.4 L870.3,794.7 L870.6,795.0 L870.8,795.5 L871.1,796.1 L871.3,796.9 L871.6,797.7 L871.8,798.8 L872.0,799.6 L872.3,800.3 L872.5,800.5 L872.8,800.5 L873.0,800.6 L873.3,800.5 L873.5,800.1 L873.8,799.8 L874.0,799.8 L874.3,799.8 L874.5,799.7 L874.8,799.7 L875.0,798.9 L875.2,798.8 L875.5,798.5 L875.7,798.6 L876.0,799.2 L876.2,799.7 L876.5,800.0 L876.7,800.4 L877.0,801.2 L877.2,801.5 L877.5,801.5 L877.7,801.3 L878.0,801.2 L878.2,801.1 L878.5,800.6 L878.7,800.2 L878.9,799.7 L879.2,799.1 L879.4,798.5 L879.7,797.4 L879.9,796.8 L880.2,796.2 L880.4,795.3 L880.7,794.4 L880.9,793.7 L881.2,793.2 L881.4,792.8 L881.7,792.5 L881.9,792.2 L882.2,792.4 L882.4,793.1 L882.6,793.8 L882.9,794.7 L883.1,795.0 L883.4,795.4 L883.6,795.9 L883.9,796.2 L884.1,796.5 L884.4,796.2 L884.6,795.7 L884.9,795.8 L885.1,796.0 L885.4,796.0 L885.6,795.6 L885.9,795.2 L886.1,795.0 L886.3,795.0 L886.6,794.8 L886.8,796.4 L887.1,796.2 L887.3,796.1 L887.6,796.5 L887.8,796.8 L888.1,796.8 L888.3,797.0 L888.6,797.7 L888.8,798.1 L889.1,798.3 L889.3,798.6 L889.6,799.1 L889.8,799.7 L890.0,799.8 L890.3,799.5 L890.5,798.8 L890.8,797.9 L891.0,796.2 L891.3,794.6 L891.5,792.6 L891.8,790.9 L892.0,789.6 L892.3,788.3 L892.5,787.3 L892.8,786.7 L893.0,785.9 L893.3,785.2 L893.5,784.8 L893.7,784.8 L894.0,785.1 L894.2,785.3 L894.5,785.8 L894.7,786.9 L895.0,783.0 L895.2,788.8 L895.5,789.6 L895.7,790.5 L896.0,791.2 L896.2,792.1 L896.5,793.2 L896.7,793.7 L897.0,793.9 L897.2,794.0 L897.4,794.1 L897.7,794.1 L897.9,793.8 L898.2,793.6 L898.4,794.0 L898.7,795.9 L898.9,796.4 L899.2,797.0 L899.4,797.8 L899.7,798.3 L899.9,798.8 L900.2,799.3 L900.4,799.8 L900.7,800.4 L900.9,800.6 L901.1,800.6 L901.4,800.4 L901.6,800.3 L901.9,800.1 L902.1,799.7 L902.4,799.5 L902.6,798.6 L902.9,797.7 L903.1,796.4 L903.4,795.0 L903.6,793.6 L903.9,792.0 L904.1,790.6 L904.3,789.3 L904.6,788.3 L904.8,787.4 L905.1,787.0 L905.3,786.5 L905.6,786.7 L905.8,787.1 L906.1,788.1 L906.3,788.9 L906.6,789.8 L906.8,791.1 L907.1,792.6 L907.3,794.0 L907.6,795.3 L907.8,796.7 L908.0,798.4 L908.3,799.9 L908.5,801.4 L908.8,802.6 L909.0,803.6 L909.3,804.0 L909.5,804.2 L909.8,804.2 L910.0,804.2 L910.3,803.8 L910.5,800.5 L910.8,798.0 L911.0,795.6 L911.3,797.2 L911.5,798.9 L911.7,798.0 L912.0,797.2 L912.2,798.0 L912.5,798.9 L912.7,797.2 L913.0,795.6 L913.2,798.0 L913.5,800.5 L913.7,799.7 L914.0,798.9 L914.2,798.0 L914.5,797.2 L914.7,798.9 L915.0,800.5 L915.2,838.2 L915.4,875.9 L915.7,982.5 L915.9,1030.0 L916.2,1030.0 L916.4,1030.0 L916.7,1030.0 L916.9,954.6 L917.2,885.8 L917.4,816.9 L917.7,813.6 L917.9,810.3 L918.2,808.7 L918.4,807.1 L918.7,808.7 L918.9,810.3 L919.1,807.1 L919.4,803.8 L919.6,802.1 L919.9,800.5 L920.1,801.3 L920.4,802.1 L920.6,800.5 L920.9,798.9 L921.1,802.1 L921.4,805.4 L921.6,803.8 L921.9,802.1 L922.1,799.7 L922.4,797.2 L922.6,799.7 L922.8,802.1 L923.1,799.7 L923.3,797.2 L923.6,802.1 L923.8,807.1" fill="none" stroke="#13284d" stroke-width="1.7" stroke-linejoin="round"/>
<line x1="709" y1="1109" x2="709" y2="1115.3" stroke="#111" stroke-width="1.5"/>
<line x1="914.4" y1="786.5" x2="914.4" y2="800" stroke="#111" stroke-width="1.1"/>
<line x1="918.9" y1="797" x2="918.9" y2="806" stroke="#111" stroke-width="1.1"/>
<line x1="141.1" y1="721.8" x2="969.7" y2="721.8" stroke="#000000" stroke-opacity="0.13" stroke-width="1.05"/>
<line x1="969.7" y1="721.8" x2="969.7" y2="1115.3" stroke="#000000" stroke-opacity="0.13" stroke-width="1.05"/>
<line x1="141.1" y1="721.8" x2="141.1" y2="1115.3" stroke="#5a5a5a" stroke-width="1.4"/>
<line x1="141.1" y1="1115.3" x2="969.7" y2="1115.3" stroke="#5a5a5a" stroke-width="1.4"/>
<line x1="141.1" y1="1115.3" x2="148" y2="1115.3" stroke="#5a5a5a" stroke-width="1.4"/>
<text x="132.3" y="1123.7" font-family="'Liberation Sans', Arial, Helvetica, sans-serif" font-size="21.2" fill="#2a2a2a" stroke="#2a2a2a" stroke-width="0.3" text-anchor="end">0</text>
<line x1="141.1" y1="1049.7" x2="148" y2="1049.7" stroke="#5a5a5a" stroke-width="1.4"/>
<text x="132.3" y="1058.1" font-family="'Liberation Sans', Arial, Helvetica, sans-serif" font-size="21.2" fill="#2a2a2a" stroke="#2a2a2a" stroke-width="0.3" text-anchor="end">20</text>
<line x1="141.1" y1="984.1" x2="148" y2="984.1" stroke="#5a5a5a" stroke-width="1.4"/>
<text x="132.3" y="992.5" font-family="'Liberation Sans', Arial, Helvetica, sans-serif" font-size="21.2" fill="#2a2a2a" stroke="#2a2a2a" stroke-width="0.3" text-anchor="end">40</text>
<line x1="141.1" y1="918.5" x2="148" y2="918.5" stroke="#5a5a5a" stroke-width="1.4"/>
<text x="132.3" y="926.9" font-family="'Liberation Sans', Arial, Helvetica, sans-serif" font-size="21.2" fill="#2a2a2a" stroke="#2a2a2a" stroke-width="0.3" text-anchor="end">60</text>
<line x1="141.1" y1="853.0" x2="148" y2="853.0" stroke="#5a5a5a" stroke-width="1.4"/>
<text x="132.3" y="861.4" font-family="'Liberation Sans', Arial, Helvetica, sans-serif" font-size="21.2" fill="#2a2a2a" stroke="#2a2a2a" stroke-width="0.3" text-anchor="end">80</text>
<line x1="141.1" y1="787.4" x2="148" y2="787.4" stroke="#5a5a5a" stroke-width="1.4"/>
<text x="132.3" y="795.8" font-family="'Liberation Sans', Arial, Helvetica, sans-serif" font-size="21.2" fill="#2a2a2a" stroke="#2a2a2a" stroke-width="0.3" text-anchor="end">100</text>
<line x1="141.1" y1="721.8" x2="148" y2="721.8" stroke="#5a5a5a" stroke-width="1.4"/>
<text x="132.3" y="730.2" font-family="'Liberation Sans', Arial, Helvetica, sans-serif" font-size="21.2" fill="#2a2a2a" stroke="#2a2a2a" stroke-width="0.3" text-anchor="end">120</text>
<text x="141.1" y="1144.6" font-family="'Liberation Sans', Arial, Helvetica, sans-serif" font-size="21.8" fill="#2a2a2a" stroke="#2a2a2a" stroke-width="0.3" text-anchor="middle">Jun 01</text>
<line x1="306.8" y1="1107.8" x2="306.8" y2="1115.3" stroke="#5a5a5a" stroke-width="1.4"/>
<text x="306.8" y="1144.6" font-family="'Liberation Sans', Arial, Helvetica, sans-serif" font-size="21.8" fill="#2a2a2a" stroke="#2a2a2a" stroke-width="0.3" text-anchor="middle">Jun 15</text>
<line x1="472.5" y1="1107.8" x2="472.5" y2="1115.3" stroke="#5a5a5a" stroke-width="1.4"/>
<text x="472.5" y="1144.6" font-family="'Liberation Sans', Arial, Helvetica, sans-serif" font-size="21.8" fill="#2a2a2a" stroke="#2a2a2a" stroke-width="0.3" text-anchor="middle">Jun 29</text>
<line x1="638.3" y1="1107.8" x2="638.3" y2="1115.3" stroke="#5a5a5a" stroke-width="1.4"/>
<text x="638.3" y="1144.6" font-family="'Liberation Sans', Arial, Helvetica, sans-serif" font-size="21.8" fill="#2a2a2a" stroke="#2a2a2a" stroke-width="0.3" text-anchor="middle">Jul 13</text>
<line x1="804.0" y1="1107.8" x2="804.0" y2="1115.3" stroke="#5a5a5a" stroke-width="1.4"/>
<text x="804.0" y="1144.6" font-family="'Liberation Sans', Arial, Helvetica, sans-serif" font-size="21.8" fill="#2a2a2a" stroke="#2a2a2a" stroke-width="0.3" text-anchor="middle">Jul 27</text>
<line x1="969.7" y1="1107.8" x2="969.7" y2="1115.3" stroke="#5a5a5a" stroke-width="1.4"/>
<text x="969.7" y="1144.6" font-family="'Liberation Sans', Arial, Helvetica, sans-serif" font-size="21.8" fill="#2a2a2a" stroke="#2a2a2a" stroke-width="0.3" text-anchor="middle">Aug 10</text>
<text x="926.5" y="1172.4" font-family="'Liberation Sans', Arial, Helvetica, sans-serif" font-size="21.8" fill="#2a2a2a" stroke="#2a2a2a" stroke-width="0.3" text-anchor="middle">2024</text>
<text y="712.9" font-family="'Liberation Sans', Arial, Helvetica, sans-serif" font-size="23" fill="#151515"><tspan x="442" textLength="49" lengthAdjust="spacingAndGlyphs">BGD</tspan> <tspan x="500" font-family="DejaVu Sans, sans-serif">/</tspan><tspan x="514" font-family="DejaVu Sans, sans-serif">/</tspan> <tspan x="533.6" textLength="135.6" lengthAdjust="spacingAndGlyphs">connectivity</tspan></text>
<text x="926" y="814" font-family="'Liberation Sans', Arial, Helvetica, sans-serif" font-size="18.3" fill="#111">94</text>
<rect x="375.2" y="843.1" width="291.5" height="118.8" fill="#e4e4e4" fill-opacity="0.47"/>
<text transform="translate(661.3,876.7) scale(1,0.92)" x="0" y="0" font-family="'DejaVu Sans Mono', 'Liberation Mono', monospace" font-size="32" fill="#d9401f" stroke="#f2f2f2" stroke-width="0.2" text-anchor="end" textLength="272.2" lengthAdjust="spacing">Previous Event</text>
<text transform="translate(659,912.6) scale(1,0.92)" x="0" y="0" font-family="'DejaVu Sans Mono', 'Liberation Mono', monospace" font-size="32" fill="#111" stroke="#f2f2f2" stroke-width="0.2" text-anchor="end">8pm Jul-18</text>
<text transform="translate(659,948.2) scale(1,0.92)" x="0" y="0" font-family="'DejaVu Sans Mono', 'Liberation Mono', monospace" font-size="32" fill="#111" stroke="#f2f2f2" stroke-width="0.2" text-anchor="end">to 6pm Jul-24</text>
<line x1="667" y1="847.1" x2="667" y2="927.1" stroke="#222" stroke-width="1.5"/>
<line x1="667" y1="886.3" x2="703.5" y2="886.3" stroke="#1a1a1a" stroke-width="1.6"/>
<polyline points="695.6,882.9 704.3,886.3 695.6,889.7" fill="none" stroke="#111" stroke-width="1.8" stroke-linejoin="round" stroke-linecap="round"/>
</svg>
</body></html>
